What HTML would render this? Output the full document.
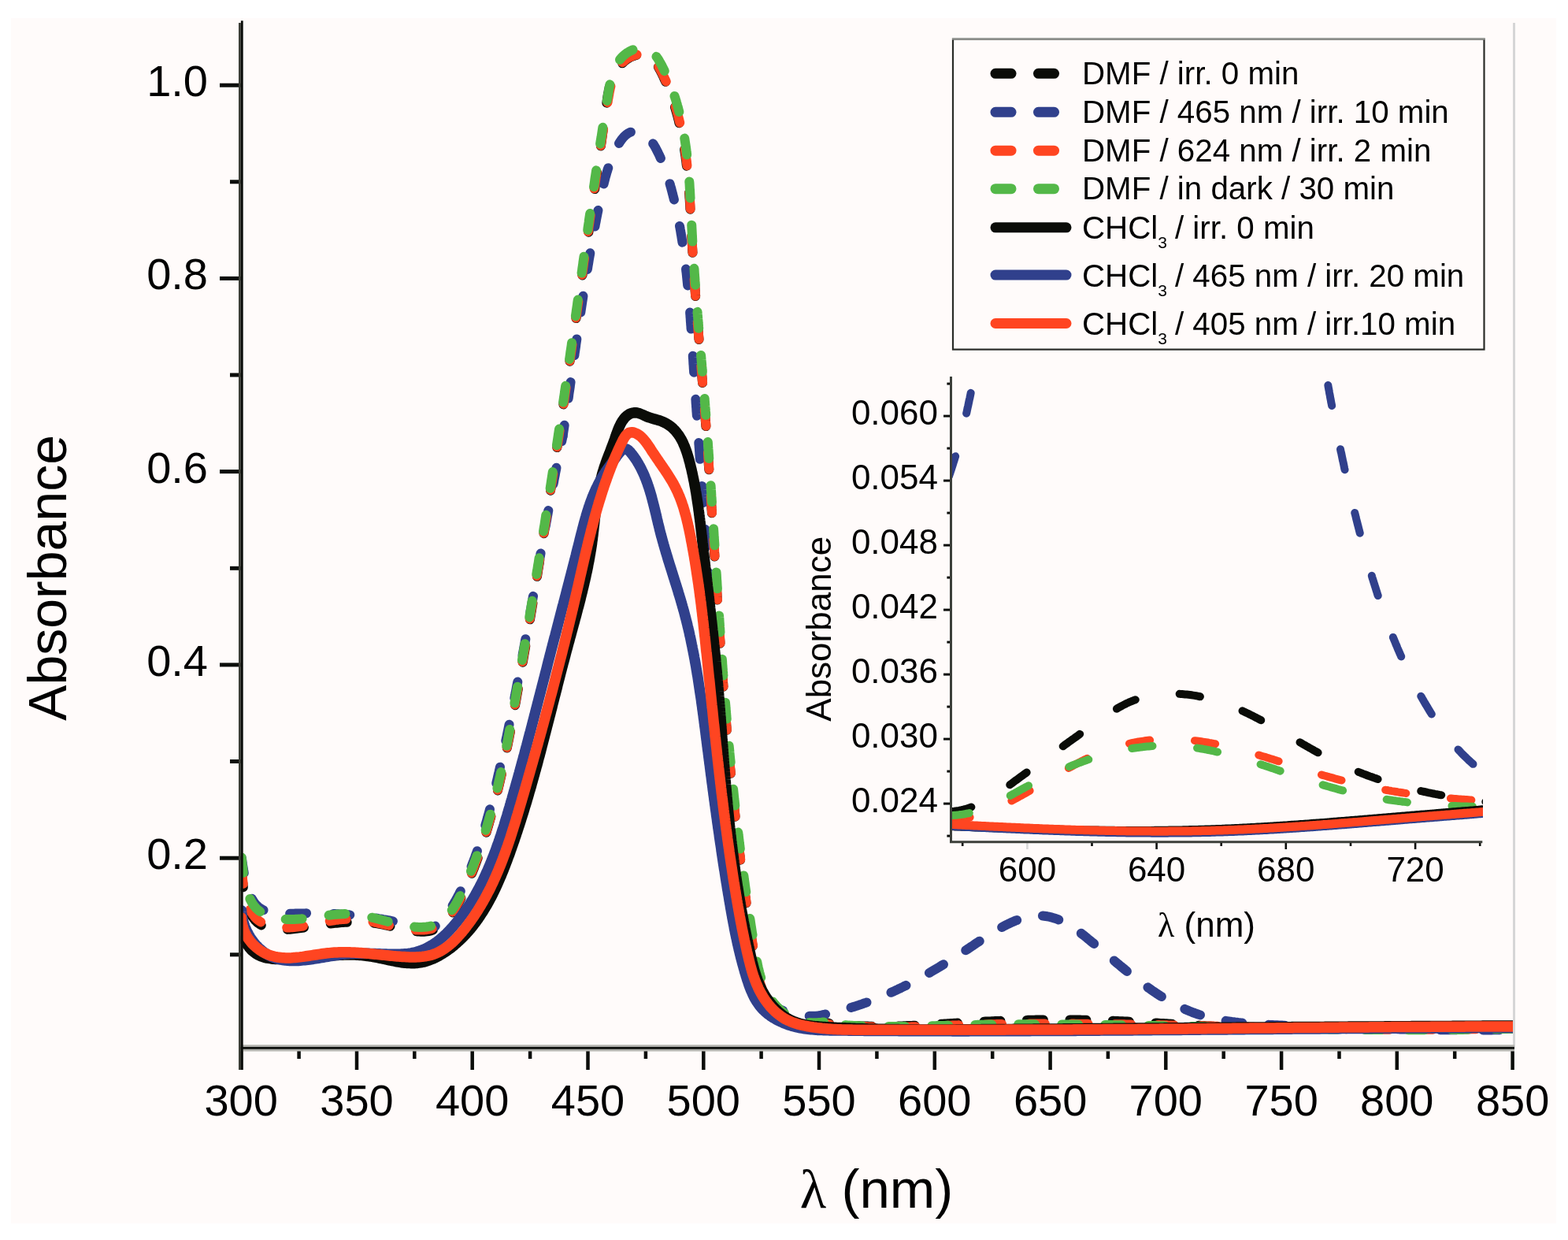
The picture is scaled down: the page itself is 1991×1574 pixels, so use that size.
<!DOCTYPE html>
<html><head><meta charset="utf-8"><title>Absorbance spectra</title>
<style>html,body{margin:0;padding:0;background:#fff;overflow:hidden}svg{display:block}</style>
</head><body>
<svg width="1991" height="1574" viewBox="0 0 1991 1574" font-family="'Liberation Sans', sans-serif" fill="#000">
<rect x="0" y="0" width="1991" height="1574" fill="#ffffff"/>
<rect x="14" y="23" width="1962" height="1530" fill="#fffbfa"/>
<defs><clipPath id="cm"><rect x="303" y="25" width="1619" height="1303"/></clipPath><clipPath id="ci"><rect x="1207" y="478" width="676" height="590"/></clipPath></defs>
<g clip-path="url(#cm)">
<path d="M306.8,1106.8 L307.0,1108.7 L307.1,1110.7 L307.3,1112.7 L307.5,1114.7 L307.7,1116.7 L307.9,1118.7 L308.2,1120.7 L308.4,1122.7 L308.7,1124.7 L308.9,1126.6 L309.2,1128.6 L309.6,1130.6 L309.9,1132.6 L310.3,1134.5 L310.7,1136.5 L311.1,1138.4 L311.5,1140.4 L312.0,1142.3 L312.5,1144.3 L313.0,1146.2 L313.6,1148.1 L314.2,1150.0 L314.9,1151.9 L315.6,1153.8 L316.3,1155.6 L317.1,1157.5 L318.0,1159.3 L318.9,1161.0 L319.9,1162.8 L321.0,1164.4 L322.2,1166.1 L323.4,1167.6 L324.8,1169.1 L326.2,1170.5 L327.8,1171.8 L329.4,1172.9 L331.1,1174.0 L332.8,1175.0 L334.6,1175.9 L336.4,1176.7 L338.3,1177.4 L340.2,1178.0 L342.2,1178.5 L344.1,1178.9 L346.1,1179.2 L348.1,1179.5 L350.0,1179.8 L352.0,1179.9 L354.0,1180.0 L356.0,1180.1 L358.0,1180.1 L360.0,1180.1 L362.0,1180.0 L364.0,1180.0 L366.0,1179.8 L368.0,1179.7 L370.0,1179.5 L372.0,1179.3 L374.0,1179.1 L376.0,1178.9 L378.0,1178.6 L379.9,1178.4 L381.9,1178.1 L383.9,1177.8 L385.9,1177.5 L387.9,1177.2 L389.8,1176.9 L391.8,1176.6 L393.8,1176.3 L395.8,1176.0 L397.8,1175.7 L399.7,1175.4 L401.7,1175.1 L403.7,1174.8 L405.7,1174.5 L407.6,1174.3 L409.6,1174.0 L411.6,1173.7 L413.6,1173.4 L415.6,1173.1 L417.6,1172.9 L419.5,1172.6 L421.5,1172.4 L423.5,1172.1 L425.5,1171.9 L427.5,1171.7 L429.5,1171.5 L431.5,1171.3 L433.5,1171.1 L435.4,1171.0 L437.4,1170.8 L439.4,1170.7 L441.4,1170.6 L443.4,1170.5 L445.4,1170.4 L447.4,1170.3 L449.4,1170.3 L451.4,1170.3 L453.4,1170.3 L455.4,1170.3 L457.4,1170.3 L459.4,1170.4 L461.4,1170.5 L463.4,1170.6 L465.4,1170.8 L467.4,1170.9 L469.4,1171.1 L471.4,1171.3 L473.4,1171.5 L475.4,1171.8 L477.3,1172.1 L479.3,1172.4 L481.3,1172.7 L483.3,1173.1 L485.2,1173.5 L487.2,1173.9 L489.1,1174.3 L491.1,1174.7 L493.0,1175.2 L495.0,1175.6 L496.9,1176.1 L498.9,1176.5 L500.8,1177.0 L502.8,1177.5 L504.7,1177.9 L506.7,1178.4 L508.6,1178.8 L510.6,1179.3 L512.5,1179.7 L514.5,1180.1 L516.4,1180.5 L518.4,1180.9 L520.4,1181.2 L522.3,1181.6 L524.3,1181.9 L526.3,1182.1 L528.3,1182.3 L530.3,1182.5 L532.3,1182.6 L534.3,1182.7 L536.3,1182.7 L538.3,1182.7 L540.3,1182.5 L542.3,1182.3 L544.2,1182.0 L546.2,1181.6 L548.1,1181.1 L550.0,1180.5 L551.9,1179.8 L553.7,1179.0 L555.5,1178.1 L557.2,1177.1 L558.9,1176.0 L560.5,1174.8 L562.1,1173.5 L563.6,1172.2 L565.0,1170.8 L566.4,1169.4 L567.8,1167.9 L569.1,1166.4 L570.4,1164.9 L571.6,1163.3 L572.8,1161.7 L574.0,1160.1 L575.1,1158.4 L576.2,1156.8 L577.3,1155.1 L578.3,1153.4 L579.3,1151.6 L580.3,1149.9 L581.3,1148.1 L582.2,1146.4 L583.1,1144.6 L584.1,1142.8 L585.0,1141.0 L585.8,1139.3 L586.7,1137.5 L587.6,1135.6 L588.4,1133.8 L589.2,1132.0 L590.1,1130.2 L590.9,1128.4 L591.7,1126.5 L592.5,1124.7 L593.3,1122.9 L594.1,1121.0 L594.9,1119.2 L595.6,1117.4 L596.4,1115.5 L597.2,1113.7 L597.9,1111.8 L598.7,1110.0 L599.4,1108.1 L600.2,1106.2 L600.9,1104.4 L601.7,1102.5 L602.4,1100.7 L603.1,1098.8 L603.8,1096.9 L604.5,1095.1 L605.2,1093.2 L605.9,1091.3 L606.6,1089.4 L607.3,1087.5 L607.9,1085.7 L608.6,1083.8 L609.3,1081.9 L609.9,1080.0 L610.6,1078.1 L611.2,1076.2 L611.8,1074.3 L612.5,1072.4 L613.1,1070.5 L613.7,1068.6 L614.3,1066.7 L615.0,1064.8 L615.6,1062.9 L616.2,1061.0 L616.8,1059.1 L617.4,1057.2 L617.9,1055.3 L618.5,1053.3 L619.1,1051.4 L619.7,1049.5 L620.2,1047.6 L620.8,1045.7 L621.3,1043.8 L621.9,1041.8 L622.4,1039.9 L623.0,1038.0 L623.5,1036.1 L624.1,1034.1 L624.6,1032.2 L625.1,1030.3 L625.6,1028.3 L626.2,1026.4 L626.7,1024.5 L627.2,1022.5 L627.7,1020.6 L628.2,1018.7 L628.7,1016.7 L629.2,1014.8 L629.7,1012.9 L630.2,1010.9 L630.6,1009.0 L631.1,1007.0 L631.6,1005.1 L632.1,1003.1 L632.5,1001.2 L633.0,999.3 L633.5,997.3 L633.9,995.4 L634.4,993.4 L634.8,991.5 L635.3,989.5 L635.7,987.6 L636.1,985.6 L636.6,983.7 L637.0,981.7 L637.5,979.8 L637.9,977.8 L638.3,975.9 L638.7,973.9 L639.2,971.9 L639.6,970.0 L640.0,968.0 L640.4,966.1 L640.8,964.1 L641.2,962.2 L641.6,960.2 L642.0,958.3 L642.5,956.3 L642.9,954.3 L643.2,952.4 L643.6,950.4 L644.0,948.5 L644.4,946.5 L644.8,944.5 L645.2,942.6 L645.6,940.6 L646.0,938.6 L646.4,936.7 L646.7,934.7 L647.1,932.8 L647.5,930.8 L647.9,928.8 L648.3,926.9 L648.6,924.9 L649.0,922.9 L649.4,921.0 L649.7,919.0 L650.1,917.0 L650.5,915.1 L650.8,913.1 L651.2,911.1 L651.6,909.2 L651.9,907.2 L652.3,905.2 L652.6,903.3 L653.0,901.3 L653.4,899.3 L653.7,897.4 L654.1,895.4 L654.4,893.4 L654.8,891.5 L655.1,889.5 L655.5,887.5 L655.8,885.5 L656.2,883.6 L656.5,881.6 L656.9,879.6 L657.2,877.7 L657.6,875.7 L658.0,873.7 L658.3,871.8 L658.6,869.8 L659.0,867.8 L659.3,865.9 L659.7,863.9 L660.0,861.9 L660.4,859.9 L660.7,858.0 L661.1,856.0 L661.4,854.0 L661.8,852.1 L662.1,850.1 L662.5,848.1 L662.8,846.2 L663.1,844.2 L663.5,842.2 L663.8,840.2 L664.2,838.3 L664.5,836.3 L664.8,834.3 L665.2,832.4 L665.5,830.4 L665.9,828.4 L666.2,826.5 L666.5,824.5 L666.9,822.5 L667.2,820.5 L667.6,818.6 L667.9,816.6 L668.2,814.6 L668.6,812.7 L668.9,810.7 L669.2,808.7 L669.6,806.7 L669.9,804.8 L670.2,802.8 L670.6,800.8 L670.9,798.8 L671.2,796.9 L671.6,794.9 L671.9,792.9 L672.2,791.0 L672.6,789.0 L672.9,787.0 L673.2,785.0 L673.5,783.1 L673.9,781.1 L674.2,779.1 L674.5,777.1 L674.9,775.2 L675.2,773.2 L675.5,771.2 L675.8,769.3 L676.2,767.3 L676.5,765.3 L676.8,763.3 L677.1,761.4 L677.5,759.4 L677.8,757.4 L678.1,755.4 L678.4,753.5 L678.7,751.5 L679.1,749.5 L679.4,747.5 L679.7,745.6 L680.0,743.6 L680.4,741.6 L680.7,739.6 L681.0,737.7 L681.3,735.7 L681.6,733.7 L682.0,731.8 L682.3,729.8 L682.6,727.8 L682.9,725.8 L683.2,723.9 L683.5,721.9 L683.9,719.9 L684.2,717.9 L684.5,716.0 L684.8,714.0 L685.1,712.0 L685.4,710.0 L685.8,708.1 L686.1,706.1 L686.4,704.1 L686.7,702.1 L687.0,700.2 L687.3,698.2 L687.6,696.2 L687.9,694.2 L688.3,692.3 L688.6,690.3 L688.9,688.3 L689.2,686.3 L689.5,684.3 L689.8,682.4 L690.1,680.4 L690.4,678.4 L690.7,676.4 L691.1,674.5 L691.4,672.5 L691.7,670.5 L692.0,668.5 L692.3,666.6 L692.6,664.6 L692.9,662.6 L693.2,660.6 L693.5,658.7 L693.8,656.7 L694.1,654.7 L694.4,652.7 L694.7,650.8 L695.0,648.8 L695.4,646.8 L695.7,644.8 L696.0,642.8 L696.3,640.9 L696.6,638.9 L696.9,636.9 L697.2,634.9 L697.5,633.0 L697.8,631.0 L698.1,629.0 L698.4,627.0 L698.7,625.1 L699.0,623.1 L699.3,621.1 L699.6,619.1 L699.9,617.1 L700.2,615.2 L700.5,613.2 L700.8,611.2 L701.1,609.2 L701.4,607.3 L701.7,605.3 L702.0,603.3 L702.3,601.3 L702.6,599.4 L702.9,597.4 L703.2,595.4 L703.5,593.4 L703.8,591.4 L704.1,589.5 L704.4,587.5 L704.7,585.5 L705.0,583.5 L705.3,581.6 L705.6,579.6 L705.9,577.6 L706.2,575.6 L706.5,573.6 L706.8,571.7 L707.1,569.7 L707.4,567.7 L707.7,565.7 L708.0,563.8 L708.3,561.8 L708.6,559.8 L708.9,557.8 L709.1,555.8 L709.4,553.9 L709.7,551.9 L710.0,549.9 L710.3,547.9 L710.6,546.0 L710.9,544.0 L711.2,542.0 L711.5,540.0 L711.8,538.0 L712.1,536.1 L712.4,534.1 L712.7,532.1 L713.0,530.1 L713.3,528.1 L713.6,526.2 L713.9,524.2 L714.1,522.2 L714.4,520.2 L714.7,518.3 L715.0,516.3 L715.3,514.3 L715.6,512.3 L715.9,510.3 L716.2,508.4 L716.5,506.4 L716.8,504.4 L717.1,502.4 L717.4,500.4 L717.7,498.5 L717.9,496.5 L718.2,494.5 L718.5,492.5 L718.8,490.6 L719.1,488.6 L719.4,486.6 L719.7,484.6 L720.0,482.6 L720.3,480.7 L720.6,478.7 L720.9,476.7 L721.1,474.7 L721.4,472.7 L721.7,470.8 L722.0,468.8 L722.3,466.8 L722.6,464.8 L722.9,462.9 L723.2,460.9 L723.5,458.9 L723.8,456.9 L724.0,454.9 L724.3,453.0 L724.6,451.0 L724.9,449.0 L725.2,447.0 L725.5,445.0 L725.8,443.1 L726.1,441.1 L726.4,439.1 L726.7,437.1 L726.9,435.1 L727.2,433.2 L727.5,431.2 L727.8,429.2 L728.1,427.2 L728.4,425.3 L728.7,423.3 L729.0,421.3 L729.3,419.3 L729.5,417.3 L729.8,415.4 L730.1,413.4 L730.4,411.4 L730.7,409.4 L731.0,407.4 L731.3,405.5 L731.6,403.5 L731.9,401.5 L732.1,399.5 L732.4,397.5 L732.7,395.6 L733.0,393.6 L733.3,391.6 L733.6,389.6 L733.9,387.7 L734.2,385.7 L734.5,383.7 L734.7,381.7 L735.0,379.7 L735.3,377.8 L735.6,375.8 L735.9,373.8 L736.2,371.8 L736.5,369.8 L736.8,367.9 L737.1,365.9 L737.4,363.9 L737.6,361.9 L737.9,359.9 L738.2,358.0 L738.5,356.0 L738.8,354.0 L739.1,352.0 L739.4,350.1 L739.7,348.1 L739.9,346.1 L740.2,344.1 L740.5,342.1 L740.8,340.2 L741.1,338.2 L741.4,336.2 L741.7,334.2 L742.0,332.2 L742.3,330.3 L742.5,328.3 L742.8,326.3 L743.1,324.3 L743.4,322.3 L743.7,320.4 L744.0,318.4 L744.3,316.4 L744.6,314.4 L744.8,312.4 L745.1,310.5 L745.4,308.5 L745.7,306.5 L746.0,304.5 L746.3,302.5 L746.6,300.6 L746.8,298.6 L747.1,296.6 L747.4,294.6 L747.7,292.7 L748.0,290.7 L748.3,288.7 L748.6,286.7 L748.8,284.7 L749.1,282.8 L749.4,280.8 L749.7,278.8 L750.0,276.8 L750.3,274.8 L750.6,272.9 L750.8,270.9 L751.1,268.9 L751.4,266.9 L751.7,264.9 L752.0,263.0 L752.3,261.0 L752.5,259.0 L752.8,257.0 L753.1,255.0 L753.4,253.1 L753.7,251.1 L754.0,249.1 L754.2,247.1 L754.5,245.1 L754.8,243.2 L755.1,241.2 L755.4,239.2 L755.6,237.2 L755.9,235.2 L756.2,233.3 L756.5,231.3 L756.8,229.3 L757.0,227.3 L757.3,225.3 L757.6,223.4 L757.9,221.4 L758.2,219.4 L758.4,217.4 L758.7,215.4 L759.0,213.5 L759.3,211.5 L759.6,209.5 L759.8,207.5 L760.1,205.5 L760.4,203.5 L760.7,201.6 L760.9,199.6 L761.2,197.6 L761.5,195.6 L761.8,193.6 L762.0,191.7 L762.3,189.7 L762.6,187.7 L762.9,185.7 L763.1,183.7 L763.4,181.8 L763.7,179.8 L764.0,177.8 L764.2,175.8 L764.5,173.8 L764.8,171.9 L765.0,169.9 L765.3,167.9 L765.6,165.9 L765.9,163.9 L766.1,161.9 L766.4,160.0 L766.7,158.0 L766.9,156.0 L767.2,154.0 L767.5,152.0 L767.7,150.1 L768.0,148.1 L768.3,146.1 L768.5,144.1 L768.8,142.1 L769.1,140.1 L769.3,138.2 L769.6,136.2 L769.9,134.2 L770.1,132.2 L770.4,130.2 L770.7,128.2 L770.9,126.3 L771.2,124.3 L771.5,122.3 L771.8,120.3 L772.2,118.4 L772.6,116.4 L772.9,114.4 L773.4,112.5 L773.8,110.5 L774.4,108.6 L774.9,106.7 L775.5,104.8 L776.2,102.9 L776.9,101.0 L777.6,99.2 L778.4,97.3 L779.3,95.5 L780.2,93.8 L781.2,92.0 L782.2,90.3 L783.3,88.6 L784.5,87.0 L785.7,85.4 L786.9,83.8 L788.3,82.3 L789.6,80.9 L791.1,79.5 L792.5,78.1 L794.1,76.8 L795.7,75.6 L797.3,74.5 L799.0,73.5 L800.8,72.5 L802.6,71.7 L804.5,71.0 L806.4,70.3 L808.3,69.8 L810.3,69.5 L812.3,69.3 L814.3,69.2 L816.2,69.3 L818.2,69.7 L820.1,70.2 L822.0,71.0 L823.8,71.9 L825.4,73.0 L827.0,74.2 L828.5,75.5 L829.9,77.0 L831.2,78.5 L832.5,80.0 L833.6,81.7 L834.8,83.3 L835.8,85.0 L836.8,86.7 L837.8,88.5 L838.8,90.2 L839.7,92.0 L840.6,93.8 L841.4,95.6 L842.3,97.4 L843.1,99.2 L843.9,101.1 L844.8,102.9 L845.6,104.7 L846.3,106.6 L847.1,108.4 L847.9,110.3 L848.6,112.1 L849.4,114.0 L850.1,115.8 L850.8,117.7 L851.5,119.6 L852.2,121.5 L852.8,123.4 L853.5,125.2 L854.1,127.1 L854.8,129.0 L855.4,130.9 L856.0,132.8 L856.6,134.7 L857.2,136.7 L857.8,138.6 L858.3,140.5 L858.9,142.4 L859.4,144.3 L860.0,146.3 L860.5,148.2 L861.0,150.1 L861.5,152.1 L862.0,154.0 L862.4,156.0 L862.9,157.9 L863.4,159.8 L863.8,161.8 L864.2,163.7 L864.7,165.7 L865.1,167.7 L865.5,169.6 L865.9,171.6 L866.3,173.5 L866.6,175.5 L867.0,177.5 L867.4,179.4 L867.7,181.4 L868.0,183.4 L868.4,185.4 L868.7,187.3 L869.0,189.3 L869.3,191.3 L869.6,193.3 L869.9,195.2 L870.2,197.2 L870.5,199.2 L870.7,201.2 L871.0,203.2 L871.3,205.1 L871.5,207.1 L871.7,209.1 L872.0,211.1 L872.2,213.1 L872.4,215.1 L872.6,217.1 L872.9,219.0 L873.1,221.0 L873.3,223.0 L873.4,225.0 L873.6,227.0 L873.8,229.0 L874.0,231.0 L874.2,233.0 L874.3,235.0 L874.5,237.0 L874.7,239.0 L874.8,241.0 L875.0,243.0 L875.1,244.9 L875.3,246.9 L875.4,248.9 L875.5,250.9 L875.7,252.9 L875.8,254.9 L875.9,256.9 L876.1,258.9 L876.2,260.9 L876.3,262.9 L876.4,264.9 L876.5,266.9 L876.7,268.9 L876.8,270.9 L876.9,272.9 L877.0,274.9 L877.1,276.9 L877.2,278.9 L877.3,280.9 L877.4,282.9 L877.5,284.9 L877.6,286.9 L877.7,288.9 L877.8,290.9 L877.9,292.9 L878.0,294.9 L878.1,296.9 L878.2,298.9 L878.4,300.9 L878.5,302.9 L878.6,304.8 L878.7,306.8 L878.8,308.8 L878.9,310.8 L879.0,312.8 L879.1,314.8 L879.2,316.8 L879.3,318.8 L879.5,320.8 L879.6,322.8 L879.7,324.8 L879.8,326.8 L879.9,328.8 L880.1,330.8 L880.2,332.8 L880.3,334.8 L880.5,336.8 L880.6,338.8 L880.7,340.8 L880.8,342.8 L881.0,344.8 L881.1,346.8 L881.2,348.8 L881.4,350.8 L881.5,352.8 L881.7,354.8 L881.8,356.7 L881.9,358.7 L882.1,360.7 L882.2,362.7 L882.4,364.7 L882.5,366.7 L882.6,368.7 L882.8,370.7 L882.9,372.7 L883.1,374.7 L883.2,376.7 L883.4,378.7 L883.5,380.7 L883.7,382.7 L883.8,384.7 L884.0,386.7 L884.1,388.7 L884.3,390.7 L884.4,392.7 L884.6,394.6 L884.7,396.6 L884.9,398.6 L885.1,400.6 L885.2,402.6 L885.4,404.6 L885.5,406.6 L885.7,408.6 L885.9,410.6 L886.0,412.6 L886.2,414.6 L886.3,416.6 L886.5,418.6 L886.7,420.6 L886.8,422.6 L887.0,424.5 L887.1,426.5 L887.3,428.5 L887.5,430.5 L887.6,432.5 L887.8,434.5 L888.0,436.5 L888.1,438.5 L888.3,440.5 L888.4,442.5 L888.6,444.5 L888.8,446.5 L888.9,448.5 L889.1,450.5 L889.3,452.5 L889.4,454.4 L889.6,456.4 L889.8,458.4 L889.9,460.4 L890.1,462.4 L890.3,464.4 L890.4,466.4 L890.6,468.4 L890.7,470.4 L890.9,472.4 L891.1,474.4 L891.2,476.4 L891.4,478.4 L891.6,480.4 L891.7,482.4 L891.9,484.3 L892.1,486.3 L892.2,488.3 L892.4,490.3 L892.5,492.3 L892.7,494.3 L892.9,496.3 L893.0,498.3 L893.2,500.3 L893.3,502.3 L893.5,504.3 L893.7,506.3 L893.8,508.3 L894.0,510.3 L894.1,512.3 L894.3,514.3 L894.5,516.2 L894.6,518.2 L894.8,520.2 L894.9,522.2 L895.1,524.2 L895.2,526.2 L895.4,528.2 L895.5,530.2 L895.7,532.2 L895.8,534.2 L896.0,536.2 L896.1,538.2 L896.3,540.2 L896.4,542.2 L896.6,544.2 L896.7,546.2 L896.9,548.2 L897.0,550.1 L897.2,552.1 L897.3,554.1 L897.5,556.1 L897.6,558.1 L897.7,560.1 L897.9,562.1 L898.0,564.1 L898.2,566.1 L898.3,568.1 L898.5,570.1 L898.6,572.1 L898.7,574.1 L898.9,576.1 L899.0,578.1 L899.2,580.1 L899.3,582.1 L899.4,584.1 L899.6,586.1 L899.7,588.1 L899.8,590.0 L900.0,592.0 L900.1,594.0 L900.3,596.0 L900.4,598.0 L900.5,600.0 L900.7,602.0 L900.8,604.0 L900.9,606.0 L901.1,608.0 L901.2,610.0 L901.3,612.0 L901.5,614.0 L901.6,616.0 L901.7,618.0 L901.9,620.0 L902.0,622.0 L902.1,624.0 L902.2,626.0 L902.4,628.0 L902.5,630.0 L902.6,632.0 L902.8,634.0 L902.9,635.9 L903.0,637.9 L903.2,639.9 L903.3,641.9 L903.4,643.9 L903.5,645.9 L903.7,647.9 L903.8,649.9 L903.9,651.9 L904.0,653.9 L904.2,655.9 L904.3,657.9 L904.4,659.9 L904.6,661.9 L904.7,663.9 L904.8,665.9 L904.9,667.9 L905.1,669.9 L905.2,671.9 L905.3,673.9 L905.4,675.9 L905.6,677.9 L905.7,679.9 L905.8,681.9 L905.9,683.9 L906.1,685.8 L906.2,687.8 L906.3,689.8 L906.4,691.8 L906.6,693.8 L906.7,695.8 L906.8,697.8 L906.9,699.8 L907.1,701.8 L907.2,703.8 L907.3,705.8 L907.4,707.8 L907.6,709.8 L907.7,711.8 L907.8,713.8 L907.9,715.8 L908.1,717.8 L908.2,719.8 L908.3,721.8 L908.4,723.8 L908.6,725.8 L908.7,727.8 L908.8,729.8 L908.9,731.8 L909.1,733.8 L909.2,735.7 L909.3,737.7 L909.4,739.7 L909.6,741.7 L909.7,743.7 L909.8,745.7 L909.9,747.7 L910.1,749.7 L910.2,751.7 L910.3,753.7 L910.5,755.7 L910.6,757.7 L910.7,759.7 L910.8,761.7 L911.0,763.7 L911.1,765.7 L911.2,767.7 L911.4,769.7 L911.5,771.7 L911.6,773.7 L911.7,775.7 L911.9,777.7 L912.0,779.7 L912.1,781.7 L912.3,783.7 L912.4,785.6 L912.5,787.6 L912.7,789.6 L912.8,791.6 L912.9,793.6 L913.0,795.6 L913.2,797.6 L913.3,799.6 L913.4,801.6 L913.6,803.6 L913.7,805.6 L913.8,807.6 L914.0,809.6 L914.1,811.6 L914.3,813.6 L914.4,815.6 L914.5,817.6 L914.7,819.6 L914.8,821.6 L914.9,823.6 L915.1,825.6 L915.2,827.6 L915.3,829.5 L915.5,831.5 L915.6,833.5 L915.8,835.5 L915.9,837.5 L916.0,839.5 L916.2,841.5 L916.3,843.5 L916.5,845.5 L916.6,847.5 L916.8,849.5 L916.9,851.5 L917.0,853.5 L917.2,855.5 L917.3,857.5 L917.5,859.5 L917.6,861.5 L917.8,863.5 L917.9,865.5 L918.1,867.4 L918.2,869.4 L918.4,871.4 L918.5,873.4 L918.7,875.4 L918.8,877.4 L919.0,879.4 L919.1,881.4 L919.3,883.4 L919.4,885.4 L919.6,887.4 L919.7,889.4 L919.9,891.4 L920.1,893.4 L920.2,895.4 L920.4,897.4 L920.5,899.4 L920.7,901.3 L920.8,903.3 L921.0,905.3 L921.2,907.3 L921.3,909.3 L921.5,911.3 L921.7,913.3 L921.8,915.3 L922.0,917.3 L922.1,919.3 L922.3,921.3 L922.5,923.3 L922.6,925.3 L922.8,927.3 L923.0,929.3 L923.2,931.2 L923.3,933.2 L923.5,935.2 L923.7,937.2 L923.8,939.2 L924.0,941.2 L924.2,943.2 L924.4,945.2 L924.5,947.2 L924.7,949.2 L924.9,951.2 L925.1,953.2 L925.3,955.2 L925.4,957.1 L925.6,959.1 L925.8,961.1 L926.0,963.1 L926.2,965.1 L926.4,967.1 L926.6,969.1 L926.7,971.1 L926.9,973.1 L927.1,975.1 L927.3,977.1 L927.5,979.0 L927.7,981.0 L927.9,983.0 L928.1,985.0 L928.3,987.0 L928.5,989.0 L928.7,991.0 L928.9,993.0 L929.1,995.0 L929.3,997.0 L929.5,999.0 L929.7,1000.9 L929.9,1002.9 L930.1,1004.9 L930.3,1006.9 L930.5,1008.9 L930.7,1010.9 L930.9,1012.9 L931.1,1014.9 L931.3,1016.9 L931.5,1018.8 L931.8,1020.8 L932.0,1022.8 L932.2,1024.8 L932.4,1026.8 L932.6,1028.8 L932.8,1030.8 L933.1,1032.8 L933.3,1034.7 L933.5,1036.7 L933.7,1038.7 L934.0,1040.7 L934.2,1042.7 L934.4,1044.7 L934.6,1046.7 L934.9,1048.7 L935.1,1050.6 L935.3,1052.6 L935.6,1054.6 L935.8,1056.6 L936.0,1058.6 L936.3,1060.6 L936.5,1062.6 L936.7,1064.5 L937.0,1066.5 L937.2,1068.5 L937.5,1070.5 L937.7,1072.5 L937.9,1074.5 L938.2,1076.5 L938.4,1078.4 L938.7,1080.4 L938.9,1082.4 L939.2,1084.4 L939.4,1086.4 L939.7,1088.4 L939.9,1090.4 L940.2,1092.3 L940.4,1094.3 L940.7,1096.3 L941.0,1098.3 L941.2,1100.3 L941.5,1102.3 L941.7,1104.2 L942.0,1106.2 L942.3,1108.2 L942.5,1110.2 L942.8,1112.2 L943.0,1114.1 L943.3,1116.1 L943.6,1118.1 L943.8,1120.1 L944.1,1122.1 L944.4,1124.1 L944.7,1126.0 L944.9,1128.0 L945.2,1130.0 L945.5,1132.0 L945.8,1134.0 L946.0,1135.9 L946.3,1137.9 L946.6,1139.9 L946.9,1141.9 L947.2,1143.9 L947.4,1145.8 L947.7,1147.8 L948.0,1149.8 L948.3,1151.8 L948.6,1153.8 L948.9,1155.7 L949.1,1157.7 L949.4,1159.7 L949.7,1161.7 L950.0,1163.7 L950.3,1165.6 L950.6,1167.6 L950.9,1169.6 L951.2,1171.6 L951.5,1173.6 L951.8,1175.5 L952.1,1177.5 L952.4,1179.5 L952.7,1181.5 L953.0,1183.4 L953.3,1185.4 L953.6,1187.4 L953.9,1189.4 L954.2,1191.3 L954.5,1193.3 L954.8,1195.3 L955.1,1197.3 L955.4,1199.2 L955.8,1201.2 L956.1,1203.2 L956.4,1205.2 L956.7,1207.2 L957.0,1209.1 L957.3,1211.1 L957.6,1213.1 L958.0,1215.1 L958.3,1217.0 L958.6,1219.0 L958.9,1221.0 L959.2,1222.9 L959.6,1224.9 L959.9,1226.9 L960.3,1228.9 L960.6,1230.8 L961.0,1232.8 L961.4,1234.8 L961.8,1236.7 L962.2,1238.7 L962.6,1240.6 L963.1,1242.6 L963.6,1244.5 L964.1,1246.4 L964.6,1248.4 L965.2,1250.3 L965.7,1252.2 L966.4,1254.1 L967.0,1256.0 L967.7,1257.9 L968.4,1259.7 L969.2,1261.6 L970.0,1263.4 L970.8,1265.3 L971.7,1267.1 L972.6,1268.8 L973.5,1270.6 L974.5,1272.3 L975.6,1274.0 L976.6,1275.7 L977.7,1277.4 L978.9,1279.0 L980.1,1280.6 L981.3,1282.2 L982.6,1283.7 L983.9,1285.2 L985.3,1286.7 L986.7,1288.2 L988.1,1289.5 L989.6,1290.9 L991.1,1292.2 L992.6,1293.5 L994.2,1294.7 L995.8,1295.9 L997.5,1297.0 L999.2,1298.0 L1000.9,1299.0 L1002.7,1300.0 L1004.5,1300.8 L1006.4,1301.6 L1008.2,1302.3 L1010.1,1302.9 L1012.1,1303.4 L1014.0,1303.9 L1016.0,1304.2 L1018.0,1304.5 L1020.0,1304.6 L1022.0,1304.7 L1024.0,1304.6 L1026.0,1304.5 L1027.9,1304.2 L1029.9,1303.8 L1031.9,1303.4 L1033.8,1302.8 L1035.7,1302.2 L1037.5,1301.5 L1039.4,1300.7 L1041.2,1299.8 L1042.9,1298.8 L1044.6,1297.8 L1046.2,1296.8" fill="none" stroke="#0a0c08" stroke-width="12" stroke-linecap="round" stroke-linejoin="round" stroke-dasharray="21.0 34.25" stroke-dashoffset="1.5"/>
<path d="M1045.9,1297.8 L1047.9,1298.1 L1049.8,1298.4 L1051.8,1298.7 L1053.8,1299.0 L1055.8,1299.2 L1057.8,1299.5 L1059.7,1299.7 L1061.7,1299.9 L1063.7,1300.2 L1065.7,1300.4 L1067.7,1300.6 L1069.7,1300.8 L1071.7,1300.9 L1073.7,1301.1 L1075.7,1301.3 L1077.7,1301.4 L1079.7,1301.6 L1081.7,1301.7 L1083.6,1301.8 L1085.6,1302.0 L1087.6,1302.1 L1089.6,1302.2 L1091.6,1302.3 L1093.6,1302.4 L1095.6,1302.4 L1097.6,1302.5 L1099.6,1302.6 L1101.6,1302.6 L1103.6,1302.7 L1105.6,1302.7 L1107.6,1302.8 L1109.6,1302.8 L1111.6,1302.8 L1113.6,1302.8 L1115.6,1302.9 L1117.6,1302.9 L1119.6,1302.9 L1121.6,1302.9 L1123.6,1302.8 L1125.6,1302.8 L1127.6,1302.8 L1129.6,1302.8 L1131.6,1302.7 L1133.6,1302.7 L1135.6,1302.7 L1137.6,1302.6 L1139.6,1302.6 L1141.6,1302.5 L1143.6,1302.4 L1145.6,1302.4 L1147.6,1302.3 L1149.6,1302.2 L1151.6,1302.1 L1153.6,1302.1 L1155.6,1302.0 L1157.6,1301.9 L1159.6,1301.8 L1161.6,1301.7 L1163.6,1301.6 L1165.6,1301.5 L1167.6,1301.4 L1169.6,1301.3 L1171.6,1301.2 L1173.6,1301.1 L1175.6,1301.0 L1177.6,1300.9 L1179.6,1300.7 L1181.6,1300.6 L1183.6,1300.5 L1185.6,1300.4 L1187.6,1300.3 L1189.6,1300.2 L1191.6,1300.0 L1193.6,1299.9 L1195.6,1299.8 L1197.6,1299.7 L1199.5,1299.5 L1201.5,1299.4 L1203.5,1299.3 L1205.5,1299.2 L1207.5,1299.0 L1209.5,1298.9 L1211.5,1298.8 L1213.5,1298.7 L1215.5,1298.6 L1217.5,1298.4 L1219.5,1298.3 L1221.5,1298.2 L1223.5,1298.1 L1225.5,1298.0 L1227.5,1297.9 L1229.5,1297.7 L1231.5,1297.6 L1233.5,1297.5 L1235.5,1297.4 L1237.5,1297.3 L1239.5,1297.2 L1241.5,1297.1 L1243.5,1297.0 L1245.5,1296.9 L1247.5,1296.8 L1249.5,1296.7 L1251.5,1296.6 L1253.5,1296.5 L1255.5,1296.4 L1257.5,1296.4 L1259.5,1296.3 L1261.5,1296.2 L1263.5,1296.1 L1265.5,1296.0 L1267.4,1295.9 L1269.4,1295.9 L1271.4,1295.8 L1273.4,1295.7 L1275.4,1295.6 L1277.4,1295.6 L1279.4,1295.5 L1281.4,1295.4 L1283.4,1295.4 L1285.4,1295.3 L1287.4,1295.3 L1289.4,1295.2 L1291.4,1295.1 L1293.4,1295.1 L1295.4,1295.0 L1297.4,1295.0 L1299.4,1294.9 L1301.4,1294.9 L1303.4,1294.9 L1305.4,1294.8 L1307.4,1294.8 L1309.4,1294.7 L1311.4,1294.7 L1313.4,1294.7 L1315.4,1294.6 L1317.4,1294.6 L1319.4,1294.6 L1321.4,1294.5 L1323.4,1294.5 L1325.4,1294.5 L1327.4,1294.5 L1329.4,1294.5 L1331.4,1294.5 L1333.4,1294.4 L1335.4,1294.4 L1337.4,1294.4 L1339.4,1294.4 L1341.4,1294.4 L1343.4,1294.4 L1345.4,1294.4 L1347.4,1294.4 L1349.4,1294.4 L1351.4,1294.4 L1353.4,1294.4 L1355.4,1294.5 L1357.4,1294.5 L1359.4,1294.5 L1361.4,1294.5 L1363.4,1294.5 L1365.4,1294.5 L1367.4,1294.6 L1369.4,1294.6 L1371.4,1294.6 L1373.4,1294.7 L1375.4,1294.7 L1377.4,1294.7 L1379.4,1294.8 L1381.4,1294.8 L1383.4,1294.9 L1385.4,1294.9 L1387.4,1295.0 L1389.4,1295.0 L1391.4,1295.1 L1393.4,1295.1 L1395.4,1295.2 L1397.4,1295.2 L1399.4,1295.3 L1401.4,1295.4 L1403.4,1295.4 L1405.4,1295.5 L1407.4,1295.6 L1409.4,1295.7 L1411.4,1295.7 L1413.4,1295.8 L1415.4,1295.9 L1417.4,1296.0 L1419.4,1296.1 L1421.4,1296.2 L1423.4,1296.2 L1425.4,1296.3 L1427.4,1296.4 L1429.4,1296.5 L1431.4,1296.6 L1433.4,1296.7 L1435.4,1296.8 L1437.4,1296.9 L1439.4,1297.0 L1441.4,1297.1 L1443.4,1297.2 L1445.4,1297.3 L1447.4,1297.4 L1449.4,1297.5 L1451.4,1297.6 L1453.4,1297.7 L1455.4,1297.8 L1457.4,1298.0 L1459.4,1298.1 L1461.4,1298.2 L1463.3,1298.3 L1465.3,1298.4 L1467.3,1298.5 L1469.3,1298.6 L1471.3,1298.7 L1473.3,1298.9 L1475.3,1299.0 L1477.3,1299.1 L1479.3,1299.2 L1481.3,1299.3 L1483.3,1299.4 L1485.3,1299.6 L1487.3,1299.7 L1489.3,1299.8 L1491.3,1299.9 L1493.3,1300.0 L1495.3,1300.2 L1497.3,1300.3 L1499.3,1300.4 L1501.3,1300.5 L1503.3,1300.6 L1505.3,1300.7 L1507.3,1300.9 L1509.3,1301.0 L1511.3,1301.1 L1513.3,1301.2 L1515.3,1301.3 L1517.3,1301.5 L1519.3,1301.6 L1521.2,1301.7 L1523.2,1301.8 L1525.2,1301.9 L1527.2,1302.0 L1529.2,1302.1 L1531.2,1302.3 L1533.2,1302.4 L1535.2,1302.5 L1537.2,1302.6 L1539.2,1302.7 L1541.2,1302.8 L1543.2,1302.9 L1545.2,1303.0 L1547.2,1303.1 L1549.2,1303.2 L1551.2,1303.3 L1553.2,1303.4 L1555.2,1303.5 L1557.2,1303.6 L1559.2,1303.7 L1561.2,1303.8 L1563.2,1303.9 L1565.2,1304.0 L1567.2,1304.1 L1569.2,1304.2 L1571.2,1304.3 L1573.2,1304.4 L1575.2,1304.4 L1577.2,1304.5 L1579.2,1304.6 L1581.2,1304.7 L1583.2,1304.8 L1585.2,1304.8 L1587.2,1304.9 L1589.2,1305.0 L1591.2,1305.0 L1593.2,1305.1 L1595.2,1305.2 L1597.2,1305.2 L1599.2,1305.3 L1601.2,1305.4 L1603.2,1305.4 L1605.2,1305.5 L1607.2,1305.5 L1609.2,1305.6 L1611.2,1305.6 L1613.2,1305.7 L1615.2,1305.7 L1617.2,1305.7 L1619.2,1305.8 L1621.2,1305.8 L1623.2,1305.8 L1625.2,1305.9 L1627.2,1305.9 L1629.2,1305.9 L1631.2,1306.0 L1633.2,1306.0 L1635.2,1306.0 L1637.2,1306.0 L1639.2,1306.0 L1641.2,1306.1 L1643.2,1306.1 L1645.2,1306.1 L1647.2,1306.1 L1649.2,1306.1 L1651.2,1306.1 L1653.2,1306.1 L1655.2,1306.1 L1657.2,1306.1 L1659.2,1306.1 L1661.2,1306.1 L1663.2,1306.1 L1665.2,1306.1 L1667.2,1306.1 L1669.2,1306.1 L1671.2,1306.1 L1673.2,1306.1 L1675.2,1306.1 L1677.2,1306.1 L1679.2,1306.1 L1681.2,1306.1 L1683.2,1306.1 L1685.2,1306.1 L1687.2,1306.1 L1689.2,1306.0 L1691.2,1306.0 L1693.2,1306.0 L1695.2,1306.0 L1697.2,1306.0 L1699.2,1306.0 L1701.2,1305.9 L1703.2,1305.9 L1705.2,1305.9 L1707.2,1305.9 L1709.2,1305.8 L1711.2,1305.8 L1713.2,1305.8 L1715.2,1305.8 L1717.2,1305.7 L1719.2,1305.7 L1721.2,1305.7 L1723.2,1305.7 L1725.2,1305.6 L1727.2,1305.6 L1729.2,1305.6 L1731.2,1305.6 L1733.2,1305.5 L1735.2,1305.5 L1737.2,1305.5 L1739.2,1305.4 L1741.2,1305.4 L1743.1,1305.4 L1745.1,1305.3 L1747.1,1305.3 L1749.1,1305.3 L1751.1,1305.2 L1753.1,1305.2 L1755.1,1305.2 L1757.1,1305.2 L1759.1,1305.1 L1761.1,1305.1 L1763.1,1305.1 L1765.1,1305.0 L1767.1,1305.0 L1769.1,1305.0 L1771.1,1304.9 L1773.1,1304.9 L1775.1,1304.9 L1777.1,1304.8 L1779.1,1304.8 L1781.1,1304.8 L1783.1,1304.8 L1785.1,1304.7 L1787.1,1304.7 L1789.1,1304.7 L1791.1,1304.7 L1793.1,1304.6 L1795.1,1304.6 L1797.1,1304.6 L1799.1,1304.6 L1801.1,1304.5 L1803.1,1304.5 L1805.1,1304.5 L1807.1,1304.5 L1809.1,1304.4 L1811.1,1304.4 L1813.1,1304.4 L1815.1,1304.4 L1817.1,1304.4 L1819.1,1304.4 L1821.1,1304.3 L1823.1,1304.3 L1825.1,1304.3 L1827.1,1304.3 L1829.1,1304.3 L1831.1,1304.3 L1833.1,1304.3 L1835.1,1304.3 L1837.1,1304.3 L1839.1,1304.2 L1841.1,1304.2 L1843.1,1304.2 L1845.1,1304.2 L1847.1,1304.2 L1849.1,1304.2 L1851.1,1304.2 L1853.1,1304.2 L1855.1,1304.3 L1857.1,1304.3 L1859.1,1304.3 L1861.1,1304.3 L1863.1,1304.3 L1865.1,1304.3 L1867.1,1304.3 L1869.1,1304.3 L1871.1,1304.4 L1873.1,1304.4 L1875.1,1304.4 L1877.1,1304.4 L1879.1,1304.4 L1881.1,1304.5 L1883.1,1304.5 L1885.1,1304.5 L1887.1,1304.6 L1889.1,1304.6 L1891.1,1304.6 L1893.1,1304.7 L1895.1,1304.7 L1897.1,1304.8 L1899.1,1304.8 L1901.1,1304.9 L1903.1,1304.9 L1905.1,1305.0 L1907.1,1305.0 L1909.1,1305.1 L1911.1,1305.1 L1913.1,1305.2 L1915.1,1305.3 L1917.1,1305.3 L1919.1,1305.4 L1920.6,1305.4" fill="none" stroke="#0a0c08" stroke-width="12" stroke-linecap="round" stroke-linejoin="round" stroke-dasharray="21.0 33.5" stroke-dashoffset="14.0"/>
<path d="M306.8,1088.9 L307.1,1090.9 L307.4,1092.9 L307.6,1094.9 L307.9,1096.9 L308.2,1098.8 L308.5,1100.8 L308.9,1102.8 L309.2,1104.8 L309.5,1106.7 L309.9,1108.7 L310.2,1110.7 L310.6,1112.6 L311.0,1114.6 L311.5,1116.5 L311.9,1118.5 L312.4,1120.4 L312.9,1122.4 L313.4,1124.3 L314.0,1126.2 L314.6,1128.1 L315.2,1130.0 L315.9,1131.9 L316.6,1133.8 L317.4,1135.6 L318.2,1137.4 L319.1,1139.2 L320.0,1141.0 L321.0,1142.7 L322.1,1144.4 L323.2,1146.1 L324.5,1147.6 L325.8,1149.1 L327.3,1150.5 L328.8,1151.8 L330.4,1153.0 L332.1,1154.0 L333.9,1155.0 L335.7,1155.8 L337.5,1156.6 L339.4,1157.2 L341.3,1157.8 L343.3,1158.3 L345.2,1158.7 L347.2,1159.0 L349.2,1159.3 L351.2,1159.5 L353.2,1159.7 L355.2,1159.8 L357.2,1159.9 L359.2,1159.9 L361.2,1159.9 L363.2,1159.9 L365.2,1159.9 L367.2,1159.9 L369.2,1159.8 L371.2,1159.8 L373.2,1159.7 L375.2,1159.6 L377.2,1159.6 L379.2,1159.5 L381.1,1159.5 L383.1,1159.4 L385.1,1159.4 L387.1,1159.4 L389.1,1159.3 L391.1,1159.3 L393.1,1159.3 L395.1,1159.3 L397.1,1159.3 L399.1,1159.3 L401.1,1159.3 L403.1,1159.4 L405.1,1159.4 L407.1,1159.4 L409.1,1159.5 L411.1,1159.5 L413.1,1159.6 L415.1,1159.6 L417.1,1159.7 L419.1,1159.8 L421.1,1159.9 L423.1,1160.0 L425.1,1160.1 L427.1,1160.2 L429.1,1160.3 L431.1,1160.4 L433.1,1160.6 L435.1,1160.7 L437.1,1160.8 L439.1,1161.0 L441.1,1161.2 L443.1,1161.3 L445.1,1161.5 L447.1,1161.7 L449.1,1161.9 L451.1,1162.1 L453.0,1162.3 L455.0,1162.5 L457.0,1162.8 L459.0,1163.0 L461.0,1163.2 L463.0,1163.5 L465.0,1163.7 L466.9,1164.0 L468.9,1164.3 L470.9,1164.6 L472.9,1164.8 L474.9,1165.1 L476.8,1165.4 L478.8,1165.7 L480.8,1166.1 L482.8,1166.4 L484.7,1166.7 L486.7,1167.1 L488.7,1167.4 L490.6,1167.8 L492.6,1168.1 L494.6,1168.5 L496.5,1168.9 L498.5,1169.3 L500.5,1169.7 L502.4,1170.1 L504.4,1170.5 L506.3,1170.9 L508.3,1171.3 L510.2,1171.8 L512.2,1172.2 L514.1,1172.6 L516.1,1173.1 L518.0,1173.6 L520.0,1174.0 L521.9,1174.5 L523.9,1175.0 L525.8,1175.5 L527.7,1175.9 L529.7,1176.4 L531.6,1176.8 L533.6,1177.2 L535.6,1177.5 L537.6,1177.8 L539.6,1178.0 L541.5,1178.1 L543.5,1178.1 L545.5,1177.9 L547.5,1177.6 L549.4,1177.1 L551.3,1176.3 L553.1,1175.4 L554.8,1174.3 L556.3,1173.1 L557.8,1171.8 L559.3,1170.4 L560.6,1168.9 L561.9,1167.4 L563.2,1165.9 L564.5,1164.3 L565.7,1162.7 L566.9,1161.1 L568.1,1159.5 L569.2,1157.9 L570.4,1156.2 L571.5,1154.6 L572.6,1152.9 L573.7,1151.2 L574.7,1149.5 L575.8,1147.8 L576.8,1146.1 L577.8,1144.4 L578.8,1142.6 L579.8,1140.9 L580.7,1139.1 L581.6,1137.4 L582.6,1135.6 L583.5,1133.8 L584.4,1132.0 L585.3,1130.2 L586.1,1128.4 L587.0,1126.6 L587.9,1124.8 L588.7,1123.0 L589.5,1121.2 L590.4,1119.4 L591.2,1117.5 L592.0,1115.7 L592.8,1113.9 L593.6,1112.0 L594.4,1110.2 L595.1,1108.3 L595.9,1106.5 L596.7,1104.7 L597.4,1102.8 L598.2,1100.9 L598.9,1099.1 L599.6,1097.2 L600.3,1095.4 L601.1,1093.5 L601.8,1091.6 L602.5,1089.7 L603.2,1087.9 L603.8,1086.0 L604.5,1084.1 L605.2,1082.2 L605.9,1080.3 L606.5,1078.5 L607.2,1076.6 L607.8,1074.7 L608.5,1072.8 L609.1,1070.9 L609.7,1069.0 L610.3,1067.1 L611.0,1065.2 L611.6,1063.3 L612.2,1061.4 L612.8,1059.5 L613.4,1057.5 L613.9,1055.6 L614.5,1053.7 L615.1,1051.8 L615.7,1049.9 L616.2,1048.0 L616.8,1046.0 L617.3,1044.1 L617.9,1042.2 L618.4,1040.3 L619.0,1038.3 L619.5,1036.4 L620.0,1034.5 L620.6,1032.6 L621.1,1030.6 L621.6,1028.7 L622.1,1026.8 L622.6,1024.8 L623.1,1022.9 L623.6,1021.0 L624.1,1019.0 L624.6,1017.1 L625.1,1015.1 L625.6,1013.2 L626.1,1011.3 L626.6,1009.3 L627.1,1007.4 L627.5,1005.4 L628.0,1003.5 L628.5,1001.6 L628.9,999.6 L629.4,997.7 L629.9,995.7 L630.3,993.8 L630.8,991.8 L631.2,989.9 L631.7,987.9 L632.1,986.0 L632.6,984.0 L633.0,982.1 L633.5,980.1 L633.9,978.2 L634.4,976.2 L634.8,974.3 L635.3,972.3 L635.7,970.4 L636.1,968.4 L636.6,966.5 L637.0,964.5 L637.4,962.6 L637.9,960.6 L638.3,958.7 L638.7,956.7 L639.2,954.8 L639.6,952.8 L640.0,950.9 L640.4,948.9 L640.9,946.9 L641.3,945.0 L641.7,943.0 L642.1,941.1 L642.5,939.1 L642.9,937.2 L643.4,935.2 L643.8,933.3 L644.2,931.3 L644.6,929.3 L645.0,927.4 L645.4,925.4 L645.8,923.5 L646.2,921.5 L646.6,919.5 L647.0,917.6 L647.4,915.6 L647.8,913.7 L648.2,911.7 L648.6,909.7 L649.0,907.8 L649.4,905.8 L649.8,903.9 L650.2,901.9 L650.6,899.9 L651.0,898.0 L651.4,896.0 L651.7,894.1 L652.1,892.1 L652.5,890.1 L652.9,888.2 L653.3,886.2 L653.7,884.2 L654.1,882.3 L654.4,880.3 L654.8,878.4 L655.2,876.4 L655.6,874.4 L655.9,872.5 L656.3,870.5 L656.7,868.5 L657.1,866.6 L657.5,864.6 L657.8,862.6 L658.2,860.7 L658.6,858.7 L658.9,856.7 L659.3,854.8 L659.7,852.8 L660.0,850.8 L660.4,848.9 L660.8,846.9 L661.1,844.9 L661.5,843.0 L661.9,841.0 L662.2,839.0 L662.6,837.1 L663.0,835.1 L663.3,833.1 L663.7,831.2 L664.0,829.2 L664.4,827.2 L664.8,825.3 L665.1,823.3 L665.5,821.3 L665.8,819.4 L666.2,817.4 L666.6,815.4 L666.9,813.5 L667.3,811.5 L667.6,809.5 L668.0,807.6 L668.3,805.6 L668.7,803.6 L669.0,801.7 L669.4,799.7 L669.7,797.7 L670.1,795.8 L670.4,793.8 L670.8,791.8 L671.1,789.8 L671.5,787.9 L671.8,785.9 L672.2,783.9 L672.5,782.0 L672.9,780.0 L673.2,778.0 L673.6,776.1 L673.9,774.1 L674.3,772.1 L674.6,770.2 L675.0,768.2 L675.3,766.2 L675.7,764.2 L676.0,762.3 L676.4,760.3 L676.7,758.3 L677.1,756.4 L677.4,754.4 L677.8,752.4 L678.1,750.5 L678.4,748.5 L678.8,746.5 L679.1,744.5 L679.5,742.6 L679.8,740.6 L680.2,738.6 L680.5,736.7 L680.9,734.7 L681.2,732.7 L681.6,730.8 L681.9,728.8 L682.3,726.8 L682.6,724.8 L682.9,722.9 L683.3,720.9 L683.6,718.9 L684.0,717.0 L684.3,715.0 L684.7,713.0 L685.0,711.1 L685.4,709.1 L685.7,707.1 L686.1,705.2 L686.4,703.2 L686.8,701.2 L687.1,699.2 L687.5,697.3 L687.8,695.3 L688.2,693.3 L688.5,691.4 L688.9,689.4 L689.2,687.4 L689.6,685.5 L689.9,683.5 L690.3,681.5 L690.6,679.6 L691.0,677.6 L691.3,675.6 L691.7,673.6 L692.0,671.7 L692.4,669.7 L692.7,667.7 L693.1,665.8 L693.4,663.8 L693.8,661.8 L694.2,659.9 L694.5,657.9 L694.9,655.9 L695.2,654.0 L695.6,652.0 L695.9,650.0 L696.3,648.1 L696.7,646.1 L697.0,644.1 L697.4,642.2 L697.7,640.2 L698.1,638.2 L698.5,636.3 L698.8,634.3 L699.2,632.3 L699.6,630.4 L699.9,628.4 L700.3,626.4 L700.7,624.5 L701.0,622.5 L701.4,620.5 L701.8,618.6 L702.1,616.6 L702.5,614.6 L702.9,612.7 L703.3,610.7 L703.6,608.7 L704.0,606.8 L704.4,604.8 L704.8,602.8 L705.1,600.9 L705.5,598.9 L705.9,597.0 L706.3,595.0 L706.6,593.0 L707.0,591.1 L707.4,589.1 L707.8,587.1 L708.2,585.2 L708.6,583.2 L709.0,581.2 L709.3,579.3 L709.7,577.3 L710.1,575.4 L710.5,573.4 L710.9,571.4 L711.3,569.5 L711.7,567.5 L712.1,565.6 L712.5,563.6 L712.9,561.6 L713.3,559.7 L713.7,557.7 L714.1,555.8 L714.4,554.3" fill="none" stroke="#30408c" stroke-width="12" stroke-linecap="round" stroke-linejoin="round" stroke-dasharray="21.0 34.25" stroke-dashoffset="1.5"/>
<path d="M714.6,554.1 L714.9,552.2 L715.1,550.2 L715.4,548.2 L715.7,546.2 L716.0,544.3 L716.3,542.3 L716.6,540.3 L716.9,538.3 L717.2,536.3 L717.5,534.4 L717.8,532.4 L718.1,530.4 L718.4,528.4 L718.6,526.4 L718.9,524.5 L719.2,522.5 L719.5,520.5 L719.8,518.5 L720.1,516.5 L720.4,514.6 L720.6,512.6 L720.9,510.6 L721.2,508.6 L721.5,506.6 L721.8,504.7 L722.1,502.7 L722.3,500.7 L722.6,498.7 L722.9,496.7 L723.2,494.8 L723.5,492.8 L723.8,490.8 L724.0,488.8 L724.3,486.8 L724.6,484.9 L724.9,482.9 L725.2,480.9 L725.4,478.9 L725.7,476.9 L726.0,475.0 L726.3,473.0 L726.6,471.0 L726.8,469.0 L727.1,467.0 L727.4,465.1 L727.7,463.1 L728.0,461.1 L728.2,459.1 L728.5,457.1 L728.8,455.2 L729.1,453.2 L729.4,451.2 L729.6,449.2 L729.9,447.2 L730.2,445.3 L730.5,443.3 L730.8,441.3 L731.1,439.3 L731.3,437.3 L731.6,435.4 L731.9,433.4 L732.2,431.4 L732.5,429.4 L732.8,427.4 L733.0,425.5 L733.3,423.5 L733.6,421.5 L733.9,419.5 L734.2,417.5 L734.5,415.6 L734.8,413.6 L735.1,411.6 L735.4,409.6 L735.6,407.7 L735.9,405.7 L736.2,403.7 L736.5,401.7 L736.8,399.7 L737.1,397.8 L737.4,395.8 L737.7,393.8 L738.0,391.8 L738.3,389.8 L738.6,387.9 L738.9,385.9 L739.2,383.9 L739.5,381.9 L739.8,380.0 L740.1,378.0 L740.4,376.0 L740.7,374.0 L741.0,372.1 L741.3,370.1 L741.6,368.1 L741.9,366.1 L742.2,364.2 L742.6,362.2 L742.9,360.2 L743.2,358.2 L743.5,356.2 L743.8,354.3 L744.1,352.3 L744.5,350.3 L744.8,348.4 L745.1,346.4 L745.4,344.4 L745.7,342.4 L746.1,340.5 L746.4,338.5 L746.7,336.5 L747.1,334.5 L747.4,332.6 L747.7,330.6 L748.0,328.6 L748.4,326.6 L748.7,324.7 L749.1,322.7 L749.4,320.7 L749.7,318.8 L750.1,316.8 L750.4,314.8 L750.8,312.9 L751.1,310.9 L751.5,308.9 L751.8,306.9 L752.2,305.0 L752.5,303.0 L752.9,301.0 L753.3,299.1 L753.6,297.1 L754.0,295.1 L754.3,293.2 L754.7,291.2 L755.1,289.2 L755.5,287.3 L755.8,285.3 L756.2,283.3 L756.6,281.4 L757.0,279.4 L757.3,277.5 L757.7,275.5 L758.1,273.5 L758.5,271.6 L758.9,269.6 L759.3,267.6 L759.7,265.7 L760.1,263.7 L760.5,261.8 L760.9,259.8 L761.3,257.8 L761.7,255.9 L762.1,253.9 L762.5,252.0 L762.9,250.0 L763.3,248.1 L763.7,246.1 L764.2,244.2 L764.6,242.2 L765.0,240.2 L765.5,238.3 L765.9,236.3 L766.4,234.4 L766.8,232.5 L767.3,230.5 L767.8,228.6 L768.3,226.6 L768.8,224.7 L769.4,222.8 L769.9,220.9 L770.5,218.9 L771.1,217.0 L771.6,215.1 L772.3,213.2 L772.9,211.3 L773.5,209.4 L774.2,207.5 L774.9,205.7 L775.6,203.8 L776.3,201.9 L777.1,200.1 L777.9,198.2 L778.6,196.4 L779.4,194.6 L780.3,192.7 L781.1,190.9 L782.0,189.1 L782.9,187.4 L783.9,185.6 L784.9,183.8 L785.9,182.1 L787.0,180.4 L788.1,178.8 L789.3,177.2 L790.5,175.6 L791.8,174.1 L793.2,172.7 L794.7,171.3 L796.3,170.1 L797.9,169.0 L799.7,168.1 L801.6,167.4 L803.6,167.0 L805.5,166.8 L807.5,166.9 L809.5,167.2 L811.5,167.7 L813.3,168.4 L815.2,169.2 L816.9,170.1 L818.6,171.2 L820.2,172.4 L821.8,173.7 L823.2,175.0 L824.6,176.5 L825.9,178.0 L827.2,179.5 L828.4,181.1 L829.5,182.8 L830.6,184.5 L831.6,186.2 L832.6,188.0 L833.5,189.7 L834.4,191.5 L835.3,193.3 L836.2,195.1 L837.1,196.9 L837.9,198.7 L838.7,200.5 L839.6,202.3 L840.3,204.2 L841.1,206.0 L841.9,207.9 L842.6,209.7 L843.3,211.6 L844.0,213.5 L844.7,215.3 L845.4,217.2 L846.1,219.1 L846.7,221.0 L847.4,222.9 L848.0,224.8 L848.6,226.7 L849.2,228.6 L849.8,230.5 L850.3,232.4 L850.9,234.4 L851.4,236.3 L852.0,238.2 L852.5,240.1 L853.0,242.1 L853.5,244.0 L854.0,245.9 L854.5,247.9 L855.0,249.8 L855.5,251.8 L856.0,253.7 L856.4,255.7 L856.9,257.6 L857.3,259.5 L857.8,261.5 L858.2,263.4 L858.7,265.4 L859.1,267.4 L859.5,269.3 L859.9,271.3 L860.3,273.2 L860.7,275.2 L861.1,277.1 L861.5,279.1 L861.9,281.1 L862.3,283.0 L862.6,285.0 L863.0,287.0 L863.4,288.9 L863.7,290.9 L864.1,292.9 L864.4,294.8 L864.7,296.8 L865.1,298.8 L865.4,300.8 L865.7,302.7 L866.0,304.7 L866.3,306.7 L866.6,308.7 L866.9,310.6 L867.2,312.6 L867.5,314.6 L867.8,316.6 L868.1,318.6 L868.4,320.5 L868.6,322.5 L868.9,324.5 L869.2,326.5 L869.4,328.5 L869.7,330.5 L869.9,332.4 L870.2,334.4 L870.4,336.4 L870.6,338.4 L870.9,340.4 L871.1,342.4 L871.3,344.4 L871.6,346.3 L871.8,348.3 L872.0,350.3 L872.2,352.3 L872.4,354.3 L872.6,356.3 L872.8,358.3 L873.0,360.3 L873.2,362.3 L873.4,364.3 L873.6,366.2 L873.8,368.2 L873.9,370.2 L874.1,372.2 L874.3,374.2 L874.5,376.2 L874.6,378.2 L874.8,380.2 L875.0,382.2 L875.1,384.2 L875.3,386.2 L875.5,388.2 L875.6,390.2 L875.8,392.1 L875.9,394.1 L876.1,396.1 L876.2,398.1 L876.4,400.1 L876.5,402.1 L876.7,404.1 L876.8,406.1 L876.9,408.1 L877.1,410.1 L877.2,412.1 L877.4,414.1 L877.5,416.1 L877.6,418.1 L877.8,420.1 L877.9,422.1 L878.0,424.1 L878.2,426.1 L878.3,428.1 L878.4,430.1 L878.6,432.1 L878.7,434.0 L878.8,436.0 L878.9,438.0 L879.1,440.0 L879.2,442.0 L879.3,444.0 L879.4,446.0 L879.6,448.0 L879.7,450.0 L879.8,452.0 L879.9,454.0 L880.1,456.0 L880.2,458.0 L880.3,460.0 L880.4,462.0 L880.6,464.0 L880.7,466.0 L880.8,468.0 L881.0,470.0 L881.1,472.0 L881.2,474.0 L881.3,476.0 L881.5,478.0 L881.6,480.0 L881.7,481.9 L881.9,483.9 L882.0,485.9 L882.1,487.9 L882.3,489.9 L882.4,491.9 L882.5,493.9 L882.7,495.9 L882.8,497.9 L882.9,499.9 L883.1,501.9 L883.2,503.9 L883.3,505.9 L883.5,507.9 L883.6,509.9 L883.7,511.9 L883.9,513.9 L884.0,515.9 L884.2,517.9 L884.3,519.9 L884.4,521.9 L884.6,523.9 L884.7,525.8 L884.9,527.8 L885.0,529.8 L885.1,531.8 L885.3,533.8 L885.4,535.8 L885.6,537.8 L885.7,539.8 L885.8,541.8 L886.0,543.8 L886.1,545.8 L886.3,547.8 L886.4,549.8 L886.6,551.8 L886.7,553.8 L886.8,555.8 L887.0,557.8 L887.1,559.8 L887.3,561.8 L887.4,563.8 L887.6,565.7 L887.7,567.7 L887.9,569.7 L888.0,571.7 L888.2,573.7 L888.3,575.7 L888.4,577.7 L888.6,579.7 L888.7,581.7 L888.9,583.7 L889.0,585.7 L889.2,587.7 L889.3,589.7 L889.5,591.7 L889.6,593.7 L889.8,595.7 L889.9,597.7 L890.1,599.7 L890.2,601.6 L890.4,603.6 L890.5,605.6 L890.7,607.6 L890.8,609.6 L891.0,611.6 L891.1,613.6 L891.3,615.6 L891.4,617.6 L891.6,619.6 L891.7,621.6 L891.9,623.6 L892.1,625.6 L892.2,627.6 L892.4,629.6 L892.5,631.6 L892.7,633.6 L892.8,635.5 L893.0,637.5 L893.1,639.5 L893.3,641.5 L893.4,643.5 L893.6,645.5 L893.7,647.5 L893.9,649.5 L894.1,651.5 L894.2,653.5 L894.4,655.5 L894.5,657.5 L894.7,659.5 L894.8,661.5 L895.0,663.5 L895.1,665.5 L895.3,667.5 L895.5,669.4 L895.6,671.4 L895.8,673.4 L895.9,675.4 L896.1,677.4 L896.2,679.4 L896.4,681.4 L896.6,683.4 L896.7,685.4 L896.9,687.4 L897.0,689.4 L897.2,691.4 L897.3,693.4 L897.5,695.4 L897.7,697.4 L897.8,699.4 L898.0,701.3 L898.1,703.3 L898.3,705.3 L898.4,707.3 L898.6,709.3 L898.8,711.3 L898.9,713.3 L899.1,715.3 L899.2,717.3 L899.4,719.3 L899.5,721.3 L899.7,723.3 L899.9,725.3 L900.0,727.3 L900.2,729.3 L900.3,731.3 L900.5,733.2 L900.7,735.2 L900.8,737.2 L901.0,739.2 L901.1,741.2 L901.3,743.2 L901.4,745.2 L901.6,747.2 L901.8,749.2 L901.9,751.2 L902.1,753.2 L902.2,755.2 L902.4,757.2 L902.6,759.2 L902.7,761.2 L902.9,763.2 L903.0,765.1 L903.2,767.1 L903.3,769.1 L903.5,771.1 L903.7,773.1 L903.8,775.1 L904.0,777.1 L904.1,779.1 L904.3,781.1 L904.5,783.1 L904.6,785.1 L904.8,787.1 L904.9,789.1 L905.1,791.1 L905.2,793.1 L905.4,795.1 L905.6,797.0 L905.7,799.0 L905.9,801.0 L906.0,803.0 L906.2,805.0 L906.3,807.0 L906.5,809.0 L906.7,811.0 L906.8,813.0 L907.0,815.0 L907.1,817.0 L907.3,819.0 L907.4,821.0 L907.6,823.0 L907.8,825.0 L907.9,827.0 L908.1,828.9 L908.2,830.9 L908.4,832.9 L908.5,834.9 L908.7,836.9 L908.8,838.9 L909.0,840.9 L909.2,842.9 L909.3,844.9 L909.5,846.9 L909.6,848.9 L909.8,850.9 L909.9,852.9 L910.1,854.9 L910.2,856.9 L910.4,858.9 L910.5,860.9 L910.7,862.8 L910.8,864.8 L911.0,866.8 L911.2,868.8 L911.3,870.8 L911.5,872.8 L911.6,874.8 L911.8,876.8 L911.9,878.8 L912.1,880.8 L912.2,882.8 L912.4,884.8 L912.5,886.8 L912.7,888.8 L912.8,890.8 L913.0,892.8 L913.1,894.8 L913.3,896.7 L913.4,898.7 L913.6,900.7 L913.7,902.7 L913.9,904.7 L914.0,906.7 L914.2,908.7 L914.3,910.7 L914.5,912.7 L914.6,914.7 L914.8,916.7 L914.9,918.7 L915.0,920.7 L915.2,922.7 L915.3,924.7 L915.5,926.7 L915.6,928.7 L915.8,930.7 L915.9,932.7 L916.1,934.6 L916.2,936.6 L916.4,938.6 L916.5,940.6 L916.6,942.6 L916.8,944.6 L916.9,946.6 L917.1,948.6 L917.2,950.6 L917.4,952.6 L917.5,954.6 L917.6,956.6 L917.8,958.6 L917.9,960.6 L918.1,962.6 L918.2,964.6 L918.3,966.6 L918.5,968.6 L918.6,970.6 L918.8,972.6 L918.9,974.5 L919.1,976.5 L919.2,978.5 L919.3,980.5 L919.5,982.5 L919.6,984.5 L919.8,986.5 L919.9,988.5 L920.1,990.5 L920.2,992.5 L920.4,994.5 L920.5,996.5 L920.7,998.5 L920.8,1000.5 L921.0,1002.5 L921.1,1004.5 L921.3,1006.5 L921.4,1008.5 L921.6,1010.4 L921.8,1012.4 L921.9,1014.4 L922.1,1016.4 L922.2,1018.4 L922.4,1020.4 L922.6,1022.4 L922.7,1024.4 L922.9,1026.4 L923.1,1028.4 L923.3,1030.4 L923.4,1032.4 L923.6,1034.4 L923.8,1036.4 L924.0,1038.3 L924.1,1040.3 L924.3,1042.3 L924.5,1044.3 L924.7,1046.3 L924.9,1048.3 L925.1,1050.3 L925.3,1052.3 L925.5,1054.3 L925.7,1056.3 L925.9,1058.3 L926.1,1060.2 L926.3,1062.2 L926.5,1064.2 L926.7,1066.2 L926.9,1068.2 L927.2,1070.2 L927.4,1072.2 L927.6,1074.2 L927.8,1076.1 L928.1,1078.1 L928.3,1080.1 L928.5,1082.1 L928.8,1084.1 L929.0,1086.1 L929.2,1088.1 L929.5,1090.0 L929.7,1092.0 L930.0,1094.0 L930.3,1096.0 L930.5,1098.0 L930.8,1100.0 L931.1,1101.9 L931.3,1103.9 L931.6,1105.9 L931.9,1107.9 L932.2,1109.9 L932.5,1111.8 L932.8,1113.8 L933.0,1115.8 L933.3,1117.8 L933.7,1119.8 L934.0,1121.7 L934.3,1123.7 L934.6,1125.7 L934.9,1127.7 L935.2,1129.6 L935.6,1131.6 L935.9,1133.6 L936.2,1135.5 L936.6,1137.5 L936.9,1139.5 L937.3,1141.5 L937.6,1143.4 L938.0,1145.4 L938.4,1147.4 L938.7,1149.3 L939.1,1151.3 L939.5,1153.3 L939.9,1155.2 L940.3,1157.2 L940.7,1159.1 L941.1,1161.1 L941.5,1163.1 L941.9,1165.0 L942.3,1167.0 L942.7,1168.9 L943.1,1170.9 L943.6,1172.8 L944.0,1174.8 L944.4,1176.7 L944.9,1178.7 L945.4,1180.6 L945.8,1182.6 L946.3,1184.5 L946.7,1186.5 L947.2,1188.4 L947.7,1190.3 L948.2,1192.3 L948.7,1194.2 L949.2,1196.2 L949.7,1198.1 L950.2,1200.0 L950.7,1202.0 L951.3,1203.9 L951.8,1205.8 L952.3,1207.7 L952.9,1209.7 L953.4,1211.6 L954.0,1213.5 L954.5,1215.4 L955.1,1217.3 L955.7,1219.3 L956.3,1221.2 L956.9,1223.1 L957.4,1225.0 L958.0,1226.9 L958.7,1228.8 L959.3,1230.7 L959.9,1232.6 L960.5,1234.5 L961.2,1236.4 L961.8,1238.3 L962.4,1240.2 L963.1,1242.1 L963.8,1244.0 L964.5,1245.8 L965.2,1247.7 L965.9,1249.6 L966.6,1251.4 L967.4,1253.3 L968.2,1255.1 L969.1,1256.9 L970.0,1258.7 L970.9,1260.5 L971.8,1262.2 L972.9,1264.0 L973.9,1265.6 L975.1,1267.3 L976.3,1268.9 L977.5,1270.5 L978.8,1272.0 L980.2,1273.4 L981.6,1274.8 L983.1,1276.2 L984.6,1277.4 L986.3,1278.6 L987.9,1279.8 L989.6,1280.8 L991.4,1281.8 L993.2,1282.6 L995.0,1283.4 L996.9,1284.2 L998.7,1284.9 L1000.6,1285.5 L1002.6,1286.0 L1004.5,1286.6 L1006.4,1287.0 L1008.4,1287.5 L1010.3,1287.8 L1012.3,1288.2 L1014.3,1288.5 L1016.3,1288.8 L1018.3,1289.0 L1020.2,1289.2 L1022.2,1289.4 L1024.2,1289.6 L1026.2,1289.7 L1028.2,1289.8 L1030.2,1289.8 L1032.2,1289.8 L1034.2,1289.8 L1036.2,1289.7 L1037.0,1289.7" fill="none" stroke="#30408c" stroke-width="12" stroke-linecap="round" stroke-linejoin="round" stroke-dasharray="21.0 34.25" stroke-dashoffset="6.5"/>
<path d="M1036.4,1290.0 L1038.4,1289.6 L1040.3,1289.2 L1042.3,1288.8 L1044.2,1288.4 L1046.2,1288.0 L1048.1,1287.5 L1050.1,1287.1 L1052.0,1286.7 L1054.0,1286.2 L1055.9,1285.7 L1057.9,1285.3 L1059.8,1284.8 L1061.8,1284.3 L1063.7,1283.8 L1065.6,1283.3 L1067.6,1282.8 L1069.5,1282.3 L1071.4,1281.7 L1073.3,1281.2 L1075.3,1280.6 L1077.2,1280.1 L1079.1,1279.5 L1081.0,1278.9 L1082.9,1278.3 L1084.8,1277.7 L1086.7,1277.1 L1088.6,1276.5 L1090.5,1275.9 L1092.4,1275.2 L1094.3,1274.6 L1096.2,1273.9 L1098.1,1273.2 L1100.0,1272.6 L1101.9,1271.9 L1103.7,1271.2 L1105.6,1270.5 L1107.5,1269.8 L1109.4,1269.1 L1111.2,1268.4 L1113.1,1267.6 L1114.9,1266.9 L1116.8,1266.1 L1118.6,1265.4 L1120.5,1264.6 L1122.3,1263.8 L1124.2,1263.0 L1126.0,1262.3 L1127.8,1261.5 L1129.7,1260.6 L1131.5,1259.8 L1133.3,1259.0 L1135.1,1258.2 L1137.0,1257.3 L1138.8,1256.5 L1140.6,1255.6 L1142.4,1254.8 L1144.2,1253.9 L1146.0,1253.0 L1147.8,1252.1 L1149.6,1251.3 L1151.4,1250.4 L1153.1,1249.5 L1154.9,1248.5 L1156.7,1247.6 L1158.5,1246.7 L1160.2,1245.8 L1162.0,1244.8 L1163.8,1243.9 L1165.5,1243.0 L1167.3,1242.0 L1169.1,1241.0 L1170.8,1240.1 L1172.6,1239.1 L1174.3,1238.1 L1176.0,1237.2 L1177.8,1236.2 L1179.5,1235.2 L1181.3,1234.2 L1183.0,1233.2 L1184.7,1232.2 L1186.4,1231.2 L1188.2,1230.1 L1189.9,1229.1 L1191.6,1228.1 L1193.3,1227.1 L1195.0,1226.0 L1196.7,1225.0 L1198.4,1223.9 L1200.1,1222.9 L1201.8,1221.8 L1203.5,1220.8 L1205.2,1219.7 L1206.9,1218.7 L1208.6,1217.6 L1210.3,1216.5 L1212.0,1215.5 L1213.7,1214.4 L1215.4,1213.3 L1217.1,1212.2 L1218.7,1211.1 L1220.4,1210.1 L1222.1,1209.0 L1223.8,1207.9 L1225.4,1206.8 L1227.1,1205.7 L1228.8,1204.6 L1230.5,1203.5 L1232.1,1202.4 L1233.8,1201.3 L1235.5,1200.2 L1237.1,1199.0 L1238.8,1197.9 L1240.4,1196.8 L1242.1,1195.7 L1243.8,1194.6 L1245.4,1193.5 L1247.1,1192.4 L1248.8,1191.3 L1250.4,1190.2 L1252.1,1189.1 L1253.8,1188.0 L1255.5,1187.0 L1257.2,1185.9 L1258.9,1184.8 L1260.6,1183.8 L1262.3,1182.7 L1264.0,1181.7 L1265.7,1180.7 L1267.4,1179.7 L1269.2,1178.7 L1270.9,1177.7 L1272.7,1176.7 L1274.4,1175.8 L1276.2,1174.8 L1278.0,1173.9 L1279.8,1173.0 L1281.6,1172.2 L1283.4,1171.3 L1285.2,1170.5 L1287.0,1169.7 L1288.9,1168.9 L1290.8,1168.2 L1292.6,1167.5 L1294.5,1166.8 L1296.4,1166.2 L1298.3,1165.6 L1300.2,1165.1 L1302.2,1164.6 L1304.1,1164.1 L1306.1,1163.7 L1308.0,1163.3 L1310.0,1163.0 L1312.0,1162.8 L1314.0,1162.6 L1316.0,1162.4 L1318.0,1162.4 L1320.0,1162.3 L1322.0,1162.4 L1324.0,1162.5 L1326.0,1162.7 L1328.0,1163.0 L1329.9,1163.3 L1331.9,1163.7 L1333.8,1164.1 L1335.8,1164.6 L1337.7,1165.2 L1339.6,1165.8 L1341.5,1166.4 L1343.4,1167.1 L1345.2,1167.9 L1347.1,1168.6 L1348.9,1169.5 L1350.7,1170.4 L1352.5,1171.3 L1354.2,1172.2 L1356.0,1173.2 L1357.7,1174.2 L1359.4,1175.2 L1361.1,1176.3 L1362.8,1177.4 L1364.4,1178.6 L1366.0,1179.7 L1367.7,1180.9 L1369.3,1182.1 L1370.9,1183.3 L1372.5,1184.5 L1374.0,1185.7 L1375.6,1186.9 L1377.2,1188.2 L1378.7,1189.4 L1380.3,1190.7 L1381.8,1192.0 L1383.4,1193.2 L1384.9,1194.5 L1386.5,1195.8 L1388.0,1197.0 L1389.6,1198.3 L1391.1,1199.6 L1392.7,1200.9 L1394.2,1202.1 L1395.7,1203.4 L1397.3,1204.7 L1398.8,1206.0 L1400.3,1207.3 L1401.8,1208.6 L1403.4,1209.9 L1404.9,1211.2 L1406.4,1212.5 L1408.0,1213.7 L1409.5,1215.0 L1411.0,1216.3 L1412.5,1217.6 L1414.1,1218.9 L1415.6,1220.2 L1417.1,1221.5 L1418.7,1222.8 L1420.2,1224.0 L1421.7,1225.3 L1423.3,1226.6 L1424.8,1227.9 L1426.4,1229.1 L1427.9,1230.4 L1429.4,1231.7 L1431.0,1233.0 L1432.5,1234.2 L1434.1,1235.5 L1435.7,1236.7 L1437.2,1238.0 L1438.8,1239.2 L1440.4,1240.5 L1441.9,1241.7 L1443.5,1242.9 L1445.1,1244.1 L1446.7,1245.4 L1448.3,1246.6 L1449.9,1247.8 L1451.5,1249.0 L1453.1,1250.2 L1454.7,1251.3 L1456.3,1252.5 L1457.9,1253.7 L1459.6,1254.8 L1461.2,1256.0 L1462.8,1257.1 L1464.5,1258.3 L1466.2,1259.4 L1467.8,1260.5 L1469.5,1261.6 L1471.2,1262.7 L1472.8,1263.8 L1474.5,1264.8 L1476.2,1265.9 L1477.9,1266.9 L1479.6,1268.0 L1481.4,1269.0 L1483.1,1270.0 L1484.8,1271.0 L1486.6,1272.0 L1488.3,1273.0 L1490.1,1273.9 L1491.8,1274.8 L1493.6,1275.8 L1495.4,1276.7 L1497.2,1277.6 L1499.0,1278.4 L1500.8,1279.3 L1502.6,1280.1 L1504.4,1280.9 L1506.3,1281.7 L1508.1,1282.5 L1510.0,1283.3 L1511.8,1284.0 L1513.7,1284.8 L1515.6,1285.5 L1517.4,1286.2 L1519.3,1286.8 L1521.2,1287.5 L1523.1,1288.1 L1525.0,1288.7 L1526.9,1289.3 L1528.9,1289.8 L1530.8,1290.4 L1532.7,1290.9 L1534.6,1291.4 L1536.6,1291.9 L1538.5,1292.3 L1540.5,1292.8 L1542.4,1293.2 L1544.4,1293.6 L1546.4,1294.0 L1548.3,1294.4 L1550.3,1294.8 L1552.2,1295.1 L1554.2,1295.5 L1556.2,1295.8 L1558.2,1296.1 L1560.1,1296.4 L1562.1,1296.7 L1564.1,1297.0 L1566.1,1297.2 L1568.1,1297.5 L1570.1,1297.7 L1572.0,1298.0 L1574.0,1298.2 L1576.0,1298.4 L1578.0,1298.6 L1580.0,1298.8 L1582.0,1299.0 L1584.0,1299.1 L1586.0,1299.3 L1588.0,1299.5 L1590.0,1299.6 L1592.0,1299.7 L1594.0,1299.9 L1596.0,1300.0 L1598.0,1300.1 L1599.9,1300.3 L1601.9,1300.4 L1603.9,1300.5 L1605.9,1300.6 L1607.9,1300.7 L1609.9,1300.8 L1611.9,1300.9 L1613.9,1301.0 L1615.9,1301.1 L1617.9,1301.2 L1619.9,1301.2 L1621.9,1301.3 L1623.9,1301.4 L1625.9,1301.5 L1627.9,1301.6 L1629.9,1301.7 L1631.9,1301.7 L1633.9,1301.8 L1635.9,1301.9 L1637.9,1302.0 L1639.9,1302.0 L1641.9,1302.1 L1643.9,1302.2 L1645.9,1302.3 L1647.9,1302.4 L1649.9,1302.4 L1651.9,1302.5 L1653.9,1302.6 L1655.9,1302.7 L1657.9,1302.7 L1659.9,1302.8 L1661.9,1302.9 L1663.9,1303.0 L1665.9,1303.0 L1667.9,1303.1 L1669.9,1303.2 L1671.9,1303.3 L1673.9,1303.3 L1675.9,1303.4 L1677.9,1303.5 L1679.9,1303.6 L1681.9,1303.6 L1683.9,1303.7 L1685.9,1303.8 L1687.9,1303.8 L1689.9,1303.9 L1691.9,1304.0 L1693.9,1304.0 L1695.9,1304.1 L1697.9,1304.2 L1699.9,1304.2 L1701.9,1304.3 L1703.9,1304.4 L1705.9,1304.4 L1707.9,1304.5 L1709.9,1304.6 L1711.9,1304.6 L1713.9,1304.7 L1715.9,1304.8 L1717.9,1304.8 L1719.9,1304.9 L1721.9,1304.9 L1723.9,1305.0 L1725.9,1305.1 L1727.9,1305.1 L1729.9,1305.2 L1731.9,1305.2 L1733.9,1305.3 L1735.9,1305.4 L1737.9,1305.4 L1739.8,1305.5 L1741.8,1305.5 L1743.8,1305.6 L1745.8,1305.6 L1747.8,1305.7 L1749.8,1305.7 L1751.8,1305.8 L1753.8,1305.8 L1755.8,1305.9 L1757.8,1305.9 L1759.8,1306.0 L1761.8,1306.0 L1763.8,1306.1 L1765.8,1306.1 L1767.8,1306.2 L1769.8,1306.2 L1771.8,1306.3 L1773.8,1306.3 L1775.8,1306.3 L1777.8,1306.4 L1779.8,1306.4 L1781.8,1306.5 L1783.8,1306.5 L1785.8,1306.5 L1787.8,1306.6 L1789.8,1306.6 L1791.8,1306.7 L1793.8,1306.7 L1795.8,1306.7 L1797.8,1306.8 L1799.8,1306.8 L1801.8,1306.8 L1803.8,1306.9 L1805.8,1306.9 L1807.8,1306.9 L1809.8,1306.9 L1811.8,1307.0 L1813.8,1307.0 L1815.8,1307.0 L1817.8,1307.0 L1819.8,1307.1 L1821.8,1307.1 L1823.8,1307.1 L1825.8,1307.1 L1827.8,1307.2 L1829.8,1307.2 L1831.8,1307.2 L1833.8,1307.2 L1835.8,1307.2 L1837.8,1307.3 L1839.8,1307.3 L1841.8,1307.3 L1843.8,1307.3 L1845.8,1307.3 L1847.8,1307.3 L1849.8,1307.3 L1851.8,1307.3 L1853.8,1307.4 L1855.8,1307.4 L1857.8,1307.4 L1859.8,1307.4 L1861.8,1307.4 L1863.8,1307.4 L1865.8,1307.4 L1867.8,1307.4 L1869.8,1307.4 L1871.8,1307.4 L1873.8,1307.4 L1875.8,1307.4 L1877.8,1307.4 L1879.8,1307.4 L1881.8,1307.4 L1883.8,1307.4 L1885.8,1307.4 L1887.8,1307.4 L1889.8,1307.4 L1891.8,1307.4 L1893.8,1307.4 L1895.8,1307.3 L1897.8,1307.3 L1899.8,1307.3 L1901.8,1307.3 L1903.8,1307.3 L1905.8,1307.3 L1907.8,1307.3 L1909.8,1307.2 L1911.8,1307.2 L1913.8,1307.2 L1915.8,1307.2 L1917.8,1307.2 L1919.8,1307.2 L1920.7,1307.1" fill="none" stroke="#30408c" stroke-width="12" stroke-linecap="round" stroke-linejoin="round" stroke-dasharray="21.0 33.5" stroke-dashoffset="9.0"/>
<path d="M306.8,1102.5 L307.0,1104.5 L307.1,1106.5 L307.3,1108.5 L307.5,1110.5 L307.7,1112.5 L307.9,1114.5 L308.1,1116.5 L308.3,1118.4 L308.6,1120.4 L308.9,1122.4 L309.1,1124.4 L309.4,1126.4 L309.8,1128.3 L310.1,1130.3 L310.5,1132.3 L310.9,1134.2 L311.3,1136.2 L311.8,1138.1 L312.3,1140.1 L312.8,1142.0 L313.4,1143.9 L314.0,1145.8 L314.6,1147.7 L315.3,1149.6 L316.1,1151.4 L316.9,1153.3 L317.7,1155.1 L318.6,1156.9 L319.6,1158.6 L320.7,1160.3 L321.9,1161.9 L323.1,1163.5 L324.4,1165.0 L325.8,1166.4 L327.3,1167.7 L328.9,1168.9 L330.6,1170.1 L332.3,1171.1 L334.0,1172.1 L335.8,1173.0 L337.7,1173.7 L339.5,1174.4 L341.4,1175.0 L343.4,1175.6 L345.3,1176.0 L347.3,1176.4 L349.3,1176.7 L351.2,1177.0 L353.2,1177.2 L355.2,1177.4 L357.2,1177.5 L359.2,1177.6 L361.2,1177.6 L363.2,1177.6 L365.2,1177.5 L367.2,1177.4 L369.2,1177.3 L371.2,1177.2 L373.2,1177.0 L375.2,1176.8 L377.2,1176.6 L379.2,1176.3 L381.1,1176.0 L383.1,1175.8 L385.1,1175.5 L387.1,1175.1 L389.0,1174.8 L391.0,1174.5 L393.0,1174.1 L394.9,1173.7 L396.9,1173.4 L398.9,1173.0 L400.8,1172.6 L402.8,1172.2 L404.8,1171.8 L406.7,1171.4 L408.7,1171.0 L410.6,1170.6 L412.6,1170.3 L414.6,1169.9 L416.5,1169.5 L418.5,1169.2 L420.5,1168.8 L422.4,1168.5 L424.4,1168.2 L426.4,1167.9 L428.4,1167.7 L430.4,1167.4 L432.4,1167.2 L434.4,1167.0 L436.4,1166.9 L438.3,1166.8 L440.3,1166.7 L442.3,1166.6 L444.3,1166.6 L446.3,1166.7 L448.3,1166.7 L450.3,1166.8 L452.3,1167.0 L454.3,1167.2 L456.3,1167.4 L458.3,1167.6 L460.3,1167.9 L462.3,1168.2 L464.2,1168.5 L466.2,1168.8 L468.2,1169.2 L470.1,1169.6 L472.1,1169.9 L474.1,1170.3 L476.0,1170.8 L478.0,1171.2 L479.9,1171.6 L481.9,1172.1 L483.8,1172.5 L485.8,1172.9 L487.7,1173.4 L489.7,1173.8 L491.6,1174.3 L493.6,1174.7 L495.5,1175.2 L497.5,1175.6 L499.4,1176.0 L501.4,1176.5 L503.3,1176.9 L505.3,1177.3 L507.3,1177.7 L509.2,1178.0 L511.2,1178.4 L513.2,1178.7 L515.1,1179.0 L517.1,1179.3 L519.1,1179.6 L521.1,1179.9 L523.1,1180.1 L525.1,1180.3 L527.1,1180.4 L529.1,1180.5 L531.1,1180.6 L533.1,1180.6 L535.1,1180.6 L537.1,1180.5 L539.1,1180.4 L541.0,1180.2 L543.0,1179.9 L545.0,1179.6 L546.9,1179.2 L548.9,1178.6 L550.8,1178.0 L552.6,1177.3 L554.5,1176.5 L556.2,1175.5 L558.0,1174.5 L559.6,1173.4 L561.3,1172.3 L562.8,1171.0 L564.3,1169.7 L565.8,1168.3 L567.2,1166.9 L568.6,1165.5 L569.9,1164.0 L571.1,1162.4 L572.4,1160.8 L573.6,1159.2 L574.7,1157.6 L575.8,1155.9 L576.9,1154.2 L578.0,1152.5 L579.0,1150.8 L580.0,1149.1 L580.9,1147.3 L581.9,1145.6 L582.8,1143.8 L583.7,1142.0 L584.6,1140.2 L585.5,1138.4 L586.4,1136.6 L587.2,1134.8 L588.0,1133.0 L588.9,1131.2 L589.7,1129.3 L590.5,1127.5 L591.3,1125.7 L592.1,1123.9 L592.9,1122.0 L593.7,1120.2 L594.4,1118.3 L595.2,1116.5 L596.0,1114.6 L596.8,1112.8 L597.5,1111.0 L598.3,1109.1 L599.0,1107.2 L599.8,1105.4 L600.5,1103.5 L601.3,1101.7 L602.0,1099.8 L602.7,1097.9 L603.4,1096.1 L604.1,1094.2 L604.8,1092.3 L605.5,1090.5 L606.2,1088.6 L606.9,1086.7 L607.6,1084.8 L608.3,1083.0 L609.0,1081.1 L609.6,1079.2 L610.3,1077.3 L610.9,1075.4 L611.6,1073.5 L612.2,1071.6 L612.9,1069.7 L613.5,1067.8 L614.1,1065.9 L614.8,1064.0 L615.4,1062.1 L616.0,1060.2 L616.6,1058.3 L617.2,1056.4 L617.8,1054.5 L618.4,1052.6 L619.0,1050.7 L619.5,1048.8 L620.1,1046.8 L620.7,1044.9 L621.2,1043.0 L621.8,1041.1 L622.4,1039.2 L622.9,1037.2 L623.4,1035.3 L624.0,1033.4 L624.5,1031.5 L625.1,1029.5 L625.6,1027.6 L626.1,1025.7 L626.6,1023.7 L627.1,1021.8 L627.6,1019.9 L628.1,1017.9 L628.6,1016.0 L629.1,1014.1 L629.6,1012.1 L630.1,1010.2 L630.6,1008.2 L631.1,1006.3 L631.6,1004.4 L632.0,1002.4 L632.5,1000.5 L633.0,998.5 L633.4,996.6 L633.9,994.6 L634.3,992.7 L634.8,990.7 L635.2,988.8 L635.7,986.8 L636.1,984.9 L636.6,982.9 L637.0,981.0 L637.4,979.0 L637.8,977.1 L638.3,975.1 L638.7,973.2 L639.1,971.2 L639.5,969.3 L639.9,967.3 L640.4,965.3 L640.8,963.4 L641.2,961.4 L641.6,959.5 L642.0,957.5 L642.4,955.6 L642.8,953.6 L643.2,951.6 L643.6,949.7 L643.9,947.7 L644.3,945.7 L644.7,943.8 L645.1,941.8 L645.5,939.9 L645.9,937.9 L646.2,935.9 L646.6,934.0 L647.0,932.0 L647.4,930.0 L647.7,928.1 L648.1,926.1 L648.5,924.1 L648.8,922.2 L649.2,920.2 L649.6,918.2 L649.9,916.3 L650.3,914.3 L650.6,912.3 L651.0,910.4 L651.4,908.4 L651.7,906.4 L652.1,904.5 L652.4,902.5 L652.8,900.5 L653.1,898.6 L653.5,896.6 L653.8,894.6 L654.2,892.7 L654.5,890.7 L654.9,888.7 L655.2,886.7 L655.6,884.8 L655.9,882.8 L656.3,880.8 L656.6,878.9 L657.0,876.9 L657.3,874.9 L657.7,873.0 L658.0,871.0 L658.4,869.0 L658.7,867.0 L659.1,865.1 L659.4,863.1 L659.7,861.1 L660.1,859.2 L660.4,857.2 L660.8,855.2 L661.1,853.3 L661.5,851.3 L661.8,849.3 L662.1,847.3 L662.5,845.4 L662.8,843.4 L663.2,841.4 L663.5,839.5 L663.9,837.5 L664.2,835.5 L664.5,833.6 L664.9,831.6 L665.2,829.6 L665.6,827.6 L665.9,825.7 L666.2,823.7 L666.6,821.7 L666.9,819.8 L667.2,817.8 L667.6,815.8 L667.9,813.8 L668.2,811.9 L668.6,809.9 L668.9,807.9 L669.3,806.0 L669.6,804.0 L669.9,802.0 L670.3,800.0 L670.6,798.1 L670.9,796.1 L671.3,794.1 L671.6,792.1 L671.9,790.2 L672.3,788.2 L672.6,786.2 L672.9,784.3 L673.2,782.3 L673.6,780.3 L673.9,778.3 L674.2,776.4 L674.6,774.4 L674.9,772.4 L675.2,770.5 L675.6,768.5 L675.9,766.5 L676.2,764.5 L676.5,762.6 L676.9,760.6 L677.2,758.6 L677.5,756.6 L677.8,754.7 L678.2,752.7 L678.5,750.7 L678.8,748.7 L679.2,746.8 L679.5,744.8 L679.8,742.8 L680.1,740.9 L680.4,738.9 L680.8,736.9 L681.1,734.9 L681.4,733.0 L681.7,731.0 L682.1,729.0 L682.4,727.0 L682.7,725.1 L683.0,723.1 L683.4,721.1 L683.7,719.1 L684.0,717.2 L684.3,715.2 L684.6,713.2 L685.0,711.2 L685.3,709.3 L685.6,707.3 L685.9,705.3 L686.2,703.3 L686.5,701.4 L686.9,699.4 L687.2,697.4 L687.5,695.4 L687.8,693.5 L688.1,691.5 L688.4,689.5 L688.8,687.6 L689.1,685.6 L689.4,683.6 L689.7,681.6 L690.0,679.7 L690.3,677.7 L690.7,675.7 L691.0,673.7 L691.3,671.7 L691.6,669.8 L691.9,667.8 L692.2,665.8 L692.5,663.8 L692.8,661.9 L693.2,659.9 L693.5,657.9 L693.8,655.9 L694.1,654.0 L694.4,652.0 L694.7,650.0 L695.0,648.0 L695.3,646.1 L695.6,644.1 L696.0,642.1 L696.3,640.1 L696.6,638.2 L696.9,636.2 L697.2,634.2 L697.5,632.2 L697.8,630.3 L698.1,628.3 L698.4,626.3 L698.7,624.3 L699.0,622.4 L699.3,620.4 L699.6,618.4 L699.9,616.4 L700.3,614.4 L700.6,612.5 L700.9,610.5 L701.2,608.5 L701.5,606.5 L701.8,604.6 L702.1,602.6 L702.4,600.6 L702.7,598.6 L703.0,596.7 L703.3,594.7 L703.6,592.7 L703.9,590.7 L704.2,588.7 L704.5,586.8 L704.8,584.8 L705.1,582.8 L705.4,580.8 L705.7,578.9 L706.0,576.9 L706.3,574.9 L706.6,572.9 L706.9,571.0 L707.2,569.0 L707.5,567.0 L707.8,565.0 L708.1,563.0 L708.4,561.1 L708.7,559.1 L709.0,557.1 L709.3,555.1 L709.6,553.2 L709.9,551.2 L710.2,549.2 L710.5,547.2 L710.8,545.2 L711.1,543.3 L711.4,541.3 L711.7,539.3 L712.0,537.3 L712.3,535.4 L712.5,533.4 L712.8,531.4 L713.1,529.4 L713.4,527.4 L713.7,525.5 L714.0,523.5 L714.3,521.5 L714.6,519.5 L714.9,517.5 L715.2,515.6 L715.5,513.6 L715.8,511.6 L716.1,509.6 L716.4,507.7 L716.7,505.7 L716.9,503.7 L717.2,501.7 L717.5,499.7 L717.8,497.8 L718.1,495.8 L718.4,493.8 L718.7,491.8 L719.0,489.8 L719.3,487.9 L719.6,485.9 L719.8,483.9 L720.1,481.9 L720.4,480.0 L720.7,478.0 L721.0,476.0 L721.3,474.0 L721.6,472.0 L721.9,470.1 L722.1,468.1 L722.4,466.1 L722.7,464.1 L723.0,462.1 L723.3,460.2 L723.6,458.2 L723.9,456.2 L724.1,454.2 L724.4,452.2 L724.7,450.3 L725.0,448.3 L725.3,446.3 L725.6,444.3 L725.9,442.3 L726.1,440.4 L726.4,438.4 L726.7,436.4 L727.0,434.4 L727.3,432.4 L727.6,430.5 L727.8,428.5 L728.1,426.5 L728.4,424.5 L728.7,422.5 L729.0,420.6 L729.2,418.6 L729.5,416.6 L729.8,414.6 L730.1,412.6 L730.4,410.7 L730.7,408.7 L730.9,406.7 L731.2,404.7 L731.5,402.7 L731.8,400.8 L732.1,398.8 L732.3,396.8 L732.6,394.8 L732.9,392.8 L733.2,390.9 L733.4,388.9 L733.7,386.9 L734.0,384.9 L734.3,382.9 L734.6,381.0 L734.8,379.0 L735.1,377.0 L735.4,375.0 L735.7,373.0 L735.9,371.1 L736.2,369.1 L736.5,367.1 L736.8,365.1 L737.1,363.1 L737.3,361.1 L737.6,359.2 L737.9,357.2 L738.2,355.2 L738.4,353.2 L738.7,351.2 L739.0,349.3 L739.3,347.3 L739.5,345.3 L739.8,343.3 L740.1,341.3 L740.4,339.4 L740.7,337.4 L740.9,335.4 L741.2,333.4 L741.5,331.4 L741.8,329.5 L742.0,327.5 L742.3,325.5 L742.6,323.5 L742.9,321.5 L743.2,319.6 L743.4,317.6 L743.7,315.6 L744.0,313.6 L744.3,311.6 L744.5,309.7 L744.8,307.7 L745.1,305.7 L745.4,303.7 L745.7,301.7 L745.9,299.8 L746.2,297.8 L746.5,295.8 L746.8,293.8 L747.1,291.8 L747.3,289.8 L747.6,287.9 L747.9,285.9 L748.2,283.9 L748.5,281.9 L748.7,279.9 L749.0,278.0 L749.3,276.0 L749.6,274.0 L749.9,272.0 L750.2,270.0 L750.4,268.1 L750.7,266.1 L751.0,264.1 L751.3,262.1 L751.6,260.2 L751.9,258.2 L752.2,256.2 L752.4,254.2 L752.7,252.2 L753.0,250.3 L753.3,248.3 L753.6,246.3 L753.9,244.3 L754.2,242.3 L754.5,240.4 L754.7,238.4 L755.0,236.4 L755.3,234.4 L755.6,232.4 L755.9,230.5 L756.2,228.5 L756.5,226.5 L756.8,224.5 L757.1,222.6 L757.4,220.6 L757.7,218.6 L758.0,216.6 L758.3,214.6 L758.6,212.7 L758.9,210.7 L759.2,208.7 L759.5,206.7 L759.8,204.7 L760.0,202.8 L760.3,200.8 L760.6,198.8 L761.0,196.8 L761.3,194.9 L761.6,192.9 L761.9,190.9 L762.2,188.9 L762.5,187.0 L762.8,185.0 L763.1,183.0 L763.4,181.0 L763.7,179.0 L764.0,177.1 L764.3,175.1 L764.6,173.1 L764.9,171.1 L765.2,169.2 L765.5,167.2 L765.9,165.2 L766.2,163.2 L766.5,161.3 L766.8,159.3 L767.1,157.3 L767.4,155.3 L767.7,153.4 L768.1,151.4 L768.4,149.4 L768.7,147.4 L769.0,145.5 L769.3,143.5 L769.6,141.5 L770.0,139.5 L770.3,137.6 L770.6,135.6 L770.9,133.6 L771.3,131.6 L771.6,129.7 L771.9,127.7 L772.2,125.7 L772.6,123.8 L772.9,121.8 L773.3,119.8 L773.6,117.9 L774.0,115.9 L774.4,113.9 L774.8,112.0 L775.3,110.0 L775.7,108.1 L776.2,106.1 L776.8,104.2 L777.3,102.3 L777.9,100.4 L778.6,98.5 L779.3,96.6 L780.0,94.8 L780.9,92.9 L781.7,91.1 L782.7,89.4 L783.7,87.6 L784.7,86.0 L785.9,84.3 L787.1,82.7 L788.4,81.2 L789.8,79.8 L791.2,78.4 L792.7,77.1 L794.3,75.9 L796.0,74.7 L797.7,73.7 L799.4,72.7 L801.2,71.9 L803.1,71.1 L805.0,70.4 L806.9,69.8 L808.8,69.3 L810.8,69.0 L812.8,68.8 L814.8,68.7 L816.8,68.9 L818.7,69.3 L820.7,69.8 L822.5,70.6 L824.3,71.5 L825.9,72.6 L827.5,73.9 L829.0,75.2 L830.4,76.7 L831.7,78.2 L832.9,79.7 L834.1,81.4 L835.2,83.0 L836.3,84.7 L837.3,86.4 L838.3,88.2 L839.2,89.9 L840.2,91.7 L841.1,93.5 L842.0,95.3 L842.8,97.1 L843.7,98.9 L844.5,100.7 L845.3,102.5 L846.2,104.3 L847.0,106.2 L847.7,108.0 L848.5,109.9 L849.3,111.7 L850.0,113.6 L850.8,115.4 L851.5,117.3 L852.2,119.2 L852.9,121.0 L853.6,122.9 L854.2,124.8 L854.9,126.7 L855.5,128.6 L856.1,130.5 L856.8,132.4 L857.4,134.3 L857.9,136.2 L858.5,138.1 L859.1,140.1 L859.6,142.0 L860.2,143.9 L860.7,145.8 L861.2,147.8 L861.7,149.7 L862.2,151.6 L862.7,153.6 L863.2,155.5 L863.6,157.5 L864.1,159.4 L864.5,161.4 L865.0,163.3 L865.4,165.3 L865.8,167.2 L866.2,169.2 L866.6,171.2 L867.0,173.1 L867.3,175.1 L867.7,177.0 L868.0,179.0 L868.4,181.0 L868.7,183.0 L869.0,184.9 L869.3,186.9 L869.7,188.9 L869.9,190.9 L870.2,192.8 L870.5,194.8 L870.8,196.8 L871.1,198.8 L871.3,200.8 L871.6,202.8 L871.8,204.7 L872.0,206.7 L872.3,208.7 L872.5,210.7 L872.7,212.7 L872.9,214.7 L873.1,216.7 L873.3,218.7 L873.5,220.6 L873.7,222.6 L873.9,224.6 L874.1,226.6 L874.2,228.6 L874.4,230.6 L874.6,232.6 L874.7,234.6 L874.9,236.6 L875.0,238.6 L875.2,240.6 L875.3,242.6 L875.4,244.6 L875.6,246.6 L875.7,248.6 L875.8,250.6 L876.0,252.6 L876.1,254.5 L876.2,256.5 L876.3,258.5 L876.4,260.5 L876.5,262.5 L876.6,264.5 L876.8,266.5 L876.9,268.5 L877.0,270.5 L877.1,272.5 L877.2,274.5 L877.3,276.5 L877.4,278.5 L877.5,280.5 L877.6,282.5 L877.6,284.5 L877.7,286.5 L877.8,288.5 L877.9,290.5 L878.0,292.5 L878.1,294.5 L878.2,296.5 L878.3,298.5 L878.4,300.5 L878.5,302.5 L878.6,304.5 L878.7,306.5 L878.8,308.5 L878.9,310.5 L879.0,312.5 L879.1,314.5 L879.3,316.5 L879.4,318.5 L879.5,320.5 L879.6,322.5 L879.7,324.5 L879.8,326.5 L880.0,328.4 L880.1,330.4 L880.2,332.4 L880.3,334.4 L880.4,336.4 L880.6,338.4 L880.7,340.4 L880.8,342.4 L881.0,344.4 L881.1,346.4 L881.2,348.4 L881.4,350.4 L881.5,352.4 L881.6,354.4 L881.8,356.4 L881.9,358.4 L882.0,360.4 L882.2,362.4 L882.3,364.4 L882.5,366.4 L882.6,368.4 L882.8,370.4 L882.9,372.3 L883.0,374.3 L883.2,376.3 L883.3,378.3 L883.5,380.3 L883.6,382.3 L883.8,384.3 L883.9,386.3 L884.1,388.3 L884.2,390.3 L884.4,392.3 L884.6,394.3 L884.7,396.3 L884.9,398.3 L885.0,400.3 L885.2,402.3 L885.3,404.3 L885.5,406.2 L885.7,408.2 L885.8,410.2 L886.0,412.2 L886.1,414.2 L886.3,416.2 L886.5,418.2 L886.6,420.2 L886.8,422.2 L887.0,424.2 L887.1,426.2 L887.3,428.2 L887.5,430.2 L887.6,432.2 L887.8,434.2 L887.9,436.1 L888.1,438.1 L888.3,440.1 L888.4,442.1 L888.6,444.1 L888.8,446.1 L888.9,448.1 L889.1,450.1 L889.3,452.1 L889.4,454.1 L889.6,456.1 L889.8,458.1 L889.9,460.1 L890.1,462.1 L890.3,464.1 L890.5,466.0 L890.6,468.0 L890.8,470.0 L891.0,472.0 L891.1,474.0 L891.3,476.0 L891.5,478.0 L891.6,480.0 L891.8,482.0 L892.0,484.0 L892.1,486.0 L892.3,488.0 L892.4,490.0 L892.6,492.0 L892.8,493.9 L892.9,495.9 L893.1,497.9 L893.3,499.9 L893.4,501.9 L893.6,503.9 L893.8,505.9 L893.9,507.9 L894.1,509.9 L894.2,511.9 L894.4,513.9 L894.6,515.9 L894.7,517.9 L894.9,519.9 L895.0,521.9 L895.2,523.9 L895.3,525.8 L895.5,527.8 L895.6,529.8 L895.8,531.8 L895.9,533.8 L896.1,535.8 L896.3,537.8 L896.4,539.8 L896.6,541.8 L896.7,543.8 L896.9,545.8 L897.0,547.8 L897.1,549.8 L897.3,551.8 L897.4,553.8 L897.6,555.8 L897.7,557.8 L897.9,559.7 L898.0,561.7 L898.2,563.7 L898.3,565.7 L898.5,567.7 L898.6,569.7 L898.7,571.7 L898.9,573.7 L899.0,575.7 L899.2,577.7 L899.3,579.7 L899.4,581.7 L899.6,583.7 L899.7,585.7 L899.9,587.7 L900.0,589.7 L900.1,591.7 L900.3,593.7 L900.4,595.7 L900.5,597.7 L900.7,599.7 L900.8,601.6 L900.9,603.6 L901.1,605.6 L901.2,607.6 L901.4,609.6 L901.5,611.6 L901.6,613.6 L901.8,615.6 L901.9,617.6 L902.0,619.6 L902.1,621.6 L902.3,623.6 L902.4,625.6 L902.5,627.6 L902.7,629.6 L902.8,631.6 L902.9,633.6 L903.1,635.6 L903.2,637.6 L903.3,639.6 L903.4,641.6 L903.6,643.6 L903.7,645.6 L903.8,647.5 L904.0,649.5 L904.1,651.5 L904.2,653.5 L904.3,655.5 L904.5,657.5 L904.6,659.5 L904.7,661.5 L904.9,663.5 L905.0,665.5 L905.1,667.5 L905.2,669.5 L905.4,671.5 L905.5,673.5 L905.6,675.5 L905.7,677.5 L905.9,679.5 L906.0,681.5 L906.1,683.5 L906.2,685.5 L906.4,687.5 L906.5,689.5 L906.6,691.5 L906.7,693.5 L906.9,695.5 L907.0,697.4 L907.1,699.4 L907.2,701.4 L907.4,703.4 L907.5,705.4 L907.6,707.4 L907.7,709.4 L907.9,711.4 L908.0,713.4 L908.1,715.4 L908.2,717.4 L908.4,719.4 L908.5,721.4 L908.6,723.4 L908.7,725.4 L908.9,727.4 L909.0,729.4 L909.1,731.4 L909.2,733.4 L909.4,735.4 L909.5,737.4 L909.6,739.4 L909.7,741.4 L909.9,743.4 L910.0,745.4 L910.1,747.3 L910.2,749.3 L910.4,751.3 L910.5,753.3 L910.6,755.3 L910.7,757.3 L910.9,759.3 L911.0,761.3 L911.1,763.3 L911.3,765.3 L911.4,767.3 L911.5,769.3 L911.6,771.3 L911.8,773.3 L911.9,775.3 L912.0,777.3 L912.2,779.3 L912.3,781.3 L912.4,783.3 L912.5,785.3 L912.7,787.3 L912.8,789.3 L912.9,791.3 L913.1,793.3 L913.2,795.2 L913.3,797.2 L913.5,799.2 L913.6,801.2 L913.7,803.2 L913.9,805.2 L914.0,807.2 L914.1,809.2 L914.3,811.2 L914.4,813.2 L914.5,815.2 L914.7,817.2 L914.8,819.2 L914.9,821.2 L915.1,823.2 L915.2,825.2 L915.4,827.2 L915.5,829.2 L915.6,831.2 L915.8,833.2 L915.9,835.2 L916.0,837.2 L916.2,839.1 L916.3,841.1 L916.5,843.1 L916.6,845.1 L916.8,847.1 L916.9,849.1 L917.0,851.1 L917.2,853.1 L917.3,855.1 L917.5,857.1 L917.6,859.1 L917.8,861.1 L917.9,863.1 L918.1,865.1 L918.2,867.1 L918.4,869.1 L918.5,871.1 L918.6,873.1 L918.8,875.1 L918.9,877.0 L919.1,879.0 L919.3,881.0 L919.4,883.0 L919.6,885.0 L919.7,887.0 L919.9,889.0 L920.0,891.0 L920.2,893.0 L920.3,895.0 L920.5,897.0 L920.6,899.0 L920.8,901.0 L921.0,903.0 L921.1,905.0 L921.3,907.0 L921.4,909.0 L921.6,910.9 L921.8,912.9 L921.9,914.9 L922.1,916.9 L922.3,918.9 L922.4,920.9 L922.6,922.9 L922.8,924.9 L922.9,926.9 L923.1,928.9 L923.3,930.9 L923.4,932.9 L923.6,934.9 L923.8,936.9 L924.0,938.8 L924.1,940.8 L924.3,942.8 L924.5,944.8 L924.7,946.8 L924.8,948.8 L925.0,950.8 L925.2,952.8 L925.4,954.8 L925.6,956.8 L925.7,958.8 L925.9,960.8 L926.1,962.7 L926.3,964.7 L926.5,966.7 L926.7,968.7 L926.8,970.7 L927.0,972.7 L927.2,974.7 L927.4,976.7 L927.6,978.7 L927.8,980.7 L928.0,982.7 L928.2,984.7 L928.4,986.6 L928.6,988.6 L928.8,990.6 L929.0,992.6 L929.2,994.6 L929.4,996.6 L929.6,998.6 L929.8,1000.6 L930.0,1002.6 L930.2,1004.6 L930.4,1006.5 L930.6,1008.5 L930.8,1010.5 L931.0,1012.5 L931.2,1014.5 L931.4,1016.5 L931.6,1018.5 L931.9,1020.5 L932.1,1022.5 L932.3,1024.4 L932.5,1026.4 L932.7,1028.4 L932.9,1030.4 L933.2,1032.4 L933.4,1034.4 L933.6,1036.4 L933.8,1038.4 L934.1,1040.3 L934.3,1042.3 L934.5,1044.3 L934.7,1046.3 L935.0,1048.3 L935.2,1050.3 L935.4,1052.3 L935.7,1054.2 L935.9,1056.2 L936.1,1058.2 L936.4,1060.2 L936.6,1062.2 L936.8,1064.2 L937.1,1066.2 L937.3,1068.1 L937.6,1070.1 L937.8,1072.1 L938.1,1074.1 L938.3,1076.1 L938.6,1078.1 L938.8,1080.1 L939.0,1082.0 L939.3,1084.0 L939.5,1086.0 L939.8,1088.0 L940.1,1090.0 L940.3,1092.0 L940.6,1093.9 L940.8,1095.9 L941.1,1097.9 L941.3,1099.9 L941.6,1101.9 L941.9,1103.9 L942.1,1105.8 L942.4,1107.8 L942.7,1109.8 L942.9,1111.8 L943.2,1113.8 L943.5,1115.8 L943.7,1117.7 L944.0,1119.7 L944.3,1121.7 L944.5,1123.7 L944.8,1125.7 L945.1,1127.6 L945.4,1129.6 L945.6,1131.6 L945.9,1133.6 L946.2,1135.6 L946.5,1137.5 L946.8,1139.5 L947.1,1141.5 L947.3,1143.5 L947.6,1145.5 L947.9,1147.4 L948.2,1149.4 L948.5,1151.4 L948.8,1153.4 L949.1,1155.4 L949.4,1157.3 L949.7,1159.3 L950.0,1161.3 L950.2,1163.3 L950.5,1165.2 L950.8,1167.2 L951.1,1169.2 L951.4,1171.2 L951.7,1173.2 L952.1,1175.1 L952.4,1177.1 L952.7,1179.1 L953.0,1181.1 L953.3,1183.0 L953.6,1185.0 L953.9,1187.0 L954.2,1189.0 L954.5,1190.9 L954.8,1192.9 L955.1,1194.9 L955.5,1196.9 L955.8,1198.8 L956.1,1200.8 L956.4,1202.8 L956.7,1204.8 L957.0,1206.7 L957.4,1208.7 L957.7,1210.7 L958.0,1212.7 L958.3,1214.6 L958.7,1216.6 L959.0,1218.6 L959.3,1220.6 L959.7,1222.5 L960.0,1224.5 L960.4,1226.5 L960.7,1228.4 L961.1,1230.4 L961.5,1232.4 L961.9,1234.3 L962.3,1236.3 L962.7,1238.2 L963.2,1240.2 L963.7,1242.1 L964.2,1244.1 L964.7,1246.0 L965.2,1247.9 L965.8,1249.8 L966.4,1251.7 L967.1,1253.6 L967.7,1255.5 L968.4,1257.4 L969.2,1259.2 L969.9,1261.1 L970.7,1262.9 L971.6,1264.7 L972.5,1266.5 L973.4,1268.3 L974.4,1270.1 L975.4,1271.8 L976.4,1273.5 L977.5,1275.2 L978.6,1276.8 L979.8,1278.4 L981.0,1280.0 L982.2,1281.6 L983.5,1283.1 L984.9,1284.6 L986.3,1286.1 L987.7,1287.5 L989.1,1288.8 L990.6,1290.2 L992.2,1291.4 L993.8,1292.6 L995.4,1293.8 L997.1,1294.9 L998.8,1296.0 L1000.5,1296.9 L1002.3,1297.8 L1004.1,1298.7 L1006.0,1299.4 L1007.9,1300.1 L1009.8,1300.7 L1011.7,1301.2 L1013.6,1301.6 L1015.6,1302.0 L1017.6,1302.3 L1019.6,1302.5 L1021.6,1302.6 L1023.6,1302.7 L1025.6,1302.7 L1027.6,1302.6 L1029.6,1302.4 L1031.5,1302.1 L1033.5,1301.8 L1035.5,1301.4 L1037.4,1301.0 L1039.4,1300.5 L1041.3,1299.9 L1043.2,1299.2 L1045.0,1298.5 L1046.1,1298.0" fill="none" stroke="#ff4521" stroke-width="12" stroke-linecap="round" stroke-linejoin="round" stroke-dasharray="21.0 34.25" stroke-dashoffset="1.5"/>
<path d="M1045.9,1299.3 L1047.8,1299.5 L1049.8,1299.7 L1051.8,1300.0 L1053.8,1300.2 L1055.8,1300.4 L1057.8,1300.6 L1059.8,1300.8 L1061.8,1301.0 L1063.8,1301.2 L1065.7,1301.4 L1067.7,1301.5 L1069.7,1301.7 L1071.7,1301.9 L1073.7,1302.0 L1075.7,1302.1 L1077.7,1302.3 L1079.7,1302.4 L1081.7,1302.5 L1083.7,1302.6 L1085.7,1302.7 L1087.7,1302.8 L1089.7,1302.9 L1091.7,1303.0 L1093.7,1303.1 L1095.7,1303.2 L1097.7,1303.3 L1099.7,1303.3 L1101.7,1303.4 L1103.7,1303.4 L1105.7,1303.5 L1107.7,1303.5 L1109.7,1303.6 L1111.7,1303.6 L1113.7,1303.6 L1115.7,1303.7 L1117.7,1303.7 L1119.7,1303.7 L1121.7,1303.7 L1123.7,1303.7 L1125.7,1303.7 L1127.7,1303.7 L1129.7,1303.7 L1131.7,1303.7 L1133.7,1303.7 L1135.7,1303.7 L1137.7,1303.7 L1139.7,1303.6 L1141.7,1303.6 L1143.7,1303.6 L1145.7,1303.6 L1147.7,1303.5 L1149.7,1303.5 L1151.7,1303.4 L1153.7,1303.4 L1155.7,1303.4 L1157.7,1303.3 L1159.7,1303.3 L1161.7,1303.2 L1163.7,1303.2 L1165.7,1303.1 L1167.7,1303.0 L1169.7,1303.0 L1171.7,1302.9 L1173.7,1302.9 L1175.7,1302.8 L1177.7,1302.7 L1179.7,1302.7 L1181.7,1302.6 L1183.7,1302.5 L1185.7,1302.5 L1187.7,1302.4 L1189.7,1302.3 L1191.7,1302.3 L1193.7,1302.2 L1195.7,1302.1 L1197.7,1302.0 L1199.7,1302.0 L1201.7,1301.9 L1203.7,1301.8 L1205.7,1301.8 L1207.7,1301.7 L1209.7,1301.6 L1211.7,1301.5 L1213.7,1301.5 L1215.6,1301.4 L1217.6,1301.3 L1219.6,1301.3 L1221.6,1301.2 L1223.6,1301.2 L1225.6,1301.1 L1227.6,1301.0 L1229.6,1301.0 L1231.6,1300.9 L1233.6,1300.9 L1235.6,1300.8 L1237.6,1300.8 L1239.6,1300.7 L1241.6,1300.7 L1243.6,1300.6 L1245.6,1300.6 L1247.6,1300.5 L1249.6,1300.5 L1251.6,1300.4 L1253.6,1300.4 L1255.6,1300.3 L1257.6,1300.3 L1259.6,1300.3 L1261.6,1300.2 L1263.6,1300.2 L1265.6,1300.1 L1267.6,1300.1 L1269.6,1300.1 L1271.6,1300.0 L1273.6,1300.0 L1275.6,1300.0 L1277.6,1300.0 L1279.6,1299.9 L1281.6,1299.9 L1283.6,1299.9 L1285.6,1299.8 L1287.6,1299.8 L1289.6,1299.8 L1291.6,1299.8 L1293.6,1299.8 L1295.6,1299.7 L1297.6,1299.7 L1299.6,1299.7 L1301.6,1299.7 L1303.6,1299.7 L1305.6,1299.7 L1307.6,1299.6 L1309.6,1299.6 L1311.6,1299.6 L1313.6,1299.6 L1315.6,1299.6 L1317.6,1299.6 L1319.6,1299.6 L1321.6,1299.6 L1323.6,1299.6 L1325.6,1299.6 L1327.6,1299.6 L1329.6,1299.6 L1331.6,1299.6 L1333.6,1299.6 L1335.6,1299.6 L1337.6,1299.6 L1339.6,1299.6 L1341.6,1299.6 L1343.6,1299.6 L1345.6,1299.6 L1347.6,1299.6 L1349.6,1299.6 L1351.6,1299.6 L1353.6,1299.6 L1355.6,1299.6 L1357.6,1299.6 L1359.6,1299.6 L1361.6,1299.6 L1363.6,1299.6 L1365.6,1299.7 L1367.6,1299.7 L1369.6,1299.7 L1371.6,1299.7 L1373.6,1299.7 L1375.6,1299.7 L1377.6,1299.7 L1379.6,1299.8 L1381.6,1299.8 L1383.6,1299.8 L1385.6,1299.8 L1387.6,1299.8 L1389.6,1299.9 L1391.6,1299.9 L1393.6,1299.9 L1395.6,1299.9 L1397.6,1299.9 L1399.6,1300.0 L1401.6,1300.0 L1403.6,1300.0 L1405.6,1300.0 L1407.6,1300.1 L1409.6,1300.1 L1411.6,1300.1 L1413.6,1300.1 L1415.6,1300.2 L1417.6,1300.2 L1419.6,1300.2 L1421.6,1300.2 L1423.6,1300.3 L1425.6,1300.3 L1427.6,1300.3 L1429.6,1300.4 L1431.6,1300.4 L1433.6,1300.4 L1435.6,1300.5 L1437.6,1300.5 L1439.6,1300.5 L1441.6,1300.6 L1443.6,1300.6 L1445.6,1300.6 L1447.6,1300.7 L1449.6,1300.7 L1451.6,1300.7 L1453.6,1300.8 L1455.6,1300.8 L1457.6,1300.8 L1459.6,1300.9 L1461.6,1300.9 L1463.6,1301.0 L1465.6,1301.0 L1467.6,1301.0 L1469.6,1301.1 L1471.6,1301.1 L1473.6,1301.2 L1475.6,1301.2 L1477.6,1301.2 L1479.6,1301.3 L1481.6,1301.3 L1483.6,1301.4 L1485.6,1301.4 L1487.6,1301.4 L1489.6,1301.5 L1491.6,1301.5 L1493.6,1301.6 L1495.6,1301.6 L1497.6,1301.7 L1499.6,1301.7 L1501.6,1301.7 L1503.6,1301.8 L1505.6,1301.8 L1507.6,1301.9 L1509.6,1301.9 L1511.6,1302.0 L1513.6,1302.0 L1515.6,1302.1 L1517.6,1302.1 L1519.6,1302.1 L1521.6,1302.2 L1523.6,1302.2 L1525.6,1302.3 L1527.6,1302.3 L1529.6,1302.4 L1531.6,1302.4 L1533.6,1302.5 L1535.6,1302.5 L1537.6,1302.6 L1539.6,1302.6 L1541.6,1302.7 L1543.6,1302.7 L1545.6,1302.7 L1547.6,1302.8 L1549.6,1302.8 L1551.6,1302.9 L1553.6,1302.9 L1555.6,1303.0 L1557.6,1303.0 L1559.6,1303.1 L1561.6,1303.1 L1563.6,1303.2 L1565.6,1303.2 L1567.6,1303.3 L1569.6,1303.3 L1571.6,1303.4 L1573.6,1303.4 L1575.6,1303.5 L1577.6,1303.5 L1579.6,1303.5 L1581.6,1303.6 L1583.6,1303.6 L1585.6,1303.7 L1587.6,1303.7 L1589.6,1303.8 L1591.6,1303.8 L1593.6,1303.9 L1595.6,1303.9 L1597.6,1304.0 L1599.6,1304.0 L1601.6,1304.1 L1603.6,1304.1 L1605.6,1304.2 L1607.6,1304.2 L1609.6,1304.2 L1611.6,1304.3 L1613.6,1304.3 L1615.6,1304.4 L1617.6,1304.4 L1619.6,1304.5 L1621.6,1304.5 L1623.6,1304.6 L1625.6,1304.6 L1627.6,1304.6 L1629.6,1304.7 L1631.6,1304.7 L1633.6,1304.8 L1635.6,1304.8 L1637.6,1304.9 L1639.6,1304.9 L1641.6,1304.9 L1643.6,1305.0 L1645.6,1305.0 L1647.6,1305.1 L1649.6,1305.1 L1651.6,1305.2 L1653.6,1305.2 L1655.6,1305.2 L1657.6,1305.3 L1659.6,1305.3 L1661.6,1305.4 L1663.6,1305.4 L1665.6,1305.4 L1667.6,1305.5 L1669.6,1305.5 L1671.6,1305.5 L1673.6,1305.6 L1675.6,1305.6 L1677.6,1305.7 L1679.6,1305.7 L1681.6,1305.7 L1683.6,1305.8 L1685.6,1305.8 L1687.6,1305.8 L1689.6,1305.9 L1691.6,1305.9 L1693.6,1305.9 L1695.6,1306.0 L1697.6,1306.0 L1699.6,1306.0 L1701.6,1306.1 L1703.6,1306.1 L1705.6,1306.1 L1707.6,1306.1 L1709.6,1306.2 L1711.6,1306.2 L1713.6,1306.2 L1715.6,1306.3 L1717.6,1306.3 L1719.6,1306.3 L1721.6,1306.3 L1723.6,1306.4 L1725.6,1306.4 L1727.6,1306.4 L1729.6,1306.4 L1731.6,1306.5 L1733.6,1306.5 L1735.6,1306.5 L1737.6,1306.5 L1739.6,1306.6 L1741.6,1306.6 L1743.6,1306.6 L1745.6,1306.6 L1747.6,1306.6 L1749.6,1306.6 L1751.6,1306.7 L1753.6,1306.7 L1755.6,1306.7 L1757.6,1306.7 L1759.6,1306.7 L1761.6,1306.7 L1763.6,1306.8 L1765.6,1306.8 L1767.6,1306.8 L1769.6,1306.8 L1771.6,1306.8 L1773.6,1306.8 L1775.6,1306.8 L1777.6,1306.8 L1779.6,1306.8 L1781.6,1306.8 L1783.6,1306.8 L1785.6,1306.9 L1787.6,1306.9 L1789.6,1306.9 L1791.6,1306.9 L1793.6,1306.9 L1795.6,1306.9 L1797.6,1306.9 L1799.6,1306.9 L1801.6,1306.9 L1803.6,1306.9 L1805.6,1306.9 L1807.6,1306.9 L1809.6,1306.9 L1811.6,1306.8 L1813.6,1306.8 L1815.6,1306.8 L1817.6,1306.8 L1819.6,1306.8 L1821.6,1306.8 L1823.6,1306.8 L1825.6,1306.8 L1827.6,1306.8 L1829.6,1306.8 L1831.6,1306.7 L1833.6,1306.7 L1835.6,1306.7 L1837.6,1306.7 L1839.6,1306.7 L1841.6,1306.7 L1843.6,1306.6 L1845.6,1306.6 L1847.6,1306.6 L1849.6,1306.6 L1851.6,1306.5 L1853.6,1306.5 L1855.6,1306.5 L1857.6,1306.5 L1859.6,1306.4 L1861.6,1306.4 L1863.6,1306.4 L1865.6,1306.4 L1867.6,1306.3 L1869.6,1306.3 L1871.6,1306.3 L1873.6,1306.2 L1875.6,1306.2 L1877.6,1306.1 L1879.6,1306.1 L1881.6,1306.1 L1883.6,1306.0 L1885.6,1306.0 L1887.6,1305.9 L1889.6,1305.9 L1891.6,1305.9 L1893.6,1305.8 L1895.6,1305.8 L1897.6,1305.7 L1899.6,1305.7 L1901.6,1305.6 L1903.5,1305.6 L1905.5,1305.5 L1907.5,1305.5 L1909.5,1305.4 L1911.5,1305.3 L1913.5,1305.3 L1915.5,1305.2 L1917.5,1305.2 L1919.5,1305.1 L1920.6,1305.1" fill="none" stroke="#ff4521" stroke-width="12" stroke-linecap="round" stroke-linejoin="round" stroke-dasharray="21.0 33.75" stroke-dashoffset="13.5"/>
<path d="M306.7,1088.5 L306.9,1090.5 L307.1,1092.5 L307.3,1094.5 L307.5,1096.5 L307.7,1098.5 L307.9,1100.5 L308.2,1102.5 L308.4,1104.4 L308.7,1106.4 L308.9,1108.4 L309.2,1110.4 L309.5,1112.4 L309.8,1114.3 L310.2,1116.3 L310.5,1118.3 L310.9,1120.2 L311.3,1122.2 L311.8,1124.1 L312.3,1126.1 L312.8,1128.0 L313.3,1129.9 L313.9,1131.9 L314.5,1133.8 L315.2,1135.6 L315.9,1137.5 L316.7,1139.4 L317.5,1141.2 L318.4,1143.0 L319.3,1144.7 L320.4,1146.5 L321.5,1148.1 L322.6,1149.7 L323.9,1151.3 L325.2,1152.8 L326.7,1154.2 L328.2,1155.5 L329.7,1156.7 L331.4,1157.9 L333.0,1159.0 L334.8,1160.0 L336.6,1160.9 L338.4,1161.7 L340.2,1162.5 L342.1,1163.2 L344.0,1163.8 L345.9,1164.3 L347.9,1164.8 L349.8,1165.3 L351.8,1165.6 L353.8,1165.9 L355.7,1166.2 L357.7,1166.4 L359.7,1166.6 L361.7,1166.8 L363.7,1166.9 L365.7,1166.9 L367.7,1167.0 L369.7,1167.0 L371.7,1166.9 L373.7,1166.9 L375.7,1166.8 L377.7,1166.7 L379.7,1166.6 L381.7,1166.4 L383.7,1166.3 L385.7,1166.1 L387.7,1165.9 L389.7,1165.6 L391.6,1165.4 L393.6,1165.2 L395.6,1164.9 L397.6,1164.6 L399.6,1164.3 L401.6,1164.1 L403.5,1163.8 L405.5,1163.5 L407.5,1163.2 L409.5,1162.9 L411.4,1162.6 L413.4,1162.3 L415.4,1162.1 L417.4,1161.8 L419.4,1161.5 L421.4,1161.3 L423.3,1161.1 L425.3,1160.9 L427.3,1160.7 L429.3,1160.5 L431.3,1160.4 L433.3,1160.3 L435.3,1160.2 L437.3,1160.1 L439.3,1160.1 L441.3,1160.1 L443.3,1160.2 L445.3,1160.2 L447.3,1160.4 L449.3,1160.5 L451.3,1160.7 L453.3,1161.0 L455.3,1161.2 L457.2,1161.5 L459.2,1161.9 L461.2,1162.2 L463.1,1162.6 L465.1,1163.0 L467.1,1163.4 L469.0,1163.8 L471.0,1164.3 L472.9,1164.8 L474.8,1165.2 L476.8,1165.7 L478.7,1166.2 L480.7,1166.7 L482.6,1167.2 L484.5,1167.7 L486.5,1168.2 L488.4,1168.8 L490.3,1169.3 L492.3,1169.8 L494.2,1170.3 L496.1,1170.8 L498.1,1171.3 L500.0,1171.8 L502.0,1172.2 L503.9,1172.7 L505.8,1173.1 L507.8,1173.6 L509.8,1174.0 L511.7,1174.4 L513.7,1174.8 L515.6,1175.1 L517.6,1175.5 L519.6,1175.8 L521.6,1176.0 L523.6,1176.3 L525.6,1176.5 L527.5,1176.7 L529.5,1176.8 L531.5,1176.9 L533.5,1176.9 L535.5,1176.9 L537.5,1176.8 L539.5,1176.7 L541.5,1176.5 L543.5,1176.2 L545.5,1175.9 L547.4,1175.4 L549.3,1174.9 L551.2,1174.2 L553.1,1173.5 L554.9,1172.6 L556.7,1171.7 L558.4,1170.7 L560.0,1169.5 L561.6,1168.3 L563.2,1167.1 L564.7,1165.8 L566.1,1164.4 L567.5,1162.9 L568.9,1161.5 L570.2,1159.9 L571.4,1158.4 L572.6,1156.8 L573.8,1155.2 L574.9,1153.5 L576.0,1151.9 L577.1,1150.2 L578.2,1148.5 L579.2,1146.7 L580.2,1145.0 L581.1,1143.2 L582.1,1141.5 L583.0,1139.7 L583.9,1137.9 L584.8,1136.1 L585.6,1134.3 L586.5,1132.5 L587.3,1130.7 L588.1,1128.9 L589.0,1127.0 L589.8,1125.2 L590.6,1123.4 L591.4,1121.5 L592.2,1119.7 L592.9,1117.9 L593.7,1116.0 L594.5,1114.2 L595.3,1112.3 L596.1,1110.5 L596.8,1108.6 L597.6,1106.8 L598.3,1104.9 L599.1,1103.1 L599.8,1101.2 L600.6,1099.4 L601.3,1097.5 L602.0,1095.6 L602.7,1093.8 L603.5,1091.9 L604.2,1090.0 L604.9,1088.2 L605.6,1086.3 L606.3,1084.4 L606.9,1082.5 L607.6,1080.7 L608.3,1078.8 L609.0,1076.9 L609.6,1075.0 L610.3,1073.1 L611.0,1071.2 L611.6,1069.3 L612.2,1067.5 L612.9,1065.6 L613.5,1063.7 L614.1,1061.8 L614.8,1059.9 L615.4,1058.0 L616.0,1056.0 L616.6,1054.1 L617.2,1052.2 L617.8,1050.3 L618.4,1048.4 L618.9,1046.5 L619.5,1044.6 L620.1,1042.7 L620.7,1040.7 L621.2,1038.8 L621.8,1036.9 L622.3,1035.0 L622.9,1033.1 L623.4,1031.1 L624.0,1029.2 L624.5,1027.3 L625.0,1025.4 L625.6,1023.4 L626.1,1021.5 L626.6,1019.6 L627.1,1017.6 L627.6,1015.7 L628.1,1013.8 L628.6,1011.8 L629.1,1009.9 L629.6,1007.9 L630.1,1006.0 L630.6,1004.1 L631.0,1002.1 L631.5,1000.2 L632.0,998.2 L632.5,996.3 L632.9,994.3 L633.4,992.4 L633.8,990.5 L634.3,988.5 L634.7,986.6 L635.2,984.6 L635.6,982.7 L636.1,980.7 L636.5,978.8 L636.9,976.8 L637.4,974.8 L637.8,972.9 L638.2,970.9 L638.7,969.0 L639.1,967.0 L639.5,965.1 L639.9,963.1 L640.3,961.2 L640.7,959.2 L641.1,957.2 L641.5,955.3 L641.9,953.3 L642.3,951.4 L642.7,949.4 L643.1,947.4 L643.5,945.5 L643.9,943.5 L644.3,941.6 L644.7,939.6 L645.1,937.6 L645.4,935.7 L645.8,933.7 L646.2,931.7 L646.6,929.8 L646.9,927.8 L647.3,925.8 L647.7,923.9 L648.0,921.9 L648.4,919.9 L648.8,918.0 L649.1,916.0 L649.5,914.0 L649.9,912.1 L650.2,910.1 L650.6,908.1 L650.9,906.2 L651.3,904.2 L651.7,902.2 L652.0,900.3 L652.4,898.3 L652.7,896.3 L653.1,894.4 L653.4,892.4 L653.8,890.4 L654.1,888.5 L654.5,886.5 L654.8,884.5 L655.2,882.6 L655.5,880.6 L655.9,878.6 L656.2,876.6 L656.6,874.7 L656.9,872.7 L657.3,870.7 L657.6,868.8 L658.0,866.8 L658.3,864.8 L658.7,862.9 L659.0,860.9 L659.3,858.9 L659.7,856.9 L660.0,855.0 L660.4,853.0 L660.7,851.0 L661.1,849.1 L661.4,847.1 L661.7,845.1 L662.1,843.2 L662.4,841.2 L662.8,839.2 L663.1,837.2 L663.4,835.3 L663.8,833.3 L664.1,831.3 L664.5,829.4 L664.8,827.4 L665.1,825.4 L665.5,823.4 L665.8,821.5 L666.2,819.5 L666.5,817.5 L666.8,815.6 L667.2,813.6 L667.5,811.6 L667.8,809.6 L668.2,807.7 L668.5,805.7 L668.8,803.7 L669.2,801.8 L669.5,799.8 L669.8,797.8 L670.2,795.8 L670.5,793.9 L670.8,791.9 L671.2,789.9 L671.5,788.0 L671.8,786.0 L672.2,784.0 L672.5,782.0 L672.8,780.1 L673.2,778.1 L673.5,776.1 L673.8,774.1 L674.2,772.2 L674.5,770.2 L674.8,768.2 L675.1,766.3 L675.5,764.3 L675.8,762.3 L676.1,760.3 L676.5,758.4 L676.8,756.4 L677.1,754.4 L677.4,752.4 L677.8,750.5 L678.1,748.5 L678.4,746.5 L678.7,744.6 L679.1,742.6 L679.4,740.6 L679.7,738.6 L680.0,736.7 L680.4,734.7 L680.7,732.7 L681.0,730.7 L681.3,728.8 L681.6,726.8 L682.0,724.8 L682.3,722.8 L682.6,720.9 L682.9,718.9 L683.2,716.9 L683.6,714.9 L683.9,713.0 L684.2,711.0 L684.5,709.0 L684.8,707.0 L685.2,705.1 L685.5,703.1 L685.8,701.1 L686.1,699.1 L686.4,697.2 L686.8,695.2 L687.1,693.2 L687.4,691.2 L687.7,689.3 L688.0,687.3 L688.3,685.3 L688.6,683.4 L689.0,681.4 L689.3,679.4 L689.6,677.4 L689.9,675.4 L690.2,673.5 L690.5,671.5 L690.8,669.5 L691.2,667.5 L691.5,665.6 L691.8,663.6 L692.1,661.6 L692.4,659.6 L692.7,657.7 L693.0,655.7 L693.3,653.7 L693.7,651.7 L694.0,649.8 L694.3,647.8 L694.6,645.8 L694.9,643.8 L695.2,641.9 L695.5,639.9 L695.8,637.9 L696.1,635.9 L696.4,634.0 L696.7,632.0 L697.0,630.0 L697.4,628.0 L697.7,626.1 L698.0,624.1 L698.3,622.1 L698.6,620.1 L698.9,618.1 L699.2,616.2 L699.5,614.2 L699.8,612.2 L700.1,610.2 L700.4,608.3 L700.7,606.3 L701.0,604.3 L701.3,602.3 L701.6,600.4 L701.9,598.4 L702.2,596.4 L702.5,594.4 L702.8,592.5 L703.1,590.5 L703.4,588.5 L703.7,586.5 L704.0,584.5 L704.3,582.6 L704.6,580.6 L704.9,578.6 L705.2,576.6 L705.5,574.7 L705.8,572.7 L706.1,570.7 L706.4,568.7 L706.7,566.7 L707.0,564.8 L707.3,562.8 L707.6,560.8 L707.9,558.8 L708.2,556.9 L708.5,554.9 L708.8,552.9 L709.1,550.9 L709.4,548.9 L709.7,547.0 L710.0,545.0 L710.3,543.0 L710.6,541.0 L710.9,539.1 L711.2,537.1 L711.5,535.1 L711.8,533.1 L712.1,531.1 L712.4,529.2 L712.7,527.2 L713.0,525.2 L713.3,523.2 L713.6,521.3 L713.8,519.3 L714.1,517.3 L714.4,515.3 L714.7,513.3 L715.0,511.4 L715.3,509.4 L715.6,507.4 L715.9,505.4 L716.2,503.4 L716.5,501.5 L716.8,499.5 L717.1,497.5 L717.3,495.5 L717.6,493.6 L717.9,491.6 L718.2,489.6 L718.5,487.6 L718.8,485.6 L719.1,483.7 L719.4,481.7 L719.7,479.7 L719.9,477.7 L720.2,475.7 L720.5,473.8 L720.8,471.8 L721.1,469.8 L721.4,467.8 L721.7,465.8 L722.0,463.9 L722.2,461.9 L722.5,459.9 L722.8,457.9 L723.1,455.9 L723.4,454.0 L723.7,452.0 L724.0,450.0 L724.2,448.0 L724.5,446.0 L724.8,444.1 L725.1,442.1 L725.4,440.1 L725.7,438.1 L725.9,436.2 L726.2,434.2 L726.5,432.2 L726.8,430.2 L727.1,428.2 L727.4,426.3 L727.6,424.3 L727.9,422.3 L728.2,420.3 L728.5,418.3 L728.8,416.4 L729.0,414.4 L729.3,412.4 L729.6,410.4 L729.9,408.4 L730.2,406.4 L730.4,404.5 L730.7,402.5 L731.0,400.5 L731.3,398.5 L731.6,396.5 L731.8,394.6 L732.1,392.6 L732.4,390.6 L732.7,388.6 L733.0,386.6 L733.2,384.7 L733.5,382.7 L733.8,380.7 L734.1,378.7 L734.4,376.7 L734.6,374.8 L734.9,372.8 L735.2,370.8 L735.5,368.8 L735.7,366.8 L736.0,364.9 L736.3,362.9 L736.6,360.9 L736.8,358.9 L737.1,356.9 L737.4,355.0 L737.7,353.0 L738.0,351.0 L738.2,349.0 L738.5,347.0 L738.8,345.1 L739.1,343.1 L739.3,341.1 L739.6,339.1 L739.9,337.1 L740.2,335.1 L740.4,333.2 L740.7,331.2 L741.0,329.2 L741.3,327.2 L741.5,325.2 L741.8,323.3 L742.1,321.3 L742.4,319.3 L742.7,317.3 L742.9,315.3 L743.2,313.4 L743.5,311.4 L743.8,309.4 L744.0,307.4 L744.3,305.4 L744.6,303.5 L744.9,301.5 L745.2,299.5 L745.4,297.5 L745.7,295.5 L746.0,293.6 L746.3,291.6 L746.5,289.6 L746.8,287.6 L747.1,285.6 L747.4,283.7 L747.7,281.7 L747.9,279.7 L748.2,277.7 L748.5,275.7 L748.8,273.7 L749.1,271.8 L749.4,269.8 L749.6,267.8 L749.9,265.8 L750.2,263.8 L750.5,261.9 L750.8,259.9 L751.1,257.9 L751.3,255.9 L751.6,254.0 L751.9,252.0 L752.2,250.0 L752.5,248.0 L752.8,246.0 L753.0,244.1 L753.3,242.1 L753.6,240.1 L753.9,238.1 L754.2,236.1 L754.5,234.2 L754.8,232.2 L755.1,230.2 L755.3,228.2 L755.6,226.2 L755.9,224.3 L756.2,222.3 L756.5,220.3 L756.8,218.3 L757.1,216.3 L757.4,214.4 L757.7,212.4 L758.0,210.4 L758.3,208.4 L758.6,206.5 L758.9,204.5 L759.2,202.5 L759.5,200.5 L759.7,198.5 L760.0,196.6 L760.3,194.6 L760.6,192.6 L760.9,190.6 L761.2,188.7 L761.5,186.7 L761.8,184.7 L762.1,182.7 L762.4,180.7 L762.7,178.8 L763.0,176.8 L763.4,174.8 L763.7,172.8 L764.0,170.9 L764.3,168.9 L764.6,166.9 L764.9,164.9 L765.2,163.0 L765.5,161.0 L765.8,159.0 L766.1,157.0 L766.4,155.1 L766.7,153.1 L767.0,151.1 L767.4,149.1 L767.7,147.2 L768.0,145.2 L768.3,143.2 L768.6,141.2 L768.9,139.3 L769.2,137.3 L769.6,135.3 L769.9,133.3 L770.2,131.4 L770.5,129.4 L770.8,127.4 L771.2,125.4 L771.5,123.5 L771.8,121.5 L772.1,119.5 L772.5,117.5 L772.8,115.6 L773.1,113.6 L773.5,111.6 L773.9,109.7 L774.3,107.7 L774.7,105.7 L775.1,103.8 L775.6,101.8 L776.0,99.9 L776.6,98.0 L777.1,96.0 L777.7,94.1 L778.3,92.2 L779.0,90.4 L779.7,88.5 L780.5,86.7 L781.4,84.8 L782.3,83.1 L783.2,81.3 L784.3,79.6 L785.4,77.9 L786.6,76.3 L787.8,74.8 L789.1,73.2 L790.5,71.8 L792.0,70.4 L793.5,69.2 L795.1,67.9 L796.7,66.8 L798.4,65.8 L800.2,64.8 L802.0,63.9 L803.8,63.1 L805.7,62.4 L807.6,61.8 L809.5,61.3 L811.5,61.0 L813.5,60.7 L815.5,60.7 L817.5,60.9 L819.5,61.3 L821.4,61.8 L823.2,62.6 L824.9,63.6 L826.6,64.8 L828.1,66.0 L829.6,67.4 L831.0,68.8 L832.3,70.4 L833.5,71.9 L834.7,73.6 L835.8,75.2 L836.8,76.9 L837.8,78.7 L838.8,80.4 L839.8,82.2 L840.7,83.9 L841.6,85.7 L842.5,87.5 L843.4,89.3 L844.2,91.1 L845.1,92.9 L845.9,94.7 L846.7,96.6 L847.5,98.4 L848.3,100.2 L849.1,102.1 L849.9,103.9 L850.6,105.8 L851.4,107.6 L852.1,109.5 L852.8,111.4 L853.5,113.2 L854.2,115.1 L854.8,117.0 L855.5,118.9 L856.1,120.8 L856.8,122.7 L857.4,124.6 L858.0,126.5 L858.6,128.4 L859.1,130.3 L859.7,132.2 L860.2,134.2 L860.8,136.1 L861.3,138.0 L861.8,140.0 L862.3,141.9 L862.8,143.8 L863.3,145.8 L863.8,147.7 L864.2,149.7 L864.7,151.6 L865.1,153.6 L865.5,155.5 L865.9,157.5 L866.3,159.4 L866.7,161.4 L867.1,163.4 L867.5,165.3 L867.8,167.3 L868.2,169.3 L868.5,171.2 L868.9,173.2 L869.2,175.2 L869.5,177.2 L869.8,179.1 L870.1,181.1 L870.4,183.1 L870.7,185.1 L871.0,187.1 L871.2,189.0 L871.5,191.0 L871.7,193.0 L872.0,195.0 L872.2,197.0 L872.4,199.0 L872.7,200.9 L872.9,202.9 L873.1,204.9 L873.3,206.9 L873.5,208.9 L873.7,210.9 L873.9,212.9 L874.0,214.9 L874.2,216.9 L874.4,218.9 L874.6,220.9 L874.7,222.8 L874.9,224.8 L875.0,226.8 L875.2,228.8 L875.3,230.8 L875.5,232.8 L875.6,234.8 L875.7,236.8 L875.8,238.8 L876.0,240.8 L876.1,242.8 L876.2,244.8 L876.3,246.8 L876.4,248.8 L876.5,250.8 L876.7,252.8 L876.8,254.8 L876.9,256.8 L877.0,258.8 L877.1,260.8 L877.2,262.8 L877.3,264.8 L877.4,266.8 L877.5,268.8 L877.6,270.8 L877.6,272.8 L877.7,274.8 L877.8,276.8 L877.9,278.8 L878.0,280.8 L878.1,282.8 L878.2,284.7 L878.3,286.7 L878.4,288.7 L878.5,290.7 L878.6,292.7 L878.7,294.7 L878.8,296.7 L878.9,298.7 L879.0,300.7 L879.1,302.7 L879.2,304.7 L879.3,306.7 L879.4,308.7 L879.6,310.7 L879.7,312.7 L879.8,314.7 L879.9,316.7 L880.0,318.7 L880.1,320.7 L880.3,322.7 L880.4,324.7 L880.5,326.7 L880.6,328.7 L880.8,330.7 L880.9,332.7 L881.0,334.7 L881.2,336.7 L881.3,338.7 L881.4,340.7 L881.6,342.7 L881.7,344.6 L881.8,346.6 L882.0,348.6 L882.1,350.6 L882.3,352.6 L882.4,354.6 L882.5,356.6 L882.7,358.6 L882.8,360.6 L883.0,362.6 L883.1,364.6 L883.3,366.6 L883.4,368.6 L883.6,370.6 L883.7,372.6 L883.9,374.6 L884.0,376.6 L884.2,378.6 L884.3,380.5 L884.5,382.5 L884.6,384.5 L884.8,386.5 L884.9,388.5 L885.1,390.5 L885.3,392.5 L885.4,394.5 L885.6,396.5 L885.7,398.5 L885.9,400.5 L886.1,402.5 L886.2,404.5 L886.4,406.5 L886.6,408.5 L886.7,410.5 L886.9,412.4 L887.0,414.4 L887.2,416.4 L887.4,418.4 L887.5,420.4 L887.7,422.4 L887.9,424.4 L888.0,426.4 L888.2,428.4 L888.4,430.4 L888.5,432.4 L888.7,434.4 L888.9,436.4 L889.0,438.4 L889.2,440.4 L889.4,442.3 L889.5,444.3 L889.7,446.3 L889.9,448.3 L890.0,450.3 L890.2,452.3 L890.4,454.3 L890.5,456.3 L890.7,458.3 L890.9,460.3 L891.1,462.3 L891.2,464.3 L891.4,466.3 L891.6,468.3 L891.7,470.2 L891.9,472.2 L892.1,474.2 L892.2,476.2 L892.4,478.2 L892.6,480.2 L892.7,482.2 L892.9,484.2 L893.0,486.2 L893.2,488.2 L893.4,490.2 L893.5,492.2 L893.7,494.2 L893.9,496.2 L894.0,498.2 L894.2,500.1 L894.3,502.1 L894.5,504.1 L894.7,506.1 L894.8,508.1 L895.0,510.1 L895.1,512.1 L895.3,514.1 L895.4,516.1 L895.6,518.1 L895.8,520.1 L895.9,522.1 L896.1,524.1 L896.2,526.1 L896.4,528.1 L896.5,530.1 L896.7,532.0 L896.8,534.0 L897.0,536.0 L897.1,538.0 L897.3,540.0 L897.4,542.0 L897.6,544.0 L897.7,546.0 L897.9,548.0 L898.0,550.0 L898.1,552.0 L898.3,554.0 L898.4,556.0 L898.6,558.0 L898.7,560.0 L898.9,562.0 L899.0,564.0 L899.1,566.0 L899.3,568.0 L899.4,569.9 L899.6,571.9 L899.7,573.9 L899.8,575.9 L900.0,577.9 L900.1,579.9 L900.3,581.9 L900.4,583.9 L900.5,585.9 L900.7,587.9 L900.8,589.9 L900.9,591.9 L901.1,593.9 L901.2,595.9 L901.3,597.9 L901.5,599.9 L901.6,601.9 L901.7,603.9 L901.9,605.9 L902.0,607.9 L902.1,609.9 L902.3,611.9 L902.4,613.8 L902.5,615.8 L902.7,617.8 L902.8,619.8 L902.9,621.8 L903.1,623.8 L903.2,625.8 L903.3,627.8 L903.4,629.8 L903.6,631.8 L903.7,633.8 L903.8,635.8 L904.0,637.8 L904.1,639.8 L904.2,641.8 L904.3,643.8 L904.5,645.8 L904.6,647.8 L904.7,649.8 L904.9,651.8 L905.0,653.8 L905.1,655.8 L905.2,657.8 L905.4,659.8 L905.5,661.7 L905.6,663.7 L905.7,665.7 L905.9,667.7 L906.0,669.7 L906.1,671.7 L906.2,673.7 L906.4,675.7 L906.5,677.7 L906.6,679.7 L906.7,681.7 L906.9,683.7 L907.0,685.7 L907.1,687.7 L907.3,689.7 L907.4,691.7 L907.5,693.7 L907.6,695.7 L907.8,697.7 L907.9,699.7 L908.0,701.7 L908.1,703.7 L908.3,705.7 L908.4,707.7 L908.5,709.7 L908.6,711.6 L908.8,713.6 L908.9,715.6 L909.0,717.6 L909.1,719.6 L909.3,721.6 L909.4,723.6 L909.5,725.6 L909.6,727.6 L909.8,729.6 L909.9,731.6 L910.0,733.6 L910.1,735.6 L910.3,737.6 L910.4,739.6 L910.5,741.6 L910.6,743.6 L910.8,745.6 L910.9,747.6 L911.0,749.6 L911.2,751.6 L911.3,753.6 L911.4,755.6 L911.5,757.6 L911.7,759.6 L911.8,761.5 L911.9,763.5 L912.1,765.5 L912.2,767.5 L912.3,769.5 L912.4,771.5 L912.6,773.5 L912.7,775.5 L912.8,777.5 L913.0,779.5 L913.1,781.5 L913.2,783.5 L913.4,785.5 L913.5,787.5 L913.6,789.5 L913.8,791.5 L913.9,793.5 L914.0,795.5 L914.2,797.5 L914.3,799.5 L914.4,801.5 L914.6,803.5 L914.7,805.5 L914.8,807.4 L915.0,809.4 L915.1,811.4 L915.2,813.4 L915.4,815.4 L915.5,817.4 L915.7,819.4 L915.8,821.4 L915.9,823.4 L916.1,825.4 L916.2,827.4 L916.4,829.4 L916.5,831.4 L916.6,833.4 L916.8,835.4 L916.9,837.4 L917.1,839.4 L917.2,841.4 L917.3,843.4 L917.5,845.4 L917.6,847.3 L917.8,849.3 L917.9,851.3 L918.1,853.3 L918.2,855.3 L918.4,857.3 L918.5,859.3 L918.7,861.3 L918.8,863.3 L919.0,865.3 L919.1,867.3 L919.3,869.3 L919.4,871.3 L919.6,873.3 L919.7,875.3 L919.9,877.3 L920.0,879.3 L920.2,881.3 L920.3,883.2 L920.5,885.2 L920.7,887.2 L920.8,889.2 L921.0,891.2 L921.1,893.2 L921.3,895.2 L921.5,897.2 L921.6,899.2 L921.8,901.2 L921.9,903.2 L922.1,905.2 L922.3,907.2 L922.4,909.2 L922.6,911.2 L922.8,913.1 L922.9,915.1 L923.1,917.1 L923.3,919.1 L923.4,921.1 L923.6,923.1 L923.8,925.1 L924.0,927.1 L924.1,929.1 L924.3,931.1 L924.5,933.1 L924.6,935.1 L924.8,937.1 L925.0,939.1 L925.2,941.0 L925.4,943.0 L925.5,945.0 L925.7,947.0 L925.9,949.0 L926.1,951.0 L926.3,953.0 L926.4,955.0 L926.6,957.0 L926.8,959.0 L927.0,961.0 L927.2,963.0 L927.4,964.9 L927.6,966.9 L927.8,968.9 L928.0,970.9 L928.2,972.9 L928.3,974.9 L928.5,976.9 L928.7,978.9 L928.9,980.9 L929.1,982.9 L929.3,984.8 L929.5,986.8 L929.7,988.8 L929.9,990.8 L930.1,992.8 L930.3,994.8 L930.5,996.8 L930.8,998.8 L931.0,1000.8 L931.2,1002.8 L931.4,1004.7 L931.6,1006.7 L931.8,1008.7 L932.0,1010.7 L932.2,1012.7 L932.4,1014.7 L932.7,1016.7 L932.9,1018.7 L933.1,1020.7 L933.3,1022.6 L933.5,1024.6 L933.8,1026.6 L934.0,1028.6 L934.2,1030.6 L934.4,1032.6 L934.7,1034.6 L934.9,1036.5 L935.1,1038.5 L935.3,1040.5 L935.6,1042.5 L935.8,1044.5 L936.0,1046.5 L936.3,1048.5 L936.5,1050.5 L936.8,1052.4 L937.0,1054.4 L937.2,1056.4 L937.5,1058.4 L937.7,1060.4 L938.0,1062.4 L938.2,1064.4 L938.4,1066.3 L938.7,1068.3 L938.9,1070.3 L939.2,1072.3 L939.4,1074.3 L939.7,1076.3 L939.9,1078.2 L940.2,1080.2 L940.4,1082.2 L940.7,1084.2 L941.0,1086.2 L941.2,1088.2 L941.5,1090.1 L941.7,1092.1 L942.0,1094.1 L942.3,1096.1 L942.5,1098.1 L942.8,1100.1 L943.0,1102.0 L943.3,1104.0 L943.6,1106.0 L943.9,1108.0 L944.1,1110.0 L944.4,1112.0 L944.7,1113.9 L944.9,1115.9 L945.2,1117.9 L945.5,1119.9 L945.8,1121.9 L946.0,1123.8 L946.3,1125.8 L946.6,1127.8 L946.9,1129.8 L947.2,1131.8 L947.5,1133.7 L947.7,1135.7 L948.0,1137.7 L948.3,1139.7 L948.6,1141.7 L948.9,1143.6 L949.2,1145.6 L949.5,1147.6 L949.8,1149.6 L950.1,1151.5 L950.4,1153.5 L950.7,1155.5 L951.0,1157.5 L951.3,1159.5 L951.6,1161.4 L951.9,1163.4 L952.2,1165.4 L952.5,1167.4 L952.8,1169.3 L953.1,1171.3 L953.4,1173.3 L953.7,1175.3 L954.0,1177.2 L954.3,1179.2 L954.6,1181.2 L954.9,1183.2 L955.2,1185.1 L955.6,1187.1 L955.9,1189.1 L956.2,1191.1 L956.5,1193.0 L956.8,1195.0 L957.2,1197.0 L957.5,1199.0 L957.8,1200.9 L958.1,1202.9 L958.4,1204.9 L958.8,1206.9 L959.1,1208.8 L959.4,1210.8 L959.8,1212.8 L960.1,1214.8 L960.5,1216.7 L960.8,1218.7 L961.2,1220.7 L961.6,1222.6 L962.0,1224.6 L962.4,1226.5 L962.8,1228.5 L963.3,1230.4 L963.8,1232.4 L964.2,1234.3 L964.8,1236.2 L965.3,1238.2 L965.9,1240.1 L966.5,1242.0 L967.1,1243.9 L967.7,1245.8 L968.4,1247.7 L969.1,1249.5 L969.9,1251.4 L970.6,1253.2 L971.5,1255.1 L972.3,1256.9 L973.2,1258.7 L974.2,1260.4 L975.1,1262.2 L976.1,1263.9 L977.2,1265.6 L978.3,1267.3 L979.4,1268.9 L980.6,1270.6 L981.8,1272.2 L983.0,1273.7 L984.3,1275.3 L985.6,1276.8 L987.0,1278.2 L988.4,1279.7 L989.8,1281.0 L991.3,1282.4 L992.8,1283.7 L994.4,1285.0 L995.9,1286.2 L997.6,1287.3 L999.2,1288.4 L1000.9,1289.5 L1002.7,1290.5 L1004.4,1291.4 L1006.2,1292.3 L1008.1,1293.1 L1009.9,1293.9 L1011.8,1294.6 L1013.7,1295.2 L1015.6,1295.8 L1017.5,1296.3 L1019.5,1296.7 L1021.5,1297.1 L1023.4,1297.4 L1025.4,1297.7 L1027.4,1297.9 L1029.4,1298.1 L1031.4,1298.2 L1033.4,1298.3 L1035.4,1298.3 L1037.4,1298.2 L1039.4,1298.1 L1041.4,1298.0 L1043.4,1297.8 L1045.4,1297.5 L1046.0,1297.4" fill="none" stroke="#53b848" stroke-width="12" stroke-linecap="round" stroke-linejoin="round" stroke-dasharray="21.0 34.25" stroke-dashoffset="1.5"/>
<path d="M1045.9,1298.8 L1047.8,1299.0 L1049.8,1299.3 L1051.8,1299.5 L1053.8,1299.7 L1055.8,1299.9 L1057.8,1300.0 L1059.8,1300.2 L1061.8,1300.4 L1063.8,1300.6 L1065.8,1300.7 L1067.8,1300.9 L1069.8,1301.0 L1071.8,1301.2 L1073.7,1301.3 L1075.7,1301.4 L1077.7,1301.6 L1079.7,1301.7 L1081.7,1301.8 L1083.7,1301.9 L1085.7,1302.0 L1087.7,1302.1 L1089.7,1302.2 L1091.7,1302.3 L1093.7,1302.3 L1095.7,1302.4 L1097.7,1302.5 L1099.7,1302.6 L1101.7,1302.6 L1103.7,1302.7 L1105.7,1302.7 L1107.7,1302.8 L1109.7,1302.8 L1111.7,1302.9 L1113.7,1302.9 L1115.7,1302.9 L1117.7,1302.9 L1119.7,1303.0 L1121.7,1303.0 L1123.7,1303.0 L1125.7,1303.0 L1127.7,1303.0 L1129.7,1303.0 L1131.7,1303.0 L1133.7,1303.0 L1135.7,1303.0 L1137.7,1303.0 L1139.7,1303.0 L1141.7,1303.0 L1143.7,1303.0 L1145.7,1303.0 L1147.7,1303.0 L1149.7,1302.9 L1151.7,1302.9 L1153.7,1302.9 L1155.7,1302.9 L1157.7,1302.8 L1159.7,1302.8 L1161.7,1302.8 L1163.7,1302.7 L1165.7,1302.7 L1167.7,1302.6 L1169.7,1302.6 L1171.7,1302.6 L1173.7,1302.5 L1175.7,1302.5 L1177.7,1302.4 L1179.7,1302.4 L1181.7,1302.3 L1183.7,1302.3 L1185.7,1302.2 L1187.7,1302.2 L1189.7,1302.1 L1191.7,1302.1 L1193.7,1302.0 L1195.7,1302.0 L1197.7,1301.9 L1199.7,1301.9 L1201.7,1301.8 L1203.7,1301.8 L1205.7,1301.7 L1207.7,1301.6 L1209.7,1301.6 L1211.7,1301.5 L1213.7,1301.5 L1215.7,1301.4 L1217.7,1301.4 L1219.7,1301.3 L1221.7,1301.3 L1223.7,1301.2 L1225.7,1301.2 L1227.7,1301.1 L1229.7,1301.1 L1231.7,1301.0 L1233.7,1301.0 L1235.7,1301.0 L1237.7,1300.9 L1239.7,1300.9 L1241.7,1300.8 L1243.7,1300.8 L1245.7,1300.8 L1247.7,1300.7 L1249.7,1300.7 L1251.7,1300.7 L1253.7,1300.6 L1255.7,1300.6 L1257.7,1300.6 L1259.7,1300.5 L1261.7,1300.5 L1263.7,1300.5 L1265.7,1300.5 L1267.7,1300.4 L1269.7,1300.4 L1271.7,1300.4 L1273.7,1300.4 L1275.7,1300.4 L1277.7,1300.4 L1279.7,1300.3 L1281.7,1300.3 L1283.7,1300.3 L1285.7,1300.3 L1287.7,1300.3 L1289.7,1300.3 L1291.7,1300.3 L1293.7,1300.3 L1295.7,1300.3 L1297.7,1300.2 L1299.7,1300.2 L1301.7,1300.2 L1303.7,1300.2 L1305.7,1300.2 L1307.7,1300.2 L1309.7,1300.2 L1311.7,1300.2 L1313.7,1300.2 L1315.7,1300.2 L1317.7,1300.2 L1319.7,1300.2 L1321.7,1300.2 L1323.7,1300.2 L1325.7,1300.3 L1327.7,1300.3 L1329.7,1300.3 L1331.7,1300.3 L1333.7,1300.3 L1335.7,1300.3 L1337.7,1300.3 L1339.7,1300.3 L1341.7,1300.3 L1343.7,1300.3 L1345.7,1300.4 L1347.7,1300.4 L1349.7,1300.4 L1351.7,1300.4 L1353.7,1300.4 L1355.7,1300.4 L1357.7,1300.5 L1359.7,1300.5 L1361.7,1300.5 L1363.7,1300.5 L1365.7,1300.5 L1367.7,1300.6 L1369.7,1300.6 L1371.7,1300.6 L1373.7,1300.6 L1375.7,1300.6 L1377.7,1300.7 L1379.7,1300.7 L1381.7,1300.7 L1383.7,1300.7 L1385.7,1300.8 L1387.7,1300.8 L1389.7,1300.8 L1391.7,1300.9 L1393.7,1300.9 L1395.7,1300.9 L1397.7,1300.9 L1399.7,1301.0 L1401.7,1301.0 L1403.7,1301.0 L1405.7,1301.1 L1407.7,1301.1 L1409.7,1301.1 L1411.7,1301.1 L1413.7,1301.2 L1415.7,1301.2 L1417.7,1301.2 L1419.7,1301.3 L1421.7,1301.3 L1423.7,1301.3 L1425.7,1301.4 L1427.7,1301.4 L1429.7,1301.4 L1431.7,1301.5 L1433.7,1301.5 L1435.7,1301.5 L1437.7,1301.6 L1439.7,1301.6 L1441.7,1301.6 L1443.7,1301.7 L1445.7,1301.7 L1447.7,1301.8 L1449.7,1301.8 L1451.7,1301.8 L1453.7,1301.9 L1455.7,1301.9 L1457.7,1301.9 L1459.7,1302.0 L1461.7,1302.0 L1463.7,1302.1 L1465.7,1302.1 L1467.7,1302.1 L1469.7,1302.2 L1471.7,1302.2 L1473.7,1302.2 L1475.7,1302.3 L1477.7,1302.3 L1479.7,1302.4 L1481.7,1302.4 L1483.7,1302.4 L1485.7,1302.5 L1487.7,1302.5 L1489.7,1302.6 L1491.7,1302.6 L1493.7,1302.6 L1495.7,1302.7 L1497.7,1302.7 L1499.7,1302.8 L1501.7,1302.8 L1503.7,1302.8 L1505.7,1302.9 L1507.7,1302.9 L1509.7,1303.0 L1511.7,1303.0 L1513.7,1303.1 L1515.7,1303.1 L1517.7,1303.1 L1519.7,1303.2 L1521.7,1303.2 L1523.7,1303.3 L1525.7,1303.3 L1527.7,1303.3 L1529.7,1303.4 L1531.7,1303.4 L1533.7,1303.5 L1535.7,1303.5 L1537.7,1303.6 L1539.7,1303.6 L1541.7,1303.6 L1543.7,1303.7 L1545.7,1303.7 L1547.7,1303.8 L1549.7,1303.8 L1551.7,1303.8 L1553.7,1303.9 L1555.7,1303.9 L1557.7,1304.0 L1559.7,1304.0 L1561.7,1304.1 L1563.7,1304.1 L1565.7,1304.1 L1567.6,1304.2 L1569.6,1304.2 L1571.6,1304.3 L1573.6,1304.3 L1575.6,1304.3 L1577.6,1304.4 L1579.6,1304.4 L1581.6,1304.5 L1583.6,1304.5 L1585.6,1304.5 L1587.6,1304.6 L1589.6,1304.6 L1591.6,1304.7 L1593.6,1304.7 L1595.6,1304.7 L1597.6,1304.8 L1599.6,1304.8 L1601.6,1304.9 L1603.6,1304.9 L1605.6,1304.9 L1607.6,1305.0 L1609.6,1305.0 L1611.6,1305.1 L1613.6,1305.1 L1615.6,1305.1 L1617.6,1305.2 L1619.6,1305.2 L1621.6,1305.3 L1623.6,1305.3 L1625.6,1305.3 L1627.6,1305.4 L1629.6,1305.4 L1631.6,1305.4 L1633.6,1305.5 L1635.6,1305.5 L1637.6,1305.5 L1639.6,1305.6 L1641.6,1305.6 L1643.6,1305.7 L1645.6,1305.7 L1647.6,1305.7 L1649.6,1305.8 L1651.6,1305.8 L1653.6,1305.8 L1655.6,1305.9 L1657.6,1305.9 L1659.6,1305.9 L1661.6,1306.0 L1663.6,1306.0 L1665.6,1306.0 L1667.6,1306.1 L1669.6,1306.1 L1671.6,1306.1 L1673.6,1306.1 L1675.6,1306.2 L1677.6,1306.2 L1679.6,1306.2 L1681.6,1306.3 L1683.6,1306.3 L1685.6,1306.3 L1687.6,1306.4 L1689.6,1306.4 L1691.6,1306.4 L1693.6,1306.4 L1695.6,1306.5 L1697.6,1306.5 L1699.6,1306.5 L1701.6,1306.5 L1703.6,1306.6 L1705.6,1306.6 L1707.6,1306.6 L1709.6,1306.6 L1711.6,1306.7 L1713.6,1306.7 L1715.6,1306.7 L1717.6,1306.7 L1719.6,1306.7 L1721.6,1306.8 L1723.6,1306.8 L1725.6,1306.8 L1727.6,1306.8 L1729.6,1306.9 L1731.6,1306.9 L1733.6,1306.9 L1735.6,1306.9 L1737.6,1306.9 L1739.6,1306.9 L1741.6,1307.0 L1743.6,1307.0 L1745.6,1307.0 L1747.6,1307.0 L1749.6,1307.0 L1751.6,1307.0 L1753.6,1307.0 L1755.6,1307.1 L1757.6,1307.1 L1759.6,1307.1 L1761.6,1307.1 L1763.6,1307.1 L1765.6,1307.1 L1767.6,1307.1 L1769.6,1307.1 L1771.6,1307.1 L1773.6,1307.1 L1775.6,1307.1 L1777.6,1307.2 L1779.6,1307.2 L1781.6,1307.2 L1783.6,1307.2 L1785.6,1307.2 L1787.6,1307.2 L1789.6,1307.2 L1791.6,1307.2 L1793.6,1307.2 L1795.6,1307.2 L1797.6,1307.2 L1799.6,1307.2 L1801.6,1307.2 L1803.6,1307.2 L1805.6,1307.2 L1807.6,1307.2 L1809.6,1307.2 L1811.6,1307.2 L1813.6,1307.2 L1815.6,1307.2 L1817.6,1307.1 L1819.6,1307.1 L1821.6,1307.1 L1823.6,1307.1 L1825.6,1307.1 L1827.6,1307.1 L1829.6,1307.1 L1831.6,1307.1 L1833.6,1307.1 L1835.6,1307.1 L1837.6,1307.0 L1839.6,1307.0 L1841.6,1307.0 L1843.6,1307.0 L1845.6,1307.0 L1847.6,1307.0 L1849.6,1306.9 L1851.6,1306.9 L1853.6,1306.9 L1855.6,1306.9 L1857.6,1306.9 L1859.6,1306.8 L1861.6,1306.8 L1863.6,1306.8 L1865.6,1306.8 L1867.6,1306.7 L1869.6,1306.7 L1871.6,1306.7 L1873.6,1306.6 L1875.6,1306.6 L1877.6,1306.6 L1879.6,1306.6 L1881.6,1306.5 L1883.6,1306.5 L1885.6,1306.5 L1887.6,1306.4 L1889.6,1306.4 L1891.6,1306.3 L1893.6,1306.3 L1895.6,1306.3 L1897.6,1306.2 L1899.6,1306.2 L1901.6,1306.2 L1903.6,1306.1 L1905.6,1306.1 L1907.6,1306.0 L1909.6,1306.0 L1911.6,1305.9 L1913.6,1305.9 L1915.6,1305.8 L1917.6,1305.8 L1919.6,1305.7 L1920.6,1305.7" fill="none" stroke="#53b848" stroke-width="12" stroke-linecap="round" stroke-linejoin="round" stroke-dasharray="21.0 34.0" stroke-dashoffset="27.5"/>
<path d="M306.1,1171.9 L306.1,1173.9 L306.2,1175.9 L306.4,1177.9 L306.6,1179.9 L307.0,1181.9 L307.4,1183.8 L307.9,1185.8 L308.5,1187.7 L309.1,1189.6 L309.9,1191.4 L310.7,1193.3 L311.6,1195.0 L312.5,1196.8 L313.6,1198.5 L314.7,1200.2 L315.8,1201.8 L317.1,1203.3 L318.4,1204.8 L319.8,1206.3 L321.3,1207.6 L322.9,1208.9 L324.5,1210.1 L326.1,1211.2 L327.9,1212.1 L329.7,1213.0 L331.5,1213.8 L333.4,1214.5 L335.3,1215.1 L337.2,1215.6 L339.2,1216.1 L341.2,1216.4 L343.1,1216.7 L345.1,1217.0 L347.1,1217.2 L349.1,1217.4 L351.1,1217.5 L353.1,1217.6 L355.1,1217.6 L357.1,1217.6 L359.1,1217.6 L361.1,1217.6 L363.1,1217.6 L365.1,1217.5 L367.1,1217.5 L369.1,1217.4 L371.1,1217.3 L373.1,1217.2 L375.1,1217.1 L377.1,1216.9 L379.1,1216.8 L381.1,1216.6 L383.1,1216.5 L385.0,1216.3 L387.0,1216.1 L389.0,1216.0 L391.0,1215.8 L393.0,1215.6 L395.0,1215.4 L397.0,1215.2 L399.0,1215.0 L401.0,1214.8 L403.0,1214.6 L405.0,1214.4 L406.9,1214.2 L408.9,1214.0 L410.9,1213.9 L412.9,1213.7 L414.9,1213.5 L416.9,1213.3 L418.9,1213.2 L420.9,1213.0 L422.9,1212.8 L424.9,1212.7 L426.9,1212.6 L428.9,1212.5 L430.9,1212.3 L432.9,1212.3 L434.9,1212.2 L436.9,1212.1 L438.9,1212.1 L440.9,1212.0 L442.9,1212.0 L444.9,1212.0 L446.9,1212.0 L448.9,1212.1 L450.9,1212.1 L452.9,1212.2 L454.9,1212.3 L456.9,1212.5 L458.9,1212.6 L460.8,1212.8 L462.8,1213.0 L464.8,1213.2 L466.8,1213.5 L468.8,1213.7 L470.8,1214.0 L472.7,1214.4 L474.7,1214.7 L476.7,1215.1 L478.6,1215.5 L480.6,1215.9 L482.6,1216.3 L484.5,1216.7 L486.5,1217.1 L488.4,1217.5 L490.4,1218.0 L492.3,1218.4 L494.3,1218.8 L496.2,1219.2 L498.2,1219.6 L500.2,1220.0 L502.1,1220.4 L504.1,1220.8 L506.1,1221.1 L508.0,1221.4 L510.0,1221.7 L512.0,1222.0 L514.0,1222.2 L516.0,1222.4 L518.0,1222.5 L520.0,1222.6 L522.0,1222.7 L524.0,1222.7 L526.0,1222.7 L528.0,1222.5 L530.0,1222.4 L531.9,1222.1 L533.9,1221.8 L535.9,1221.5 L537.8,1221.1 L539.8,1220.6 L541.7,1220.0 L543.6,1219.4 L545.5,1218.7 L547.4,1218.0 L549.2,1217.3 L551.0,1216.5 L552.9,1215.6 L554.6,1214.7 L556.4,1213.8 L558.2,1212.8 L559.9,1211.8 L561.6,1210.8 L563.3,1209.7 L565.0,1208.6 L566.6,1207.5 L568.3,1206.4 L569.9,1205.2 L571.5,1204.0 L573.1,1202.8 L574.6,1201.5 L576.2,1200.3 L577.7,1199.0 L579.2,1197.7 L580.7,1196.3 L582.2,1195.0 L583.7,1193.6 L585.1,1192.3 L586.6,1190.9 L588.0,1189.4 L589.4,1188.0 L590.7,1186.6 L592.1,1185.1 L593.4,1183.6 L594.8,1182.1 L596.1,1180.6 L597.4,1179.1 L598.6,1177.5 L599.9,1176.0 L601.1,1174.4 L602.3,1172.8 L603.6,1171.2 L604.7,1169.6 L605.9,1168.0 L607.1,1166.4 L608.2,1164.7 L609.3,1163.1 L610.4,1161.4 L611.5,1159.7 L612.6,1158.0 L613.7,1156.3 L614.7,1154.6 L615.8,1152.9 L616.8,1151.2 L617.8,1149.5 L618.8,1147.8 L619.8,1146.0 L620.7,1144.3 L621.7,1142.5 L622.6,1140.7 L623.6,1139.0 L624.5,1137.2 L625.4,1135.4 L626.3,1133.6 L627.2,1131.8 L628.0,1130.0 L628.9,1128.2 L629.7,1126.4 L630.6,1124.6 L631.4,1122.8 L632.2,1120.9 L633.0,1119.1 L633.8,1117.3 L634.6,1115.4 L635.4,1113.6 L636.2,1111.8 L636.9,1109.9 L637.7,1108.1 L638.5,1106.2 L639.2,1104.3 L639.9,1102.5 L640.7,1100.6 L641.4,1098.8 L642.1,1096.9 L642.8,1095.0 L643.5,1093.2 L644.2,1091.3 L644.9,1089.4 L645.6,1087.5 L646.3,1085.7 L647.0,1083.8 L647.7,1081.9 L648.3,1080.0 L649.0,1078.1 L649.7,1076.2 L650.3,1074.4 L651.0,1072.5 L651.6,1070.6 L652.3,1068.7 L653.0,1066.8 L653.6,1064.9 L654.2,1063.0 L654.9,1061.1 L655.5,1059.2 L656.1,1057.3 L656.8,1055.4 L657.4,1053.5 L658.0,1051.6 L658.6,1049.7 L659.3,1047.8 L659.9,1045.9 L660.5,1044.0 L661.1,1042.1 L661.7,1040.2 L662.3,1038.3 L662.9,1036.4 L663.5,1034.5 L664.1,1032.6 L664.7,1030.7 L665.3,1028.7 L665.9,1026.8 L666.4,1024.9 L667.0,1023.0 L667.6,1021.1 L668.2,1019.2 L668.8,1017.3 L669.3,1015.3 L669.9,1013.4 L670.5,1011.5 L671.0,1009.6 L671.6,1007.7 L672.1,1005.7 L672.7,1003.8 L673.3,1001.9 L673.8,1000.0 L674.4,998.1 L674.9,996.1 L675.4,994.2 L676.0,992.3 L676.5,990.4 L677.1,988.4 L677.6,986.5 L678.1,984.6 L678.7,982.7 L679.2,980.7 L679.7,978.8 L680.3,976.9 L680.8,974.9 L681.3,973.0 L681.9,971.1 L682.4,969.1 L682.9,967.2 L683.4,965.3 L683.9,963.4 L684.4,961.4 L685.0,959.5 L685.5,957.6 L686.0,955.6 L686.5,953.7 L687.0,951.8 L687.5,949.8 L688.0,947.9 L688.5,945.9 L689.0,944.0 L689.5,942.1 L690.0,940.1 L690.5,938.2 L691.0,936.3 L691.5,934.3 L692.0,932.4 L692.5,930.5 L693.0,928.5 L693.5,926.6 L694.0,924.7 L694.5,922.7 L695.0,920.8 L695.5,918.8 L696.0,916.9 L696.5,915.0 L697.0,913.0 L697.5,911.1 L698.0,909.1 L698.5,907.2 L699.0,905.3 L699.5,903.3 L700.0,901.4 L700.5,899.5 L701.0,897.5 L701.4,895.6 L701.9,893.6 L702.4,891.7 L702.9,889.8 L703.4,887.8 L703.9,885.9 L704.4,883.9 L704.9,882.0 L705.4,880.1 L705.9,878.1 L706.4,876.2 L706.9,874.3 L707.4,872.3 L707.8,870.4 L708.3,868.4 L708.8,866.5 L709.3,864.6 L709.8,862.6 L710.3,860.7 L710.8,858.8 L711.3,856.8 L711.8,854.9 L712.3,852.9 L712.8,851.0 L713.3,849.1 L713.8,847.1 L714.3,845.2 L714.8,843.3 L715.3,841.3 L715.9,839.4 L716.4,837.5 L716.9,835.5 L717.4,833.6 L717.9,831.7 L718.4,829.7 L718.9,827.8 L719.4,825.9 L720.0,823.9 L720.5,822.0 L721.0,820.1 L721.5,818.1 L722.0,816.2 L722.6,814.3 L723.1,812.3 L723.6,810.4 L724.1,808.5 L724.7,806.6 L725.2,804.6 L725.7,802.7 L726.2,800.8 L726.8,798.8 L727.3,796.9 L727.8,795.0 L728.3,793.1 L728.9,791.1 L729.4,789.2 L729.9,787.3 L730.4,785.3 L731.0,783.4 L731.5,781.5 L732.0,779.5 L732.5,777.6 L733.0,775.7 L733.5,773.7 L734.0,771.8 L734.6,769.9 L735.1,767.9 L735.6,766.0 L736.1,764.1 L736.6,762.1 L737.1,760.2 L737.5,758.2 L738.0,756.3 L738.5,754.4 L739.0,752.4 L739.5,750.5 L739.9,748.5 L740.4,746.6 L740.9,744.6 L741.3,742.7 L741.8,740.8 L742.2,738.8 L742.7,736.9 L743.1,734.9 L743.6,733.0 L744.0,731.0 L744.4,729.0 L744.8,727.1 L745.3,725.1 L745.7,723.2 L746.1,721.2 L746.5,719.3 L746.8,717.3 L747.2,715.3 L747.6,713.4 L748.0,711.4 L748.3,709.4 L748.7,707.5 L749.0,705.5 L749.4,703.5 L749.7,701.6 L750.0,699.6 L750.4,697.6 L750.7,695.6 L751.0,693.7 L751.3,691.7 L751.6,689.7 L751.8,687.7 L752.1,685.7 L752.4,683.8 L752.6,681.8 L752.9,679.8 L753.1,677.8 L753.3,675.8 L753.6,673.8 L753.8,671.8 L754.0,669.8 L754.2,667.9 L754.5,665.9 L754.7,663.9 L754.9,661.9 L755.1,659.9 L755.3,657.9 L755.6,655.9 L755.8,653.9 L756.0,652.0 L756.2,650.0 L756.5,648.0 L756.7,646.0 L756.9,644.0 L757.2,642.0 L757.4,640.0 L757.7,638.1 L758.0,636.1 L758.2,634.1 L758.5,632.1 L758.8,630.1 L759.1,628.2 L759.4,626.2 L759.8,624.2 L760.1,622.2 L760.5,620.3 L760.8,618.3 L761.2,616.4 L761.6,614.4 L762.0,612.4 L762.5,610.5 L762.9,608.5 L763.4,606.6 L763.9,604.7 L764.4,602.7 L764.9,600.8 L765.5,598.9 L766.1,597.0 L766.7,595.0 L767.3,593.1 L767.9,591.2 L768.6,589.4 L769.2,587.5 L769.9,585.6 L770.6,583.7 L771.3,581.8 L772.0,580.0 L772.7,578.1 L773.5,576.2 L774.2,574.4 L774.9,572.5 L775.6,570.6 L776.3,568.8 L777.0,566.9 L777.7,565.0 L778.4,563.2 L779.1,561.3 L779.8,559.4 L780.5,557.5 L781.1,555.6 L781.8,553.7 L782.4,551.8 L783.1,550.0 L783.8,548.1 L784.5,546.2 L785.2,544.3 L786.0,542.5 L786.8,540.7 L787.7,538.9 L788.6,537.1 L789.6,535.4 L790.7,533.7 L791.9,532.1 L793.1,530.5 L794.5,529.1 L796.0,527.7 L797.6,526.6 L799.3,525.5 L801.2,524.7 L803.1,524.1 L805.0,523.8 L807.0,523.7 L809.0,524.0 L811.0,524.5 L812.8,525.1 L814.7,525.9 L816.5,526.7 L818.3,527.5 L820.2,528.4 L822.0,529.1 L823.9,529.8 L825.8,530.4 L827.7,531.0 L829.6,531.6 L831.6,532.1 L833.5,532.6 L835.4,533.2 L837.3,533.8 L839.2,534.4 L841.1,535.2 L842.9,536.0 L844.7,536.9 L846.4,537.8 L848.2,538.9 L849.8,540.0 L851.4,541.2 L853.0,542.4 L854.5,543.8 L855.9,545.2 L857.3,546.6 L858.6,548.1 L859.8,549.7 L861.0,551.3 L862.2,552.9 L863.3,554.6 L864.3,556.3 L865.3,558.0 L866.2,559.8 L867.1,561.6 L867.9,563.4 L868.7,565.3 L869.5,567.1 L870.2,569.0 L870.9,570.9 L871.6,572.7 L872.2,574.6 L872.8,576.5 L873.4,578.5 L874.0,580.4 L874.5,582.3 L875.0,584.2 L875.6,586.2 L876.1,588.1 L876.5,590.0 L877.0,592.0 L877.5,593.9 L878.0,595.9 L878.4,597.8 L878.8,599.8 L879.3,601.7 L879.7,603.7 L880.1,605.6 L880.5,607.6 L880.9,609.5 L881.3,611.5 L881.7,613.5 L882.0,615.4 L882.4,617.4 L882.8,619.4 L883.1,621.3 L883.4,623.3 L883.8,625.3 L884.1,627.3 L884.4,629.2 L884.7,631.2 L885.0,633.2 L885.3,635.2 L885.6,637.1 L885.9,639.1 L886.2,641.1 L886.5,643.1 L886.8,645.1 L887.0,647.0 L887.3,649.0 L887.6,651.0 L887.8,653.0 L888.1,655.0 L888.3,657.0 L888.6,658.9 L888.8,660.9 L889.1,662.9 L889.3,664.9 L889.5,666.9 L889.8,668.9 L890.0,670.9 L890.2,672.8 L890.5,674.8 L890.7,676.8 L890.9,678.8 L891.1,680.8 L891.4,682.8 L891.6,684.8 L891.8,686.8 L892.0,688.7 L892.3,690.7 L892.5,692.7 L892.7,694.7 L893.0,696.7 L893.2,698.7 L893.4,700.7 L893.7,702.7 L893.9,704.6 L894.1,706.6 L894.3,708.6 L894.6,710.6 L894.8,712.6 L895.0,714.6 L895.3,716.6 L895.5,718.5 L895.7,720.5 L896.0,722.5 L896.2,724.5 L896.4,726.5 L896.7,728.5 L896.9,730.5 L897.1,732.4 L897.4,734.4 L897.6,736.4 L897.8,738.4 L898.1,740.4 L898.3,742.4 L898.5,744.4 L898.8,746.4 L899.0,748.3 L899.2,750.3 L899.5,752.3 L899.7,754.3 L899.9,756.3 L900.1,758.3 L900.4,760.3 L900.6,762.2 L900.8,764.2 L901.1,766.2 L901.3,768.2 L901.5,770.2 L901.7,772.2 L902.0,774.2 L902.2,776.2 L902.4,778.1 L902.6,780.1 L902.9,782.1 L903.1,784.1 L903.3,786.1 L903.5,788.1 L903.8,790.1 L904.0,792.1 L904.2,794.0 L904.4,796.0 L904.6,798.0 L904.8,800.0 L905.1,802.0 L905.3,804.0 L905.5,806.0 L905.7,808.0 L905.9,810.0 L906.1,811.9 L906.3,813.9 L906.5,815.9 L906.7,817.9 L907.0,819.9 L907.2,821.9 L907.4,823.9 L907.6,825.9 L907.8,827.9 L908.0,829.8 L908.2,831.8 L908.4,833.8 L908.6,835.8 L908.8,837.8 L908.9,839.8 L909.1,841.8 L909.3,843.8 L909.5,845.8 L909.7,847.8 L909.9,849.8 L910.1,851.7 L910.3,853.7 L910.4,855.7 L910.6,857.7 L910.8,859.7 L911.0,861.7 L911.1,863.7 L911.3,865.7 L911.5,867.7 L911.7,869.7 L911.8,871.7 L912.0,873.7 L912.2,875.7 L912.3,877.6 L912.5,879.6 L912.7,881.6 L912.8,883.6 L913.0,885.6 L913.2,887.6 L913.3,889.6 L913.5,891.6 L913.6,893.6 L913.8,895.6 L913.9,897.6 L914.1,899.6 L914.3,901.6 L914.4,903.6 L914.6,905.6 L914.7,907.6 L914.9,909.5 L915.0,911.5 L915.2,913.5 L915.3,915.5 L915.5,917.5 L915.6,919.5 L915.8,921.5 L915.9,923.5 L916.1,925.5 L916.2,927.5 L916.4,929.5 L916.5,931.5 L916.7,933.5 L916.8,935.5 L917.0,937.5 L917.1,939.5 L917.3,941.5 L917.4,943.4 L917.6,945.4 L917.8,947.4 L917.9,949.4 L918.1,951.4 L918.2,953.4 L918.4,955.4 L918.5,957.4 L918.7,959.4 L918.8,961.4 L919.0,963.4 L919.1,965.4 L919.3,967.4 L919.4,969.4 L919.6,971.4 L919.8,973.4 L919.9,975.4 L920.1,977.3 L920.2,979.3 L920.4,981.3 L920.6,983.3 L920.7,985.3 L920.9,987.3 L921.0,989.3 L921.2,991.3 L921.4,993.3 L921.5,995.3 L921.7,997.3 L921.9,999.3 L922.1,1001.3 L922.2,1003.3 L922.4,1005.2 L922.6,1007.2 L922.8,1009.2 L922.9,1011.2 L923.1,1013.2 L923.3,1015.2 L923.5,1017.2 L923.7,1019.2 L923.8,1021.2 L924.0,1023.2 L924.2,1025.2 L924.4,1027.2 L924.6,1029.1 L924.8,1031.1 L925.0,1033.1 L925.2,1035.1 L925.4,1037.1 L925.6,1039.1 L925.8,1041.1 L926.0,1043.1 L926.2,1045.1 L926.4,1047.1 L926.6,1049.0 L926.8,1051.0 L927.1,1053.0 L927.3,1055.0 L927.5,1057.0 L927.7,1059.0 L928.0,1061.0 L928.2,1063.0 L928.4,1064.9 L928.6,1066.9 L928.9,1068.9 L929.1,1070.9 L929.4,1072.9 L929.6,1074.9 L929.8,1076.9 L930.1,1078.8 L930.3,1080.8 L930.6,1082.8 L930.8,1084.8 L931.1,1086.8 L931.4,1088.8 L931.6,1090.7 L931.9,1092.7 L932.1,1094.7 L932.4,1096.7 L932.7,1098.7 L933.0,1100.7 L933.2,1102.6 L933.5,1104.6 L933.8,1106.6 L934.1,1108.6 L934.4,1110.6 L934.6,1112.5 L934.9,1114.5 L935.2,1116.5 L935.5,1118.5 L935.8,1120.4 L936.1,1122.4 L936.4,1124.4 L936.7,1126.4 L937.1,1128.4 L937.4,1130.3 L937.7,1132.3 L938.0,1134.3 L938.3,1136.3 L938.6,1138.2 L939.0,1140.2 L939.3,1142.2 L939.6,1144.1 L940.0,1146.1 L940.3,1148.1 L940.7,1150.1 L941.0,1152.0 L941.3,1154.0 L941.7,1156.0 L942.0,1157.9 L942.4,1159.9 L942.8,1161.9 L943.1,1163.8 L943.5,1165.8 L943.9,1167.8 L944.2,1169.7 L944.6,1171.7 L945.0,1173.7 L945.4,1175.6 L945.7,1177.6 L946.1,1179.6 L946.5,1181.5 L946.9,1183.5 L947.3,1185.4 L947.7,1187.4 L948.1,1189.4 L948.5,1191.3 L948.9,1193.3 L949.3,1195.2 L949.8,1197.2 L950.2,1199.1 L950.6,1201.1 L951.0,1203.0 L951.5,1205.0 L951.9,1207.0 L952.3,1208.9 L952.8,1210.9 L953.2,1212.8 L953.6,1214.8 L954.1,1216.7 L954.6,1218.7 L955.0,1220.6 L955.5,1222.5 L956.0,1224.5 L956.5,1226.4 L957.0,1228.3 L957.5,1230.3 L958.1,1232.2 L958.7,1234.1 L959.3,1236.0 L959.9,1237.9 L960.5,1239.8 L961.2,1241.7 L961.8,1243.6 L962.5,1245.5 L963.3,1247.3 L964.0,1249.2 L964.8,1251.0 L965.7,1252.8 L966.5,1254.6 L967.4,1256.4 L968.3,1258.2 L969.3,1260.0 L970.3,1261.7 L971.3,1263.4 L972.4,1265.1 L973.5,1266.8 L974.6,1268.4 L975.8,1270.1 L977.0,1271.7 L978.2,1273.2 L979.5,1274.8 L980.8,1276.3 L982.1,1277.8 L983.4,1279.3 L984.8,1280.7 L986.3,1282.1 L987.7,1283.5 L989.2,1284.8 L990.7,1286.1 L992.3,1287.4 L993.9,1288.6 L995.5,1289.7 L997.2,1290.9 L998.8,1291.9 L1000.6,1293.0 L1002.3,1293.9 L1004.1,1294.9 L1005.9,1295.7 L1007.7,1296.5 L1009.6,1297.2 L1011.5,1297.9 L1013.4,1298.5 L1015.3,1299.1 L1017.2,1299.7 L1019.2,1300.1 L1021.1,1300.6 L1023.1,1301.0 L1025.0,1301.3 L1027.0,1301.6 L1029.0,1301.9 L1031.0,1302.2 L1033.0,1302.4 L1034.9,1302.6 L1036.9,1302.8 L1038.9,1303.0 L1040.9,1303.2 L1042.9,1303.3 L1044.9,1303.4 L1046.9,1303.5 L1048.9,1303.7 L1050.9,1303.8 L1052.9,1303.9 L1054.9,1304.0 L1056.9,1304.1 L1058.9,1304.2 L1060.9,1304.3 L1062.9,1304.4 L1064.9,1304.5 L1066.9,1304.6 L1068.9,1304.7 L1070.9,1304.7 L1072.9,1304.8 L1074.9,1304.9 L1076.9,1305.0 L1078.9,1305.1 L1080.9,1305.2 L1082.9,1305.2 L1084.9,1305.3 L1086.9,1305.4 L1088.9,1305.4 L1090.9,1305.5 L1092.9,1305.6 L1094.9,1305.6 L1096.9,1305.7 L1098.9,1305.8 L1100.9,1305.8 L1102.9,1305.9 L1104.9,1305.9 L1106.9,1306.0 L1108.9,1306.0 L1110.9,1306.1 L1112.9,1306.1 L1114.9,1306.2 L1116.9,1306.2 L1118.9,1306.3 L1120.9,1306.3 L1122.9,1306.3 L1124.9,1306.4 L1126.9,1306.4 L1128.9,1306.5 L1130.9,1306.5 L1132.9,1306.5 L1134.9,1306.5 L1136.9,1306.6 L1138.9,1306.6 L1140.8,1306.6 L1142.8,1306.7 L1144.8,1306.7 L1146.8,1306.7 L1148.8,1306.7 L1150.8,1306.7 L1152.8,1306.8 L1154.8,1306.8 L1156.8,1306.8 L1158.8,1306.8 L1160.8,1306.8 L1162.8,1306.8 L1164.8,1306.8 L1166.8,1306.9 L1168.8,1306.9 L1170.8,1306.9 L1172.8,1306.9 L1174.8,1306.9 L1176.8,1306.9 L1178.8,1306.9 L1180.8,1306.9 L1182.8,1306.9 L1184.8,1306.9 L1186.8,1306.9 L1188.8,1306.9 L1190.8,1306.9 L1192.8,1306.9 L1194.8,1306.9 L1196.8,1306.9 L1198.8,1306.9 L1200.8,1306.9 L1202.8,1306.9 L1204.8,1306.9 L1206.8,1306.9 L1208.8,1306.9 L1210.8,1306.9 L1212.8,1306.9 L1214.8,1306.8 L1216.8,1306.8 L1218.8,1306.8 L1220.8,1306.8 L1222.8,1306.8 L1224.8,1306.8 L1226.8,1306.8 L1228.8,1306.8 L1230.8,1306.8 L1232.8,1306.7 L1234.8,1306.7 L1236.8,1306.7 L1238.8,1306.7 L1240.8,1306.7 L1242.8,1306.7 L1244.8,1306.7 L1246.8,1306.6 L1248.8,1306.6 L1250.8,1306.6 L1252.8,1306.6 L1254.8,1306.6 L1256.8,1306.6 L1258.8,1306.6 L1260.8,1306.5 L1262.8,1306.5 L1264.8,1306.5 L1266.8,1306.5 L1268.8,1306.5 L1270.8,1306.5 L1272.8,1306.4 L1274.8,1306.4 L1276.8,1306.4 L1278.8,1306.4 L1280.8,1306.4 L1282.8,1306.4 L1284.8,1306.4 L1286.8,1306.3 L1288.8,1306.3 L1290.8,1306.3 L1292.8,1306.3 L1294.8,1306.3 L1296.8,1306.3 L1298.8,1306.2 L1300.8,1306.2 L1302.8,1306.2 L1304.8,1306.2 L1306.8,1306.2 L1308.8,1306.2 L1310.8,1306.2 L1312.8,1306.1 L1314.8,1306.1 L1316.8,1306.1 L1318.8,1306.1 L1320.8,1306.1 L1322.8,1306.1 L1324.8,1306.0 L1326.8,1306.0 L1328.8,1306.0 L1330.8,1306.0 L1332.8,1306.0 L1334.8,1306.0 L1336.8,1306.0 L1338.8,1305.9 L1340.8,1305.9 L1342.8,1305.9 L1344.8,1305.9 L1346.8,1305.9 L1348.8,1305.9 L1350.8,1305.8 L1352.8,1305.8 L1354.8,1305.8 L1356.8,1305.8 L1358.8,1305.8 L1360.8,1305.8 L1362.8,1305.8 L1364.8,1305.7 L1366.8,1305.7 L1368.8,1305.7 L1370.8,1305.7 L1372.8,1305.7 L1374.8,1305.7 L1376.8,1305.6 L1378.8,1305.6 L1380.8,1305.6 L1382.8,1305.6 L1384.8,1305.6 L1386.8,1305.6 L1388.8,1305.5 L1390.8,1305.5 L1392.8,1305.5 L1394.8,1305.5 L1396.8,1305.5 L1398.8,1305.5 L1400.8,1305.5 L1402.8,1305.4 L1404.8,1305.4 L1406.8,1305.4 L1408.8,1305.4 L1410.8,1305.4 L1412.8,1305.4 L1414.8,1305.3 L1416.8,1305.3 L1418.8,1305.3 L1420.8,1305.3 L1422.8,1305.3 L1424.8,1305.3 L1426.8,1305.3 L1428.8,1305.2 L1430.8,1305.2 L1432.8,1305.2 L1434.8,1305.2 L1436.8,1305.2 L1438.8,1305.2 L1440.8,1305.1 L1442.8,1305.1 L1444.8,1305.1 L1446.8,1305.1 L1448.8,1305.1 L1450.8,1305.1 L1452.8,1305.0 L1454.8,1305.0 L1456.8,1305.0 L1458.8,1305.0 L1460.8,1305.0 L1462.8,1305.0 L1464.8,1305.0 L1466.8,1304.9 L1468.8,1304.9 L1470.8,1304.9 L1472.8,1304.9 L1474.8,1304.9 L1476.8,1304.9 L1478.8,1304.8 L1480.8,1304.8 L1482.8,1304.8 L1484.8,1304.8 L1486.8,1304.8 L1488.8,1304.8 L1490.8,1304.8 L1492.8,1304.7 L1494.8,1304.7 L1496.8,1304.7 L1498.8,1304.7 L1500.8,1304.7 L1502.8,1304.7 L1504.8,1304.6 L1506.8,1304.6 L1508.8,1304.6 L1510.8,1304.6 L1512.8,1304.6 L1514.8,1304.6 L1516.8,1304.6 L1518.8,1304.5 L1520.8,1304.5 L1522.8,1304.5 L1524.8,1304.5 L1526.8,1304.5 L1528.8,1304.5 L1530.8,1304.4 L1532.8,1304.4 L1534.8,1304.4 L1536.8,1304.4 L1538.8,1304.4 L1540.8,1304.4 L1542.8,1304.4 L1544.8,1304.3 L1546.8,1304.3 L1548.8,1304.3 L1550.8,1304.3 L1552.8,1304.3 L1554.8,1304.3 L1556.8,1304.3 L1558.8,1304.2 L1560.8,1304.2 L1562.8,1304.2 L1564.8,1304.2 L1566.8,1304.2 L1568.8,1304.2 L1570.8,1304.1 L1572.8,1304.1 L1574.8,1304.1 L1576.8,1304.1 L1578.8,1304.1 L1580.8,1304.1 L1582.8,1304.1 L1584.8,1304.0 L1586.8,1304.0 L1588.8,1304.0 L1590.8,1304.0 L1592.8,1304.0 L1594.8,1304.0 L1596.8,1304.0 L1598.8,1303.9 L1600.8,1303.9 L1602.8,1303.9 L1604.8,1303.9 L1606.8,1303.9 L1608.8,1303.9 L1610.8,1303.9 L1612.8,1303.8 L1614.8,1303.8 L1616.8,1303.8 L1618.8,1303.8 L1620.8,1303.8 L1622.8,1303.8 L1624.8,1303.8 L1626.8,1303.7 L1628.8,1303.7 L1630.8,1303.7 L1632.8,1303.7 L1634.8,1303.7 L1636.8,1303.7 L1638.8,1303.7 L1640.8,1303.6 L1642.8,1303.6 L1644.8,1303.6 L1646.8,1303.6 L1648.8,1303.6 L1650.8,1303.6 L1652.8,1303.6 L1654.8,1303.5 L1656.8,1303.5 L1658.8,1303.5 L1660.8,1303.5 L1662.8,1303.5 L1664.8,1303.5 L1666.8,1303.5 L1668.8,1303.4 L1670.8,1303.4 L1672.8,1303.4 L1674.8,1303.4 L1676.8,1303.4 L1678.8,1303.4 L1680.8,1303.4 L1682.8,1303.3 L1684.8,1303.3 L1686.8,1303.3 L1688.8,1303.3 L1690.8,1303.3 L1692.8,1303.3 L1694.8,1303.3 L1696.8,1303.3 L1698.8,1303.2 L1700.8,1303.2 L1702.8,1303.2 L1704.8,1303.2 L1706.8,1303.2 L1708.8,1303.2 L1710.8,1303.2 L1712.8,1303.1 L1714.8,1303.1 L1716.8,1303.1 L1718.8,1303.1 L1720.8,1303.1 L1722.8,1303.1 L1724.8,1303.1 L1726.8,1303.1 L1728.8,1303.0 L1730.8,1303.0 L1732.8,1303.0 L1734.8,1303.0 L1736.8,1303.0 L1738.8,1303.0 L1740.8,1303.0 L1742.8,1302.9 L1744.8,1302.9 L1746.8,1302.9 L1748.8,1302.9 L1750.8,1302.9 L1752.8,1302.9 L1754.8,1302.9 L1756.8,1302.9 L1758.8,1302.8 L1760.8,1302.8 L1762.8,1302.8 L1764.8,1302.8 L1766.8,1302.8 L1768.8,1302.8 L1770.8,1302.8 L1772.8,1302.8 L1774.8,1302.7 L1776.8,1302.7 L1778.8,1302.7 L1780.8,1302.7 L1782.8,1302.7 L1784.8,1302.7 L1786.8,1302.7 L1788.8,1302.7 L1790.8,1302.7 L1792.8,1302.6 L1794.8,1302.6 L1796.8,1302.6 L1798.8,1302.6 L1800.8,1302.6 L1802.8,1302.6 L1804.8,1302.6 L1806.8,1302.6 L1808.8,1302.5 L1810.8,1302.5 L1812.8,1302.5 L1814.8,1302.5 L1816.8,1302.5 L1818.8,1302.5 L1820.8,1302.5 L1822.8,1302.5 L1824.8,1302.5 L1826.8,1302.4 L1828.8,1302.4 L1830.8,1302.4 L1832.8,1302.4 L1834.8,1302.4 L1836.8,1302.4 L1838.8,1302.4 L1840.8,1302.4 L1842.8,1302.4 L1844.8,1302.3 L1846.8,1302.3 L1848.8,1302.3 L1850.8,1302.3 L1852.8,1302.3 L1854.8,1302.3 L1856.8,1302.3 L1858.8,1302.3 L1860.8,1302.3 L1862.8,1302.2 L1864.8,1302.2 L1866.8,1302.2 L1868.8,1302.2 L1870.8,1302.2 L1872.8,1302.2 L1874.8,1302.2 L1876.8,1302.2 L1878.8,1302.2 L1880.8,1302.2 L1882.8,1302.1 L1884.8,1302.1 L1886.8,1302.1 L1888.8,1302.1 L1890.8,1302.1 L1892.8,1302.1 L1894.8,1302.1 L1896.8,1302.1 L1898.8,1302.1 L1900.8,1302.1 L1902.8,1302.0 L1904.8,1302.0 L1906.8,1302.0 L1908.8,1302.0 L1910.8,1302.0 L1912.8,1302.0 L1914.8,1302.0 L1916.8,1302.0 L1918.8,1302.0 L1920.8,1302.0 L1921.0,1302.0" fill="none" stroke="#0a0c08" stroke-width="13.5" stroke-linecap="round" stroke-linejoin="round"/>
<path d="M306.6,1155.8 L306.7,1157.8 L306.9,1159.8 L307.2,1161.8 L307.5,1163.7 L307.9,1165.7 L308.3,1167.7 L308.8,1169.6 L309.4,1171.5 L310.0,1173.4 L310.6,1175.3 L311.3,1177.2 L312.1,1179.0 L312.9,1180.9 L313.8,1182.7 L314.7,1184.5 L315.6,1186.2 L316.6,1187.9 L317.6,1189.7 L318.7,1191.3 L319.9,1193.0 L321.0,1194.6 L322.3,1196.2 L323.5,1197.7 L324.8,1199.3 L326.2,1200.7 L327.6,1202.2 L329.0,1203.6 L330.5,1204.9 L332.0,1206.2 L333.5,1207.5 L335.1,1208.7 L336.8,1209.8 L338.4,1210.9 L340.1,1212.0 L341.9,1212.9 L343.7,1213.8 L345.5,1214.7 L347.4,1215.4 L349.2,1216.1 L351.1,1216.7 L353.1,1217.3 L355.0,1217.7 L357.0,1218.2 L358.9,1218.5 L360.9,1218.8 L362.9,1219.1 L364.9,1219.2 L366.9,1219.4 L368.9,1219.5 L370.9,1219.5 L372.9,1219.6 L374.9,1219.5 L376.9,1219.5 L378.9,1219.4 L380.9,1219.3 L382.9,1219.1 L384.9,1218.9 L386.8,1218.7 L388.8,1218.5 L390.8,1218.3 L392.8,1218.0 L394.8,1217.7 L396.8,1217.5 L398.7,1217.2 L400.7,1216.9 L402.7,1216.5 L404.7,1216.2 L406.6,1215.9 L408.6,1215.5 L410.6,1215.2 L412.5,1214.9 L414.5,1214.5 L416.5,1214.2 L418.5,1213.9 L420.4,1213.5 L422.4,1213.2 L424.4,1212.9 L426.4,1212.6 L428.3,1212.3 L430.3,1212.0 L432.3,1211.8 L434.3,1211.5 L436.3,1211.3 L438.3,1211.1 L440.3,1210.9 L442.2,1210.7 L444.2,1210.6 L446.2,1210.5 L448.2,1210.4 L450.2,1210.3 L452.2,1210.3 L454.2,1210.2 L456.2,1210.2 L458.2,1210.2 L460.2,1210.2 L462.2,1210.2 L464.2,1210.3 L466.2,1210.3 L468.2,1210.3 L470.2,1210.4 L472.2,1210.5 L474.2,1210.5 L476.2,1210.6 L478.2,1210.7 L480.2,1210.8 L482.2,1210.8 L484.2,1210.9 L486.2,1211.0 L488.2,1211.0 L490.2,1211.1 L492.2,1211.2 L494.2,1211.2 L496.2,1211.2 L498.2,1211.3 L500.2,1211.3 L502.2,1211.3 L504.2,1211.3 L506.2,1211.2 L508.2,1211.2 L510.2,1211.1 L512.2,1211.0 L514.2,1210.8 L516.2,1210.6 L518.2,1210.4 L520.2,1210.1 L522.1,1209.8 L524.1,1209.4 L526.1,1209.0 L528.0,1208.6 L529.9,1208.0 L531.8,1207.4 L533.7,1206.8 L535.6,1206.1 L537.5,1205.4 L539.3,1204.6 L541.1,1203.7 L542.9,1202.8 L544.7,1201.9 L546.4,1200.9 L548.1,1199.9 L549.8,1198.8 L551.5,1197.7 L553.1,1196.6 L554.8,1195.4 L556.4,1194.2 L557.9,1193.0 L559.5,1191.7 L561.0,1190.4 L562.5,1189.1 L564.0,1187.7 L565.5,1186.4 L566.9,1185.0 L568.3,1183.6 L569.7,1182.1 L571.1,1180.7 L572.5,1179.2 L573.8,1177.7 L575.1,1176.3 L576.4,1174.7 L577.7,1173.2 L579.0,1171.7 L580.3,1170.1 L581.5,1168.6 L582.8,1167.0 L584.0,1165.4 L585.2,1163.8 L586.4,1162.2 L587.6,1160.6 L588.7,1159.0 L589.9,1157.3 L591.0,1155.7 L592.2,1154.1 L593.3,1152.4 L594.4,1150.7 L595.5,1149.1 L596.6,1147.4 L597.6,1145.7 L598.7,1144.0 L599.7,1142.3 L600.8,1140.6 L601.8,1138.8 L602.8,1137.1 L603.8,1135.4 L604.8,1133.6 L605.7,1131.9 L606.7,1130.1 L607.6,1128.4 L608.6,1126.6 L609.5,1124.8 L610.4,1123.0 L611.3,1121.3 L612.2,1119.5 L613.1,1117.7 L613.9,1115.9 L614.8,1114.1 L615.7,1112.3 L616.5,1110.4 L617.3,1108.6 L618.1,1106.8 L619.0,1105.0 L619.8,1103.1 L620.5,1101.3 L621.3,1099.5 L622.1,1097.6 L622.9,1095.8 L623.6,1093.9 L624.4,1092.1 L625.1,1090.2 L625.8,1088.3 L626.6,1086.5 L627.3,1084.6 L628.0,1082.7 L628.7,1080.9 L629.4,1079.0 L630.1,1077.1 L630.8,1075.2 L631.4,1073.3 L632.1,1071.5 L632.8,1069.6 L633.4,1067.7 L634.1,1065.8 L634.7,1063.9 L635.3,1062.0 L636.0,1060.1 L636.6,1058.2 L637.2,1056.3 L637.8,1054.4 L638.4,1052.5 L639.1,1050.6 L639.7,1048.7 L640.3,1046.8 L640.8,1044.9 L641.4,1043.0 L642.0,1041.0 L642.6,1039.1 L643.2,1037.2 L643.8,1035.3 L644.3,1033.4 L644.9,1031.5 L645.5,1029.6 L646.0,1027.6 L646.6,1025.7 L647.2,1023.8 L647.7,1021.9 L648.3,1020.0 L648.8,1018.0 L649.4,1016.1 L650.0,1014.2 L650.5,1012.3 L651.1,1010.3 L651.6,1008.4 L652.1,1006.5 L652.7,1004.6 L653.2,1002.7 L653.8,1000.7 L654.3,998.8 L654.9,996.9 L655.4,994.9 L655.9,993.0 L656.5,991.1 L657.0,989.2 L657.6,987.2 L658.1,985.3 L658.6,983.4 L659.2,981.5 L659.7,979.5 L660.2,977.6 L660.7,975.7 L661.3,973.7 L661.8,971.8 L662.3,969.9 L662.8,968.0 L663.4,966.0 L663.9,964.1 L664.4,962.2 L664.9,960.2 L665.5,958.3 L666.0,956.4 L666.5,954.4 L667.0,952.5 L667.5,950.6 L668.0,948.6 L668.6,946.7 L669.1,944.8 L669.6,942.8 L670.1,940.9 L670.6,939.0 L671.1,937.0 L671.6,935.1 L672.1,933.2 L672.6,931.2 L673.2,929.3 L673.7,927.4 L674.2,925.4 L674.7,923.5 L675.2,921.6 L675.7,919.6 L676.2,917.7 L676.7,915.8 L677.2,913.8 L677.7,911.9 L678.2,910.0 L678.7,908.0 L679.2,906.1 L679.7,904.1 L680.2,902.2 L680.7,900.3 L681.2,898.3 L681.7,896.4 L682.2,894.5 L682.7,892.5 L683.2,890.6 L683.7,888.7 L684.2,886.7 L684.7,884.8 L685.2,882.8 L685.7,880.9 L686.2,879.0 L686.7,877.0 L687.2,875.1 L687.7,873.2 L688.2,871.2 L688.7,869.3 L689.2,867.3 L689.7,865.4 L690.2,863.5 L690.7,861.5 L691.2,859.6 L691.7,857.7 L692.2,855.7 L692.7,853.8 L693.2,851.8 L693.7,849.9 L694.2,848.0 L694.7,846.0 L695.1,844.1 L695.6,842.2 L696.1,840.2 L696.6,838.3 L697.1,836.4 L697.6,834.4 L698.1,832.5 L698.6,830.5 L699.1,828.6 L699.6,826.7 L700.1,824.7 L700.6,822.8 L701.1,820.9 L701.6,818.9 L702.1,817.0 L702.6,815.1 L703.1,813.1 L703.6,811.2 L704.1,809.2 L704.7,807.3 L705.2,805.4 L705.7,803.4 L706.2,801.5 L706.7,799.6 L707.2,797.6 L707.7,795.7 L708.2,793.8 L708.7,791.8 L709.2,789.9 L709.7,788.0 L710.2,786.0 L710.7,784.1 L711.2,782.1 L711.7,780.2 L712.2,778.3 L712.7,776.3 L713.2,774.4 L713.7,772.5 L714.2,770.5 L714.7,768.6 L715.3,766.7 L715.8,764.7 L716.3,762.8 L716.8,760.9 L717.3,758.9 L717.8,757.0 L718.3,755.1 L718.8,753.1 L719.3,751.2 L719.8,749.2 L720.3,747.3 L720.8,745.4 L721.3,743.4 L721.8,741.5 L722.3,739.6 L722.8,737.6 L723.3,735.7 L723.8,733.8 L724.3,731.8 L724.8,729.9 L725.3,728.0 L725.8,726.0 L726.3,724.1 L726.8,722.1 L727.3,720.2 L727.8,718.3 L728.3,716.3 L728.8,714.4 L729.3,712.5 L729.8,710.5 L730.3,708.6 L730.8,706.6 L731.3,704.7 L731.7,702.8 L732.2,700.8 L732.7,698.9 L733.2,696.9 L733.7,695.0 L734.2,693.1 L734.7,691.1 L735.2,689.2 L735.7,687.2 L736.1,685.3 L736.6,683.4 L737.1,681.4 L737.6,679.5 L738.1,677.5 L738.6,675.6 L739.1,673.7 L739.6,671.7 L740.1,669.8 L740.6,667.9 L741.1,665.9 L741.6,664.0 L742.1,662.1 L742.7,660.1 L743.2,658.2 L743.8,656.3 L744.3,654.4 L744.9,652.5 L745.5,650.5 L746.1,648.6 L746.7,646.7 L747.3,644.8 L747.9,642.9 L748.6,641.0 L749.2,639.1 L749.9,637.3 L750.6,635.4 L751.3,633.5 L752.0,631.6 L752.8,629.8 L753.5,627.9 L754.3,626.1 L755.1,624.3 L755.9,622.4 L756.7,620.6 L757.6,618.8 L758.5,617.0 L759.3,615.2 L760.3,613.4 L761.2,611.7 L762.2,609.9 L763.1,608.2 L764.2,606.4 L765.2,604.7 L766.2,603.0 L767.3,601.3 L768.4,599.7 L769.5,598.0 L770.7,596.4 L771.8,594.7 L773.0,593.1 L774.2,591.5 L775.4,589.9 L776.5,588.3 L777.7,586.7 L778.9,585.0 L780.0,583.4 L781.2,581.8 L782.4,580.1 L783.5,578.5 L784.7,576.9 L786.0,575.3 L787.3,573.8 L788.6,572.4 L790.2,571.1 L791.9,570.1 L793.8,569.6 L795.7,570.0 L797.4,571.0 L798.9,572.4 L800.3,573.8 L801.6,575.4 L802.8,576.9 L804.0,578.5 L805.2,580.1 L806.4,581.8 L807.5,583.4 L808.6,585.1 L809.6,586.8 L810.6,588.5 L811.6,590.3 L812.6,592.0 L813.5,593.8 L814.4,595.6 L815.3,597.4 L816.2,599.2 L817.0,601.0 L817.8,602.8 L818.6,604.7 L819.3,606.5 L820.1,608.4 L820.8,610.2 L821.5,612.1 L822.2,614.0 L822.8,615.9 L823.5,617.8 L824.1,619.7 L824.7,621.6 L825.3,623.5 L825.8,625.4 L826.4,627.3 L827.0,629.3 L827.5,631.2 L828.0,633.1 L828.5,635.1 L829.0,637.0 L829.5,638.9 L830.0,640.9 L830.5,642.8 L831.0,644.8 L831.5,646.7 L831.9,648.6 L832.4,650.6 L832.9,652.5 L833.3,654.5 L833.8,656.4 L834.2,658.4 L834.7,660.3 L835.2,662.3 L835.6,664.2 L836.1,666.1 L836.6,668.1 L837.1,670.0 L837.5,672.0 L838.0,673.9 L838.5,675.9 L839.0,677.8 L839.5,679.7 L840.1,681.7 L840.6,683.6 L841.1,685.5 L841.6,687.4 L842.2,689.4 L842.7,691.3 L843.3,693.2 L843.8,695.1 L844.4,697.1 L845.0,699.0 L845.5,700.9 L846.1,702.8 L846.7,704.7 L847.3,706.6 L847.8,708.5 L848.4,710.5 L849.0,712.4 L849.6,714.3 L850.2,716.2 L850.8,718.1 L851.4,720.0 L852.0,721.9 L852.6,723.8 L853.2,725.7 L853.8,727.6 L854.4,729.5 L855.0,731.5 L855.6,733.4 L856.2,735.3 L856.8,737.2 L857.4,739.1 L858.0,741.0 L858.6,742.9 L859.2,744.8 L859.8,746.7 L860.4,748.6 L861.0,750.5 L861.5,752.5 L862.1,754.4 L862.7,756.3 L863.3,758.2 L863.9,760.1 L864.4,762.0 L865.0,764.0 L865.5,765.9 L866.1,767.8 L866.6,769.7 L867.2,771.6 L867.7,773.6 L868.3,775.5 L868.8,777.4 L869.3,779.4 L869.8,781.3 L870.3,783.2 L870.8,785.2 L871.3,787.1 L871.8,789.0 L872.3,791.0 L872.8,792.9 L873.2,794.9 L873.7,796.8 L874.2,798.8 L874.6,800.7 L875.1,802.7 L875.5,804.6 L875.9,806.6 L876.4,808.5 L876.8,810.5 L877.2,812.4 L877.6,814.4 L878.0,816.3 L878.4,818.3 L878.9,820.3 L879.2,822.2 L879.6,824.2 L880.0,826.1 L880.4,828.1 L880.8,830.1 L881.2,832.0 L881.5,834.0 L881.9,836.0 L882.3,837.9 L882.6,839.9 L883.0,841.9 L883.3,843.8 L883.7,845.8 L884.0,847.8 L884.3,849.7 L884.7,851.7 L885.0,853.7 L885.3,855.7 L885.7,857.6 L886.0,859.6 L886.3,861.6 L886.6,863.6 L886.9,865.5 L887.2,867.5 L887.5,869.5 L887.8,871.5 L888.1,873.4 L888.4,875.4 L888.7,877.4 L889.0,879.4 L889.3,881.4 L889.6,883.3 L889.9,885.3 L890.2,887.3 L890.5,889.3 L890.7,891.3 L891.0,893.2 L891.3,895.2 L891.6,897.2 L891.8,899.2 L892.1,901.2 L892.4,903.1 L892.6,905.1 L892.9,907.1 L893.2,909.1 L893.4,911.1 L893.7,913.1 L894.0,915.0 L894.2,917.0 L894.5,919.0 L894.7,921.0 L895.0,923.0 L895.3,925.0 L895.5,926.9 L895.8,928.9 L896.0,930.9 L896.3,932.9 L896.5,934.9 L896.8,936.9 L897.0,938.8 L897.3,940.8 L897.5,942.8 L897.8,944.8 L898.0,946.8 L898.3,948.8 L898.5,950.7 L898.8,952.7 L899.1,954.7 L899.3,956.7 L899.6,958.7 L899.8,960.7 L900.1,962.6 L900.3,964.6 L900.6,966.6 L900.8,968.6 L901.1,970.6 L901.4,972.6 L901.6,974.5 L901.9,976.5 L902.1,978.5 L902.4,980.5 L902.6,982.5 L902.9,984.5 L903.2,986.4 L903.4,988.4 L903.7,990.4 L903.9,992.4 L904.2,994.4 L904.5,996.4 L904.7,998.3 L905.0,1000.3 L905.2,1002.3 L905.5,1004.3 L905.8,1006.3 L906.0,1008.3 L906.3,1010.2 L906.6,1012.2 L906.8,1014.2 L907.1,1016.2 L907.4,1018.2 L907.6,1020.2 L907.9,1022.1 L908.2,1024.1 L908.4,1026.1 L908.7,1028.1 L909.0,1030.1 L909.3,1032.0 L909.5,1034.0 L909.8,1036.0 L910.1,1038.0 L910.4,1040.0 L910.6,1041.9 L910.9,1043.9 L911.2,1045.9 L911.5,1047.9 L911.7,1049.9 L912.0,1051.8 L912.3,1053.8 L912.6,1055.8 L912.9,1057.8 L913.2,1059.8 L913.4,1061.7 L913.7,1063.7 L914.0,1065.7 L914.3,1067.7 L914.6,1069.7 L914.9,1071.6 L915.2,1073.6 L915.5,1075.6 L915.8,1077.6 L916.0,1079.6 L916.3,1081.5 L916.6,1083.5 L916.9,1085.5 L917.2,1087.5 L917.5,1089.4 L917.8,1091.4 L918.1,1093.4 L918.4,1095.4 L918.7,1097.4 L919.0,1099.3 L919.3,1101.3 L919.6,1103.3 L920.0,1105.3 L920.3,1107.2 L920.6,1109.2 L920.9,1111.2 L921.2,1113.2 L921.5,1115.1 L921.8,1117.1 L922.1,1119.1 L922.5,1121.1 L922.8,1123.0 L923.1,1125.0 L923.4,1127.0 L923.7,1129.0 L924.1,1130.9 L924.4,1132.9 L924.7,1134.9 L925.1,1136.9 L925.4,1138.8 L925.7,1140.8 L926.0,1142.8 L926.4,1144.7 L926.7,1146.7 L927.1,1148.7 L927.4,1150.7 L927.7,1152.6 L928.1,1154.6 L928.4,1156.6 L928.8,1158.5 L929.1,1160.5 L929.5,1162.5 L929.8,1164.4 L930.2,1166.4 L930.6,1168.4 L930.9,1170.3 L931.3,1172.3 L931.7,1174.3 L932.1,1176.2 L932.4,1178.2 L932.8,1180.2 L933.2,1182.1 L933.6,1184.1 L934.0,1186.0 L934.4,1188.0 L934.8,1190.0 L935.3,1191.9 L935.7,1193.9 L936.1,1195.8 L936.5,1197.8 L937.0,1199.7 L937.4,1201.7 L937.9,1203.6 L938.3,1205.6 L938.8,1207.5 L939.3,1209.5 L939.7,1211.4 L940.2,1213.3 L940.7,1215.3 L941.2,1217.2 L941.7,1219.2 L942.2,1221.1 L942.7,1223.0 L943.3,1225.0 L943.8,1226.9 L944.3,1228.8 L944.9,1230.7 L945.4,1232.7 L946.0,1234.6 L946.6,1236.5 L947.1,1238.4 L947.7,1240.3 L948.3,1242.2 L948.9,1244.1 L949.6,1246.0 L950.2,1247.9 L950.8,1249.8 L951.5,1251.7 L952.2,1253.6 L952.9,1255.4 L953.7,1257.3 L954.5,1259.1 L955.3,1261.0 L956.1,1262.8 L957.0,1264.6 L957.9,1266.3 L958.9,1268.1 L959.9,1269.8 L961.0,1271.5 L962.1,1273.2 L963.2,1274.8 L964.4,1276.4 L965.7,1278.0 L967.0,1279.5 L968.3,1281.0 L969.7,1282.4 L971.2,1283.8 L972.7,1285.1 L974.2,1286.4 L975.8,1287.7 L977.4,1288.8 L979.0,1290.0 L980.7,1291.1 L982.3,1292.2 L984.1,1293.2 L985.8,1294.2 L987.6,1295.1 L989.3,1296.0 L991.2,1296.9 L993.0,1297.7 L994.8,1298.5 L996.7,1299.3 L998.5,1300.0 L1000.4,1300.7 L1002.3,1301.3 L1004.2,1301.9 L1006.1,1302.5 L1008.1,1303.0 L1010.0,1303.5 L1011.9,1304.0 L1013.9,1304.4 L1015.9,1304.8 L1017.8,1305.1 L1019.8,1305.5 L1021.8,1305.8 L1023.8,1306.1 L1025.7,1306.3 L1027.7,1306.5 L1029.7,1306.7 L1031.7,1306.9 L1033.7,1307.1 L1035.7,1307.2 L1037.7,1307.4 L1039.7,1307.5 L1041.7,1307.6 L1043.7,1307.6 L1045.7,1307.7 L1047.7,1307.8 L1049.7,1307.8 L1051.7,1307.8 L1053.7,1307.9 L1055.7,1307.9 L1057.7,1307.9 L1059.7,1308.0 L1061.7,1308.0 L1063.7,1308.0 L1065.7,1308.0 L1067.7,1308.1 L1069.7,1308.1 L1071.7,1308.1 L1073.7,1308.1 L1075.7,1308.1 L1077.7,1308.2 L1079.7,1308.2 L1081.7,1308.2 L1083.7,1308.2 L1085.7,1308.2 L1087.7,1308.3 L1089.7,1308.3 L1091.7,1308.3 L1093.7,1308.3 L1095.7,1308.3 L1097.7,1308.4 L1099.7,1308.4 L1101.7,1308.4 L1103.7,1308.4 L1105.7,1308.4 L1107.7,1308.4 L1109.7,1308.5 L1111.7,1308.5 L1113.7,1308.5 L1115.7,1308.5 L1117.7,1308.5 L1119.7,1308.5 L1121.7,1308.5 L1123.7,1308.6 L1125.7,1308.6 L1127.7,1308.6 L1129.7,1308.6 L1131.7,1308.6 L1133.7,1308.6 L1135.7,1308.6 L1137.7,1308.6 L1139.7,1308.6 L1141.7,1308.7 L1143.7,1308.7 L1145.7,1308.7 L1147.7,1308.7 L1149.7,1308.7 L1151.7,1308.7 L1153.7,1308.7 L1155.7,1308.7 L1157.7,1308.7 L1159.7,1308.7 L1161.7,1308.7 L1163.7,1308.8 L1165.7,1308.8 L1167.7,1308.8 L1169.7,1308.8 L1171.7,1308.8 L1173.7,1308.8 L1175.7,1308.8 L1177.7,1308.8 L1179.7,1308.8 L1181.7,1308.8 L1183.7,1308.8 L1185.7,1308.8 L1187.7,1308.8 L1189.7,1308.8 L1191.7,1308.8 L1193.7,1308.8 L1195.7,1308.8 L1197.7,1308.8 L1199.7,1308.8 L1201.7,1308.8 L1203.7,1308.8 L1205.7,1308.8 L1207.7,1308.8 L1209.7,1308.9 L1211.7,1308.9 L1213.7,1308.9 L1215.7,1308.9 L1217.7,1308.9 L1219.7,1308.9 L1221.7,1308.9 L1223.7,1308.9 L1225.7,1308.9 L1227.7,1308.9 L1229.7,1308.9 L1231.7,1308.8 L1233.7,1308.8 L1235.7,1308.8 L1237.7,1308.8 L1239.7,1308.8 L1241.7,1308.8 L1243.7,1308.8 L1245.7,1308.8 L1247.7,1308.8 L1249.7,1308.8 L1251.7,1308.8 L1253.7,1308.8 L1255.7,1308.8 L1257.7,1308.8 L1259.7,1308.8 L1261.7,1308.8 L1263.7,1308.8 L1265.7,1308.8 L1267.7,1308.8 L1269.7,1308.8 L1271.7,1308.8 L1273.7,1308.8 L1275.7,1308.8 L1277.7,1308.8 L1279.7,1308.8 L1281.7,1308.8 L1283.7,1308.7 L1285.7,1308.7 L1287.7,1308.7 L1289.7,1308.7 L1291.7,1308.7 L1293.7,1308.7 L1295.7,1308.7 L1297.7,1308.7 L1299.7,1308.7 L1301.7,1308.7 L1303.7,1308.7 L1305.7,1308.7 L1307.7,1308.7 L1309.7,1308.6 L1311.7,1308.6 L1313.7,1308.6 L1315.7,1308.6 L1317.7,1308.6 L1319.7,1308.6 L1321.7,1308.6 L1323.7,1308.6 L1325.7,1308.6 L1327.7,1308.6 L1329.7,1308.6 L1331.7,1308.5 L1333.7,1308.5 L1335.7,1308.5 L1337.7,1308.5 L1339.7,1308.5 L1341.7,1308.5 L1343.7,1308.5 L1345.7,1308.5 L1347.7,1308.5 L1349.7,1308.4 L1351.7,1308.4 L1353.7,1308.4 L1355.7,1308.4 L1357.7,1308.4 L1359.7,1308.4 L1361.7,1308.4 L1363.7,1308.4 L1365.7,1308.4 L1367.7,1308.3 L1369.7,1308.3 L1371.7,1308.3 L1373.7,1308.3 L1375.7,1308.3 L1377.7,1308.3 L1379.7,1308.3 L1381.7,1308.2 L1383.7,1308.2 L1385.7,1308.2 L1387.7,1308.2 L1389.7,1308.2 L1391.7,1308.2 L1393.7,1308.2 L1395.7,1308.2 L1397.7,1308.1 L1399.7,1308.1 L1401.7,1308.1 L1403.7,1308.1 L1405.7,1308.1 L1407.7,1308.1 L1409.7,1308.1 L1411.7,1308.0 L1413.7,1308.0 L1415.7,1308.0 L1417.7,1308.0 L1419.7,1308.0 L1421.7,1308.0 L1423.7,1308.0 L1425.7,1307.9 L1427.7,1307.9 L1429.7,1307.9 L1431.7,1307.9 L1433.7,1307.9 L1435.7,1307.9 L1437.7,1307.9 L1439.7,1307.8 L1441.7,1307.8 L1443.7,1307.8 L1445.7,1307.8 L1447.7,1307.8 L1449.7,1307.8 L1451.7,1307.7 L1453.7,1307.7 L1455.7,1307.7 L1457.7,1307.7 L1459.7,1307.7 L1461.7,1307.7 L1463.7,1307.6 L1465.7,1307.6 L1467.7,1307.6 L1469.7,1307.6 L1471.7,1307.6 L1473.7,1307.6 L1475.7,1307.6 L1477.7,1307.5 L1479.7,1307.5 L1481.7,1307.5 L1483.7,1307.5 L1485.7,1307.5 L1487.7,1307.5 L1489.7,1307.4 L1491.7,1307.4 L1493.7,1307.4 L1495.7,1307.4 L1497.7,1307.4 L1499.7,1307.4 L1501.7,1307.3 L1503.7,1307.3 L1505.7,1307.3 L1507.7,1307.3 L1509.7,1307.3 L1511.7,1307.3 L1513.7,1307.2 L1515.7,1307.2 L1517.7,1307.2 L1519.7,1307.2 L1521.7,1307.2 L1523.7,1307.2 L1525.7,1307.1 L1527.7,1307.1 L1529.7,1307.1 L1531.7,1307.1 L1533.7,1307.1 L1535.7,1307.0 L1537.7,1307.0 L1539.7,1307.0 L1541.7,1307.0 L1543.7,1307.0 L1545.7,1307.0 L1547.7,1306.9 L1549.7,1306.9 L1551.7,1306.9 L1553.7,1306.9 L1555.7,1306.9 L1557.7,1306.9 L1559.7,1306.8 L1561.7,1306.8 L1563.7,1306.8 L1565.7,1306.8 L1567.7,1306.8 L1569.7,1306.8 L1571.7,1306.7 L1573.7,1306.7 L1575.7,1306.7 L1577.7,1306.7 L1579.7,1306.7 L1581.7,1306.6 L1583.7,1306.6 L1585.7,1306.6 L1587.7,1306.6 L1589.7,1306.6 L1591.7,1306.6 L1593.7,1306.5 L1595.7,1306.5 L1597.7,1306.5 L1599.7,1306.5 L1601.7,1306.5 L1603.7,1306.5 L1605.7,1306.4 L1607.7,1306.4 L1609.7,1306.4 L1611.7,1306.4 L1613.7,1306.4 L1615.7,1306.4 L1617.7,1306.3 L1619.7,1306.3 L1621.7,1306.3 L1623.7,1306.3 L1625.7,1306.3 L1627.7,1306.3 L1629.7,1306.2 L1631.7,1306.2 L1633.7,1306.2 L1635.7,1306.2 L1637.7,1306.2 L1639.7,1306.2 L1641.7,1306.1 L1643.7,1306.1 L1645.7,1306.1 L1647.7,1306.1 L1649.7,1306.1 L1651.7,1306.1 L1653.7,1306.0 L1655.7,1306.0 L1657.7,1306.0 L1659.7,1306.0 L1661.7,1306.0 L1663.7,1306.0 L1665.7,1305.9 L1667.7,1305.9 L1669.7,1305.9 L1671.7,1305.9 L1673.7,1305.9 L1675.7,1305.9 L1677.7,1305.8 L1679.7,1305.8 L1681.7,1305.8 L1683.7,1305.8 L1685.7,1305.8 L1687.7,1305.8 L1689.7,1305.7 L1691.7,1305.7 L1693.7,1305.7 L1695.7,1305.7 L1697.7,1305.7 L1699.7,1305.7 L1701.7,1305.7 L1703.7,1305.6 L1705.7,1305.6 L1707.7,1305.6 L1709.7,1305.6 L1711.7,1305.6 L1713.7,1305.6 L1715.7,1305.5 L1717.7,1305.5 L1719.7,1305.5 L1721.7,1305.5 L1723.7,1305.5 L1725.7,1305.5 L1727.7,1305.5 L1729.7,1305.4 L1731.7,1305.4 L1733.7,1305.4 L1735.7,1305.4 L1737.7,1305.4 L1739.7,1305.4 L1741.7,1305.4 L1743.7,1305.3 L1745.7,1305.3 L1747.7,1305.3 L1749.7,1305.3 L1751.7,1305.3 L1753.7,1305.3 L1755.7,1305.3 L1757.7,1305.2 L1759.7,1305.2 L1761.7,1305.2 L1763.7,1305.2 L1765.7,1305.2 L1767.7,1305.2 L1769.7,1305.2 L1771.7,1305.2 L1773.7,1305.1 L1775.7,1305.1 L1777.7,1305.1 L1779.7,1305.1 L1781.7,1305.1 L1783.7,1305.1 L1785.7,1305.1 L1787.7,1305.1 L1789.7,1305.0 L1791.7,1305.0 L1793.7,1305.0 L1795.7,1305.0 L1797.7,1305.0 L1799.7,1305.0 L1801.7,1305.0 L1803.7,1305.0 L1805.7,1304.9 L1807.7,1304.9 L1809.7,1304.9 L1811.7,1304.9 L1813.7,1304.9 L1815.7,1304.9 L1817.7,1304.9 L1819.7,1304.9 L1821.7,1304.9 L1823.7,1304.9 L1825.7,1304.8 L1827.7,1304.8 L1829.7,1304.8 L1831.7,1304.8 L1833.7,1304.8 L1835.7,1304.8 L1837.7,1304.8 L1839.7,1304.8 L1841.7,1304.8 L1843.7,1304.8 L1845.7,1304.7 L1847.7,1304.7 L1849.7,1304.7 L1851.7,1304.7 L1853.7,1304.7 L1855.7,1304.7 L1857.7,1304.7 L1859.7,1304.7 L1861.7,1304.7 L1863.7,1304.7 L1865.7,1304.7 L1867.7,1304.7 L1869.7,1304.6 L1871.7,1304.6 L1873.7,1304.6 L1875.7,1304.6 L1877.7,1304.6 L1879.7,1304.6 L1881.7,1304.6 L1883.7,1304.6 L1885.7,1304.6 L1887.7,1304.6 L1889.7,1304.6 L1891.7,1304.6 L1893.7,1304.6 L1895.7,1304.6 L1897.7,1304.6 L1899.7,1304.6 L1901.7,1304.6 L1903.7,1304.5 L1905.7,1304.5 L1907.7,1304.5 L1909.7,1304.5 L1911.7,1304.5 L1913.7,1304.5 L1915.7,1304.5 L1917.7,1304.5 L1919.7,1304.5 L1921.0,1304.5" fill="none" stroke="#30408c" stroke-width="13.5" stroke-linecap="round" stroke-linejoin="round"/>
<path d="M306.5,1164.7 L306.5,1166.7 L306.7,1168.7 L307.0,1170.7 L307.3,1172.7 L307.8,1174.6 L308.3,1176.6 L308.9,1178.5 L309.5,1180.4 L310.3,1182.2 L311.1,1184.0 L312.0,1185.8 L312.9,1187.6 L313.9,1189.3 L315.0,1191.0 L316.2,1192.6 L317.4,1194.2 L318.6,1195.8 L319.9,1197.3 L321.3,1198.8 L322.7,1200.2 L324.2,1201.5 L325.7,1202.9 L327.3,1204.1 L328.8,1205.3 L330.5,1206.5 L332.2,1207.5 L333.9,1208.6 L335.6,1209.5 L337.4,1210.4 L339.2,1211.2 L341.1,1212.0 L343.0,1212.7 L344.9,1213.3 L346.8,1213.8 L348.8,1214.3 L350.7,1214.7 L352.7,1215.1 L354.7,1215.3 L356.7,1215.6 L358.6,1215.7 L360.6,1215.8 L362.6,1215.9 L364.6,1215.9 L366.6,1215.9 L368.6,1215.9 L370.6,1215.8 L372.6,1215.6 L374.6,1215.5 L376.6,1215.3 L378.6,1215.1 L380.6,1214.9 L382.6,1214.6 L384.6,1214.4 L386.5,1214.1 L388.5,1213.8 L390.5,1213.5 L392.5,1213.2 L394.5,1212.9 L396.4,1212.6 L398.4,1212.3 L400.4,1212.0 L402.4,1211.7 L404.3,1211.4 L406.3,1211.1 L408.3,1210.8 L410.3,1210.5 L412.3,1210.3 L414.2,1210.0 L416.2,1209.8 L418.2,1209.6 L420.2,1209.4 L422.2,1209.2 L424.2,1209.1 L426.2,1209.0 L428.2,1208.9 L430.2,1208.8 L432.2,1208.8 L434.2,1208.7 L436.2,1208.7 L438.2,1208.7 L440.2,1208.7 L442.2,1208.7 L444.2,1208.8 L446.2,1208.9 L448.2,1208.9 L450.2,1209.0 L452.2,1209.2 L454.2,1209.3 L456.2,1209.4 L458.2,1209.5 L460.2,1209.7 L462.2,1209.9 L464.1,1210.0 L466.1,1210.2 L468.1,1210.4 L470.1,1210.6 L472.1,1210.8 L474.1,1211.0 L476.1,1211.2 L478.1,1211.4 L480.1,1211.6 L482.1,1211.8 L484.1,1212.0 L486.0,1212.2 L488.0,1212.4 L490.0,1212.6 L492.0,1212.8 L494.0,1213.0 L496.0,1213.2 L498.0,1213.4 L500.0,1213.6 L502.0,1213.8 L504.0,1213.9 L506.0,1214.1 L507.9,1214.2 L509.9,1214.4 L511.9,1214.5 L513.9,1214.6 L515.9,1214.7 L517.9,1214.8 L519.9,1214.9 L521.9,1214.9 L523.9,1214.9 L525.9,1214.9 L527.9,1214.9 L529.9,1214.8 L531.9,1214.7 L533.9,1214.6 L535.9,1214.4 L537.9,1214.1 L539.9,1213.9 L541.8,1213.5 L543.8,1213.1 L545.8,1212.7 L547.7,1212.2 L549.6,1211.6 L551.5,1210.9 L553.3,1210.2 L555.2,1209.4 L557.0,1208.5 L558.8,1207.6 L560.5,1206.6 L562.2,1205.6 L563.9,1204.5 L565.6,1203.4 L567.2,1202.2 L568.8,1201.0 L570.3,1199.8 L571.9,1198.5 L573.4,1197.2 L574.9,1195.8 L576.3,1194.5 L577.7,1193.1 L579.1,1191.6 L580.5,1190.2 L581.9,1188.7 L583.2,1187.2 L584.6,1185.7 L585.9,1184.2 L587.1,1182.7 L588.4,1181.1 L589.7,1179.6 L590.9,1178.0 L592.1,1176.4 L593.3,1174.8 L594.5,1173.2 L595.7,1171.6 L596.9,1170.0 L598.1,1168.4 L599.2,1166.8 L600.4,1165.1 L601.5,1163.5 L602.6,1161.8 L603.7,1160.1 L604.8,1158.5 L605.9,1156.8 L607.0,1155.1 L608.0,1153.4 L609.1,1151.7 L610.1,1150.0 L611.1,1148.3 L612.1,1146.5 L613.2,1144.8 L614.1,1143.1 L615.1,1141.3 L616.1,1139.6 L617.0,1137.8 L618.0,1136.1 L618.9,1134.3 L619.8,1132.5 L620.8,1130.7 L621.7,1129.0 L622.6,1127.2 L623.4,1125.4 L624.3,1123.6 L625.2,1121.8 L626.0,1120.0 L626.9,1118.1 L627.7,1116.3 L628.5,1114.5 L629.3,1112.7 L630.1,1110.8 L630.9,1109.0 L631.7,1107.2 L632.5,1105.3 L633.3,1103.5 L634.0,1101.6 L634.8,1099.8 L635.5,1097.9 L636.3,1096.1 L637.0,1094.2 L637.7,1092.3 L638.4,1090.5 L639.1,1088.6 L639.8,1086.7 L640.5,1084.8 L641.2,1083.0 L641.9,1081.1 L642.6,1079.2 L643.2,1077.3 L643.9,1075.4 L644.6,1073.5 L645.2,1071.6 L645.8,1069.8 L646.5,1067.9 L647.1,1066.0 L647.8,1064.1 L648.4,1062.2 L649.0,1060.3 L649.6,1058.4 L650.2,1056.5 L650.8,1054.5 L651.4,1052.6 L652.0,1050.7 L652.6,1048.8 L653.2,1046.9 L653.8,1045.0 L654.4,1043.1 L655.0,1041.2 L655.5,1039.3 L656.1,1037.3 L656.7,1035.4 L657.3,1033.5 L657.8,1031.6 L658.4,1029.7 L659.0,1027.8 L659.5,1025.8 L660.1,1023.9 L660.7,1022.0 L661.2,1020.1 L661.8,1018.2 L662.4,1016.2 L662.9,1014.3 L663.5,1012.4 L664.0,1010.5 L664.6,1008.6 L665.2,1006.6 L665.7,1004.7 L666.3,1002.8 L666.8,1000.9 L667.4,999.0 L667.9,997.0 L668.5,995.1 L669.0,993.2 L669.6,991.3 L670.1,989.4 L670.7,987.4 L671.2,985.5 L671.8,983.6 L672.3,981.7 L672.9,979.7 L673.4,977.8 L674.0,975.9 L674.5,974.0 L675.1,972.0 L675.6,970.1 L676.2,968.2 L676.7,966.3 L677.3,964.3 L677.8,962.4 L678.3,960.5 L678.9,958.6 L679.4,956.6 L680.0,954.7 L680.5,952.8 L681.0,950.9 L681.6,948.9 L682.1,947.0 L682.7,945.1 L683.2,943.2 L683.7,941.2 L684.3,939.3 L684.8,937.4 L685.3,935.5 L685.9,933.5 L686.4,931.6 L686.9,929.7 L687.5,927.7 L688.0,925.8 L688.5,923.9 L689.0,922.0 L689.6,920.0 L690.1,918.1 L690.6,916.2 L691.1,914.2 L691.7,912.3 L692.2,910.4 L692.7,908.4 L693.2,906.5 L693.8,904.6 L694.3,902.7 L694.8,900.7 L695.3,898.8 L695.8,896.9 L696.4,894.9 L696.9,893.0 L697.4,891.1 L697.9,889.1 L698.4,887.2 L698.9,885.3 L699.4,883.3 L700.0,881.4 L700.5,879.5 L701.0,877.5 L701.5,875.6 L702.0,873.7 L702.5,871.7 L703.0,869.8 L703.5,867.9 L704.0,865.9 L704.5,864.0 L705.0,862.1 L705.5,860.1 L706.0,858.2 L706.5,856.2 L707.0,854.3 L707.5,852.4 L708.0,850.4 L708.5,848.5 L709.0,846.6 L709.5,844.6 L710.0,842.7 L710.5,840.7 L711.0,838.8 L711.5,836.9 L712.0,834.9 L712.5,833.0 L713.0,831.1 L713.5,829.1 L714.0,827.2 L714.4,825.2 L714.9,823.3 L715.4,821.4 L715.9,819.4 L716.4,817.5 L716.9,815.5 L717.3,813.6 L717.8,811.6 L718.3,809.7 L718.8,807.8 L719.3,805.8 L719.7,803.9 L720.2,801.9 L720.7,800.0 L721.2,798.1 L721.6,796.1 L722.1,794.2 L722.6,792.2 L723.1,790.3 L723.5,788.3 L724.0,786.4 L724.5,784.4 L724.9,782.5 L725.4,780.6 L725.9,778.6 L726.3,776.7 L726.8,774.7 L727.3,772.8 L727.7,770.8 L728.2,768.9 L728.6,766.9 L729.1,765.0 L729.5,763.0 L730.0,761.1 L730.5,759.1 L730.9,757.2 L731.4,755.3 L731.8,753.3 L732.3,751.4 L732.7,749.4 L733.2,747.5 L733.6,745.5 L734.1,743.6 L734.5,741.6 L735.0,739.7 L735.4,737.7 L735.9,735.8 L736.3,733.8 L736.7,731.9 L737.2,729.9 L737.6,728.0 L738.1,726.0 L738.5,724.1 L739.0,722.1 L739.4,720.2 L739.9,718.2 L740.3,716.3 L740.8,714.3 L741.2,712.4 L741.7,710.4 L742.1,708.5 L742.6,706.5 L743.0,704.6 L743.5,702.6 L744.0,700.7 L744.4,698.7 L744.9,696.8 L745.4,694.9 L745.8,692.9 L746.3,691.0 L746.8,689.0 L747.2,687.1 L747.7,685.1 L748.2,683.2 L748.7,681.3 L749.2,679.3 L749.7,677.4 L750.2,675.4 L750.6,673.5 L751.1,671.6 L751.6,669.6 L752.2,667.7 L752.7,665.8 L753.2,663.8 L753.7,661.9 L754.2,660.0 L754.7,658.0 L755.3,656.1 L755.8,654.2 L756.3,652.2 L756.9,650.3 L757.4,648.4 L758.0,646.5 L758.5,644.6 L759.1,642.6 L759.7,640.7 L760.2,638.8 L760.8,636.9 L761.4,635.0 L762.0,633.1 L762.6,631.2 L763.2,629.2 L763.8,627.3 L764.4,625.4 L765.0,623.5 L765.6,621.6 L766.3,619.7 L766.9,617.8 L767.5,615.9 L768.2,614.0 L768.8,612.2 L769.5,610.3 L770.2,608.4 L770.8,606.5 L771.5,604.6 L772.2,602.7 L772.9,600.9 L773.6,599.0 L774.3,597.1 L775.0,595.3 L775.7,593.4 L776.5,591.5 L777.2,589.7 L778.0,587.8 L778.7,586.0 L779.5,584.1 L780.2,582.3 L781.0,580.4 L781.8,578.6 L782.6,576.7 L783.4,574.9 L784.2,573.1 L785.0,571.3 L785.8,569.4 L786.7,567.6 L787.5,565.8 L788.4,564.0 L789.2,562.2 L790.1,560.4 L791.0,558.6 L792.0,556.8 L793.0,555.1 L794.1,553.5 L795.4,552.0 L796.9,550.6 L798.6,549.5 L800.4,548.9 L802.4,548.7 L804.4,549.0 L806.3,549.6 L808.2,550.4 L809.9,551.4 L811.6,552.5 L813.2,553.7 L814.7,555.0 L816.1,556.4 L817.4,557.9 L818.7,559.4 L820.0,561.0 L821.2,562.6 L822.3,564.2 L823.4,565.9 L824.6,567.5 L825.7,569.2 L826.7,570.9 L827.8,572.6 L828.9,574.2 L830.1,575.9 L831.2,577.6 L832.3,579.2 L833.4,580.9 L834.5,582.5 L835.7,584.2 L836.8,585.8 L837.9,587.5 L839.1,589.1 L840.2,590.8 L841.3,592.4 L842.5,594.1 L843.6,595.7 L844.7,597.4 L845.8,599.0 L846.9,600.7 L848.0,602.4 L849.1,604.1 L850.2,605.8 L851.2,607.5 L852.2,609.2 L853.3,610.9 L854.3,612.6 L855.3,614.4 L856.2,616.1 L857.1,617.9 L858.1,619.7 L858.9,621.5 L859.8,623.3 L860.6,625.1 L861.4,626.9 L862.2,628.8 L863.0,630.6 L863.7,632.5 L864.4,634.3 L865.1,636.2 L865.8,638.1 L866.4,640.0 L867.1,641.9 L867.7,643.8 L868.3,645.7 L868.8,647.6 L869.4,649.5 L869.9,651.5 L870.5,653.4 L871.0,655.3 L871.5,657.3 L872.0,659.2 L872.4,661.1 L872.9,663.1 L873.4,665.0 L873.8,667.0 L874.2,668.9 L874.7,670.9 L875.1,672.8 L875.5,674.8 L875.9,676.8 L876.3,678.7 L876.7,680.7 L877.1,682.6 L877.4,684.6 L877.8,686.6 L878.2,688.5 L878.6,690.5 L878.9,692.5 L879.3,694.4 L879.6,696.4 L880.0,698.4 L880.3,700.3 L880.7,702.3 L881.0,704.3 L881.4,706.3 L881.7,708.2 L882.0,710.2 L882.4,712.2 L882.7,714.2 L883.0,716.1 L883.3,718.1 L883.6,720.1 L883.9,722.1 L884.2,724.0 L884.5,726.0 L884.8,728.0 L885.1,730.0 L885.4,731.9 L885.7,733.9 L886.0,735.9 L886.3,737.9 L886.6,739.9 L886.9,741.8 L887.1,743.8 L887.4,745.8 L887.7,747.8 L888.0,749.8 L888.2,751.7 L888.5,753.7 L888.7,755.7 L889.0,757.7 L889.3,759.7 L889.5,761.7 L889.8,763.6 L890.0,765.6 L890.3,767.6 L890.5,769.6 L890.7,771.6 L891.0,773.6 L891.2,775.6 L891.5,777.5 L891.7,779.5 L891.9,781.5 L892.2,783.5 L892.4,785.5 L892.6,787.5 L892.9,789.5 L893.1,791.4 L893.3,793.4 L893.5,795.4 L893.7,797.4 L894.0,799.4 L894.2,801.4 L894.4,803.4 L894.6,805.4 L894.8,807.3 L895.1,809.3 L895.3,811.3 L895.5,813.3 L895.7,815.3 L895.9,817.3 L896.1,819.3 L896.3,821.3 L896.5,823.3 L896.7,825.2 L896.9,827.2 L897.2,829.2 L897.4,831.2 L897.6,833.2 L897.8,835.2 L898.0,837.2 L898.2,839.2 L898.4,841.2 L898.6,843.2 L898.8,845.1 L899.0,847.1 L899.2,849.1 L899.4,851.1 L899.6,853.1 L899.8,855.1 L900.0,857.1 L900.2,859.1 L900.4,861.1 L900.7,863.0 L900.9,865.0 L901.1,867.0 L901.3,869.0 L901.5,871.0 L901.7,873.0 L901.9,875.0 L902.1,877.0 L902.3,879.0 L902.5,881.0 L902.7,882.9 L902.9,884.9 L903.1,886.9 L903.3,888.9 L903.5,890.9 L903.7,892.9 L903.9,894.9 L904.2,896.9 L904.4,898.9 L904.6,900.8 L904.8,902.8 L905.0,904.8 L905.2,906.8 L905.4,908.8 L905.6,910.8 L905.8,912.8 L906.0,914.8 L906.2,916.8 L906.4,918.7 L906.7,920.7 L906.9,922.7 L907.1,924.7 L907.3,926.7 L907.5,928.7 L907.7,930.7 L907.9,932.7 L908.1,934.7 L908.4,936.6 L908.6,938.6 L908.8,940.6 L909.0,942.6 L909.2,944.6 L909.4,946.6 L909.7,948.6 L909.9,950.6 L910.1,952.6 L910.3,954.5 L910.5,956.5 L910.7,958.5 L911.0,960.5 L911.2,962.5 L911.4,964.5 L911.6,966.5 L911.9,968.5 L912.1,970.4 L912.3,972.4 L912.5,974.4 L912.8,976.4 L913.0,978.4 L913.2,980.4 L913.4,982.4 L913.7,984.3 L913.9,986.3 L914.1,988.3 L914.4,990.3 L914.6,992.3 L914.8,994.3 L915.1,996.3 L915.3,998.3 L915.5,1000.2 L915.8,1002.2 L916.0,1004.2 L916.2,1006.2 L916.5,1008.2 L916.7,1010.2 L917.0,1012.2 L917.2,1014.1 L917.5,1016.1 L917.7,1018.1 L917.9,1020.1 L918.2,1022.1 L918.4,1024.1 L918.7,1026.0 L918.9,1028.0 L919.2,1030.0 L919.4,1032.0 L919.7,1034.0 L920.0,1036.0 L920.2,1038.0 L920.5,1039.9 L920.7,1041.9 L921.0,1043.9 L921.2,1045.9 L921.5,1047.9 L921.8,1049.9 L922.0,1051.8 L922.3,1053.8 L922.6,1055.8 L922.8,1057.8 L923.1,1059.8 L923.4,1061.7 L923.6,1063.7 L923.9,1065.7 L924.2,1067.7 L924.5,1069.7 L924.7,1071.6 L925.0,1073.6 L925.3,1075.6 L925.6,1077.6 L925.9,1079.6 L926.1,1081.5 L926.4,1083.5 L926.7,1085.5 L927.0,1087.5 L927.3,1089.5 L927.6,1091.4 L927.9,1093.4 L928.2,1095.4 L928.5,1097.4 L928.8,1099.4 L929.1,1101.3 L929.4,1103.3 L929.7,1105.3 L930.0,1107.3 L930.3,1109.2 L930.6,1111.2 L930.9,1113.2 L931.2,1115.2 L931.5,1117.1 L931.8,1119.1 L932.2,1121.1 L932.5,1123.1 L932.8,1125.0 L933.1,1127.0 L933.4,1129.0 L933.8,1131.0 L934.1,1132.9 L934.4,1134.9 L934.7,1136.9 L935.1,1138.9 L935.4,1140.8 L935.7,1142.8 L936.1,1144.8 L936.4,1146.7 L936.8,1148.7 L937.1,1150.7 L937.5,1152.7 L937.8,1154.6 L938.2,1156.6 L938.5,1158.6 L938.9,1160.5 L939.2,1162.5 L939.6,1164.5 L940.0,1166.4 L940.3,1168.4 L940.7,1170.4 L941.1,1172.3 L941.5,1174.3 L941.8,1176.2 L942.2,1178.2 L942.6,1180.2 L943.0,1182.1 L943.4,1184.1 L943.8,1186.1 L944.2,1188.0 L944.6,1190.0 L945.0,1191.9 L945.4,1193.9 L945.9,1195.8 L946.3,1197.8 L946.7,1199.8 L947.1,1201.7 L947.6,1203.7 L948.0,1205.6 L948.4,1207.6 L948.9,1209.5 L949.3,1211.5 L949.8,1213.4 L950.3,1215.4 L950.7,1217.3 L951.2,1219.2 L951.7,1221.2 L952.2,1223.1 L952.7,1225.1 L953.2,1227.0 L953.7,1228.9 L954.3,1230.8 L954.8,1232.8 L955.4,1234.7 L956.0,1236.6 L956.6,1238.5 L957.3,1240.4 L958.0,1242.3 L958.6,1244.1 L959.4,1246.0 L960.1,1247.9 L960.9,1249.7 L961.7,1251.5 L962.5,1253.4 L963.3,1255.2 L964.2,1257.0 L965.1,1258.7 L966.1,1260.5 L967.1,1262.2 L968.1,1264.0 L969.1,1265.7 L970.2,1267.4 L971.3,1269.0 L972.5,1270.7 L973.7,1272.3 L974.9,1273.9 L976.1,1275.4 L977.4,1277.0 L978.7,1278.5 L980.1,1279.9 L981.5,1281.4 L982.9,1282.8 L984.3,1284.2 L985.8,1285.5 L987.4,1286.8 L988.9,1288.0 L990.5,1289.2 L992.1,1290.4 L993.8,1291.5 L995.5,1292.6 L997.2,1293.6 L999.0,1294.5 L1000.8,1295.4 L1002.6,1296.2 L1004.5,1297.0 L1006.3,1297.7 L1008.2,1298.4 L1010.1,1299.0 L1012.0,1299.6 L1013.9,1300.2 L1015.9,1300.7 L1017.8,1301.2 L1019.8,1301.6 L1021.7,1302.0 L1023.7,1302.4 L1025.6,1302.8 L1027.6,1303.1 L1029.6,1303.5 L1031.6,1303.8 L1033.5,1304.1 L1035.5,1304.3 L1037.5,1304.6 L1039.5,1304.8 L1041.5,1305.0 L1043.5,1305.3 L1045.5,1305.5 L1047.4,1305.6 L1049.4,1305.8 L1051.4,1306.0 L1053.4,1306.1 L1055.4,1306.2 L1057.4,1306.4 L1059.4,1306.5 L1061.4,1306.6 L1063.4,1306.7 L1065.4,1306.7 L1067.4,1306.8 L1069.4,1306.9 L1071.4,1306.9 L1073.4,1307.0 L1075.4,1307.0 L1077.4,1307.1 L1079.4,1307.1 L1081.4,1307.1 L1083.4,1307.2 L1085.4,1307.2 L1087.4,1307.2 L1089.4,1307.2 L1091.4,1307.2 L1093.4,1307.2 L1095.4,1307.2 L1097.4,1307.2 L1099.4,1307.2 L1101.4,1307.2 L1103.4,1307.2 L1105.4,1307.2 L1107.4,1307.2 L1109.4,1307.2 L1111.4,1307.2 L1113.4,1307.2 L1115.4,1307.2 L1117.4,1307.2 L1119.4,1307.2 L1121.4,1307.2 L1123.4,1307.2 L1125.4,1307.2 L1127.4,1307.2 L1129.4,1307.3 L1131.4,1307.3 L1133.4,1307.3 L1135.4,1307.3 L1137.4,1307.3 L1139.4,1307.3 L1141.4,1307.3 L1143.4,1307.3 L1145.4,1307.3 L1147.4,1307.3 L1149.4,1307.3 L1151.4,1307.3 L1153.4,1307.3 L1155.4,1307.3 L1157.4,1307.3 L1159.4,1307.3 L1161.4,1307.3 L1163.4,1307.3 L1165.4,1307.3 L1167.4,1307.3 L1169.4,1307.3 L1171.4,1307.3 L1173.4,1307.3 L1175.4,1307.3 L1177.4,1307.3 L1179.4,1307.3 L1181.4,1307.3 L1183.4,1307.3 L1185.4,1307.3 L1187.4,1307.3 L1189.4,1307.3 L1191.4,1307.3 L1193.4,1307.3 L1195.4,1307.3 L1197.4,1307.3 L1199.4,1307.3 L1201.4,1307.3 L1203.4,1307.3 L1205.4,1307.3 L1207.4,1307.3 L1209.4,1307.3 L1211.4,1307.3 L1213.4,1307.2 L1215.4,1307.2 L1217.4,1307.2 L1219.4,1307.2 L1221.4,1307.2 L1223.4,1307.2 L1225.4,1307.2 L1227.4,1307.2 L1229.4,1307.2 L1231.4,1307.2 L1233.4,1307.2 L1235.4,1307.2 L1237.4,1307.2 L1239.4,1307.2 L1241.4,1307.2 L1243.4,1307.2 L1245.4,1307.2 L1247.4,1307.2 L1249.4,1307.2 L1251.4,1307.2 L1253.4,1307.2 L1255.4,1307.2 L1257.4,1307.2 L1259.4,1307.2 L1261.4,1307.2 L1263.4,1307.2 L1265.4,1307.2 L1267.4,1307.2 L1269.4,1307.2 L1271.4,1307.2 L1273.4,1307.2 L1275.4,1307.2 L1277.4,1307.1 L1279.4,1307.1 L1281.4,1307.1 L1283.4,1307.1 L1285.4,1307.1 L1287.4,1307.1 L1289.4,1307.1 L1291.4,1307.1 L1293.4,1307.1 L1295.4,1307.1 L1297.4,1307.1 L1299.4,1307.1 L1301.4,1307.1 L1303.4,1307.1 L1305.4,1307.1 L1307.4,1307.1 L1309.4,1307.1 L1311.4,1307.1 L1313.4,1307.0 L1315.4,1307.0 L1317.4,1307.0 L1319.4,1307.0 L1321.4,1307.0 L1323.4,1307.0 L1325.4,1307.0 L1327.4,1307.0 L1329.4,1307.0 L1331.4,1307.0 L1333.4,1307.0 L1335.4,1307.0 L1337.4,1307.0 L1339.4,1306.9 L1341.4,1306.9 L1343.4,1306.9 L1345.4,1306.9 L1347.4,1306.9 L1349.4,1306.9 L1351.4,1306.9 L1353.4,1306.9 L1355.4,1306.9 L1357.4,1306.9 L1359.4,1306.9 L1361.4,1306.9 L1363.4,1306.8 L1365.4,1306.8 L1367.4,1306.8 L1369.4,1306.8 L1371.4,1306.8 L1373.4,1306.8 L1375.4,1306.8 L1377.4,1306.8 L1379.4,1306.8 L1381.4,1306.8 L1383.4,1306.7 L1385.4,1306.7 L1387.4,1306.7 L1389.4,1306.7 L1391.4,1306.7 L1393.4,1306.7 L1395.4,1306.7 L1397.4,1306.7 L1399.4,1306.7 L1401.4,1306.6 L1403.4,1306.6 L1405.4,1306.6 L1407.4,1306.6 L1409.4,1306.6 L1411.4,1306.6 L1413.4,1306.6 L1415.4,1306.6 L1417.4,1306.5 L1419.4,1306.5 L1421.4,1306.5 L1423.4,1306.5 L1425.4,1306.5 L1427.4,1306.5 L1429.4,1306.5 L1431.4,1306.4 L1433.4,1306.4 L1435.4,1306.4 L1437.4,1306.4 L1439.4,1306.4 L1441.4,1306.4 L1443.4,1306.4 L1445.4,1306.3 L1447.4,1306.3 L1449.4,1306.3 L1451.4,1306.3 L1453.4,1306.3 L1455.4,1306.3 L1457.4,1306.3 L1459.4,1306.2 L1461.4,1306.2 L1463.4,1306.2 L1465.4,1306.2 L1467.4,1306.2 L1469.4,1306.2 L1471.4,1306.2 L1473.4,1306.1 L1475.4,1306.1 L1477.4,1306.1 L1479.4,1306.1 L1481.4,1306.1 L1483.4,1306.1 L1485.4,1306.0 L1487.4,1306.0 L1489.4,1306.0 L1491.4,1306.0 L1493.4,1306.0 L1495.4,1306.0 L1497.4,1305.9 L1499.4,1305.9 L1501.4,1305.9 L1503.4,1305.9 L1505.4,1305.9 L1507.4,1305.9 L1509.4,1305.8 L1511.4,1305.8 L1513.4,1305.8 L1515.4,1305.8 L1517.4,1305.8 L1519.4,1305.8 L1521.4,1305.7 L1523.4,1305.7 L1525.4,1305.7 L1527.4,1305.7 L1529.4,1305.7 L1531.4,1305.7 L1533.4,1305.6 L1535.4,1305.6 L1537.4,1305.6 L1539.4,1305.6 L1541.4,1305.6 L1543.4,1305.5 L1545.4,1305.5 L1547.4,1305.5 L1549.4,1305.5 L1551.4,1305.5 L1553.4,1305.5 L1555.4,1305.4 L1557.4,1305.4 L1559.4,1305.4 L1561.4,1305.4 L1563.4,1305.4 L1565.4,1305.3 L1567.4,1305.3 L1569.4,1305.3 L1571.4,1305.3 L1573.4,1305.3 L1575.4,1305.3 L1577.4,1305.2 L1579.4,1305.2 L1581.4,1305.2 L1583.4,1305.2 L1585.4,1305.2 L1587.4,1305.1 L1589.4,1305.1 L1591.4,1305.1 L1593.4,1305.1 L1595.4,1305.1 L1597.4,1305.1 L1599.4,1305.0 L1601.4,1305.0 L1603.4,1305.0 L1605.4,1305.0 L1607.4,1305.0 L1609.4,1304.9 L1611.4,1304.9 L1613.4,1304.9 L1615.4,1304.9 L1617.4,1304.9 L1619.4,1304.9 L1621.4,1304.8 L1623.4,1304.8 L1625.4,1304.8 L1627.4,1304.8 L1629.4,1304.8 L1631.4,1304.7 L1633.4,1304.7 L1635.4,1304.7 L1637.4,1304.7 L1639.4,1304.7 L1641.4,1304.7 L1643.4,1304.6 L1645.4,1304.6 L1647.4,1304.6 L1649.4,1304.6 L1651.4,1304.6 L1653.4,1304.6 L1655.4,1304.5 L1657.4,1304.5 L1659.4,1304.5 L1661.4,1304.5 L1663.4,1304.5 L1665.4,1304.4 L1667.4,1304.4 L1669.4,1304.4 L1671.4,1304.4 L1673.4,1304.4 L1675.4,1304.4 L1677.4,1304.3 L1679.4,1304.3 L1681.4,1304.3 L1683.4,1304.3 L1685.4,1304.3 L1687.4,1304.3 L1689.4,1304.2 L1691.4,1304.2 L1693.4,1304.2 L1695.4,1304.2 L1697.4,1304.2 L1699.4,1304.2 L1701.4,1304.1 L1703.4,1304.1 L1705.4,1304.1 L1707.4,1304.1 L1709.4,1304.1 L1711.4,1304.1 L1713.4,1304.0 L1715.4,1304.0 L1717.4,1304.0 L1719.4,1304.0 L1721.4,1304.0 L1723.4,1304.0 L1725.4,1303.9 L1727.4,1303.9 L1729.4,1303.9 L1731.4,1303.9 L1733.4,1303.9 L1735.4,1303.9 L1737.4,1303.9 L1739.4,1303.8 L1741.4,1303.8 L1743.4,1303.8 L1745.4,1303.8 L1747.4,1303.8 L1749.4,1303.8 L1751.4,1303.8 L1753.4,1303.7 L1755.4,1303.7 L1757.4,1303.7 L1759.4,1303.7 L1761.4,1303.7 L1763.4,1303.7 L1765.4,1303.7 L1767.4,1303.6 L1769.4,1303.6 L1771.4,1303.6 L1773.4,1303.6 L1775.4,1303.6 L1777.4,1303.6 L1779.4,1303.6 L1781.4,1303.5 L1783.4,1303.5 L1785.4,1303.5 L1787.4,1303.5 L1789.4,1303.5 L1791.4,1303.5 L1793.4,1303.5 L1795.4,1303.5 L1797.4,1303.5 L1799.4,1303.4 L1801.4,1303.4 L1803.4,1303.4 L1805.4,1303.4 L1807.4,1303.4 L1809.4,1303.4 L1811.4,1303.4 L1813.4,1303.4 L1815.4,1303.4 L1817.4,1303.3 L1819.4,1303.3 L1821.4,1303.3 L1823.4,1303.3 L1825.4,1303.3 L1827.4,1303.3 L1829.4,1303.3 L1831.4,1303.3 L1833.4,1303.3 L1835.4,1303.3 L1837.4,1303.2 L1839.4,1303.2 L1841.4,1303.2 L1843.4,1303.2 L1845.4,1303.2 L1847.4,1303.2 L1849.4,1303.2 L1851.4,1303.2 L1853.4,1303.2 L1855.4,1303.2 L1857.4,1303.2 L1859.4,1303.2 L1861.4,1303.1 L1863.4,1303.1 L1865.4,1303.1 L1867.4,1303.1 L1869.4,1303.1 L1871.4,1303.1 L1873.4,1303.1 L1875.4,1303.1 L1877.4,1303.1 L1879.4,1303.1 L1881.4,1303.1 L1883.4,1303.1 L1885.4,1303.1 L1887.4,1303.1 L1889.4,1303.1 L1891.4,1303.1 L1893.4,1303.1 L1895.4,1303.1 L1897.4,1303.1 L1899.4,1303.1 L1901.4,1303.0 L1903.4,1303.0 L1905.4,1303.0 L1907.4,1303.0 L1909.4,1303.0 L1911.4,1303.0 L1913.4,1303.0 L1915.4,1303.0 L1917.4,1303.0 L1919.4,1303.0 L1921.0,1303.0" fill="none" stroke="#ff4521" stroke-width="13.5" stroke-linecap="round" stroke-linejoin="round"/>
</g>
<g clip-path="url(#ci)">
<path d="M1164.5,1024.8 L1166.4,1025.4 L1168.3,1026.0 L1170.2,1026.6 L1172.1,1027.1 L1174.1,1027.6 L1176.0,1028.0 L1178.0,1028.5 L1179.9,1028.8 L1181.9,1029.2 L1183.9,1029.5 L1185.9,1029.8 L1187.8,1030.0 L1189.8,1030.2 L1191.8,1030.4 L1193.8,1030.5 L1195.8,1030.6 L1197.8,1030.6 L1199.8,1030.6 L1201.8,1030.6 L1203.8,1030.5 L1205.8,1030.4 L1207.8,1030.2 L1209.8,1030.0 L1211.8,1029.8 L1213.8,1029.5 L1215.7,1029.2 L1217.7,1028.9 L1219.7,1028.5 L1221.6,1028.0 L1223.6,1027.6 L1225.5,1027.0 L1227.4,1026.5 L1229.3,1025.9 L1231.2,1025.3 L1233.1,1024.6 L1235.0,1023.9 L1236.9,1023.2 L1238.7,1022.4 L1240.5,1021.6 L1242.4,1020.8 L1244.2,1020.0 L1246.0,1019.1 L1247.8,1018.2 L1249.5,1017.3 L1251.3,1016.3 L1253.0,1015.4 L1254.8,1014.4 L1256.5,1013.4 L1258.2,1012.4 L1259.9,1011.3 L1261.6,1010.3 L1263.3,1009.2 L1265.0,1008.1 L1266.7,1007.0 L1268.4,1005.9 L1270.0,1004.8 L1271.7,1003.7 L1273.3,1002.5 L1275.0,1001.4 L1276.6,1000.2 L1278.2,999.1 L1279.8,997.9 L1281.5,996.7 L1283.1,995.6 L1284.7,994.4 L1286.3,993.2 L1287.9,992.0 L1289.5,990.8 L1291.2,989.7 L1292.8,988.5 L1294.4,987.3 L1296.0,986.1 L1297.6,984.9 L1299.2,983.8 L1300.8,982.6 L1302.5,981.4 L1304.1,980.2 L1305.7,979.0 L1307.3,977.9 L1308.9,976.7 L1310.6,975.5 L1312.2,974.4 L1313.8,973.2 L1315.4,972.0 L1317.0,970.8 L1318.7,969.7 L1320.3,968.5 L1321.9,967.3 L1323.5,966.2 L1325.1,965.0 L1326.8,963.8 L1328.4,962.6 L1330.0,961.5 L1331.6,960.3 L1333.3,959.1 L1334.9,958.0 L1336.5,956.8 L1338.1,955.6 L1339.7,954.5 L1341.4,953.3 L1343.0,952.1 L1344.6,950.9 L1346.2,949.8 L1347.9,948.6 L1349.5,947.4 L1351.1,946.3 L1352.7,945.1 L1354.4,943.9 L1356.0,942.8 L1357.6,941.6 L1359.2,940.4 L1360.9,939.3 L1362.5,938.1 L1364.1,937.0 L1365.7,935.8 L1367.4,934.6 L1369.0,933.5 L1370.6,932.3 L1372.2,931.1 L1373.9,930.0 L1375.5,928.8 L1377.1,927.7 L1378.8,926.5 L1380.4,925.3 L1382.0,924.2 L1383.7,923.0 L1385.3,921.9 L1386.9,920.7 L1388.6,919.6 L1390.2,918.4 L1391.8,917.2 L1393.5,916.1 L1395.1,914.9 L1396.7,913.8 L1398.4,912.6 L1400.0,911.5 L1401.6,910.3 L1403.3,909.2 L1404.9,908.1 L1406.6,907.0 L1408.3,905.9 L1409.9,904.7 L1411.6,903.7 L1413.3,902.6 L1415.0,901.5 L1416.7,900.5 L1418.4,899.4 L1420.1,898.4 L1421.9,897.4 L1423.6,896.5 L1425.4,895.5 L1427.1,894.6 L1428.9,893.7 L1430.7,892.8 L1432.5,892.0 L1434.4,891.1 L1436.2,890.4 L1438.1,889.6 L1439.9,888.9 L1441.8,888.2 L1443.7,887.6 L1445.6,886.9 L1447.5,886.3 L1449.4,885.8 L1451.3,885.2 L1453.3,884.7 L1455.2,884.3 L1457.2,883.8 L1459.1,883.4 L1461.1,883.0 L1463.1,882.7 L1465.0,882.4 L1467.0,882.1 L1469.0,881.8 L1471.0,881.5 L1473.0,881.3 L1475.0,881.1 L1477.0,881.0 L1478.9,880.8 L1480.9,880.7 L1482.9,880.7 L1484.9,880.6 L1486.9,880.6 L1488.9,880.6 L1490.9,880.6 L1492.9,880.6 L1494.9,880.7 L1496.9,880.8 L1498.9,880.9 L1500.9,881.0 L1502.9,881.2 L1504.9,881.4 L1506.9,881.6 L1508.9,881.8 L1510.9,882.0 L1512.9,882.3 L1514.8,882.6 L1516.8,882.9 L1518.8,883.2 L1520.8,883.6 L1522.7,884.0 L1524.7,884.4 L1526.6,884.8 L1528.6,885.2 L1530.5,885.7 L1532.5,886.2 L1534.4,886.7 L1536.3,887.2 L1538.3,887.7 L1540.2,888.3 L1542.1,888.8 L1544.0,889.4 L1545.9,890.0 L1547.8,890.6 L1549.7,891.3 L1551.6,891.9 L1553.5,892.6 L1555.4,893.3 L1557.3,894.0 L1559.1,894.7 L1561.0,895.4 L1562.9,896.1 L1564.7,896.9 L1566.6,897.6 L1568.4,898.4 L1570.3,899.2 L1572.1,900.0 L1573.9,900.8 L1575.7,901.6 L1577.6,902.4 L1579.4,903.3 L1581.2,904.1 L1583.0,905.0 L1584.8,905.8 L1586.6,906.7 L1588.4,907.6 L1590.2,908.5 L1592.0,909.4 L1593.7,910.3 L1595.5,911.2 L1597.3,912.1 L1599.1,913.1 L1600.8,914.0 L1602.6,915.0 L1604.4,915.9 L1606.1,916.9 L1607.9,917.8 L1609.6,918.8 L1611.4,919.7 L1613.1,920.7 L1614.9,921.7 L1616.6,922.7 L1618.4,923.7 L1620.1,924.6 L1621.8,925.6 L1623.6,926.6 L1625.3,927.6 L1627.0,928.6 L1628.8,929.6 L1630.5,930.6 L1632.2,931.6 L1634.0,932.6 L1635.7,933.6 L1637.4,934.6 L1639.1,935.6 L1640.9,936.7 L1642.6,937.7 L1644.3,938.7 L1646.1,939.7 L1647.8,940.7 L1649.5,941.7 L1651.2,942.7 L1653.0,943.7 L1654.7,944.7 L1656.4,945.7 L1658.2,946.7 L1659.9,947.7 L1661.7,948.7 L1663.4,949.7 L1665.1,950.6 L1666.9,951.6 L1668.6,952.6 L1670.4,953.6 L1672.1,954.5 L1673.9,955.5 L1675.6,956.5 L1677.4,957.4 L1679.1,958.4 L1680.9,959.3 L1682.7,960.2 L1684.4,961.2 L1686.2,962.1 L1688.0,963.0 L1689.8,963.9 L1691.6,964.8 L1693.3,965.7 L1695.1,966.6 L1696.9,967.5 L1698.7,968.4 L1700.5,969.2 L1702.3,970.1 L1704.2,970.9 L1706.0,971.8 L1707.8,972.6 L1709.6,973.4 L1711.4,974.2 L1713.3,975.0 L1715.1,975.8 L1717.0,976.6 L1718.8,977.4 L1720.6,978.2 L1722.5,978.9 L1724.4,979.7 L1726.2,980.4 L1728.1,981.1 L1729.9,981.9 L1731.8,982.6 L1733.7,983.3 L1735.5,984.0 L1737.4,984.7 L1739.3,985.4 L1741.2,986.0 L1743.1,986.7 L1745.0,987.4 L1746.8,988.0 L1748.7,988.7 L1750.6,989.3 L1752.5,989.9 L1754.4,990.6 L1756.3,991.2 L1758.2,991.8 L1760.2,992.4 L1762.1,993.0 L1764.0,993.5 L1765.9,994.1 L1767.8,994.7 L1769.7,995.3 L1771.6,995.8 L1773.6,996.4 L1775.5,996.9 L1777.4,997.4 L1779.4,997.9 L1781.3,998.5 L1783.2,999.0 L1785.2,999.5 L1787.1,1000.0 L1789.0,1000.5 L1791.0,1001.0 L1792.9,1001.4 L1794.9,1001.9 L1796.8,1002.4 L1798.8,1002.8 L1800.7,1003.3 L1802.6,1003.7 L1804.6,1004.2 L1806.6,1004.6 L1808.5,1005.0 L1810.5,1005.4 L1812.4,1005.9 L1814.4,1006.3 L1816.3,1006.7 L1818.3,1007.1 L1820.3,1007.5 L1822.2,1007.9 L1824.2,1008.2 L1826.1,1008.6 L1828.1,1009.0 L1830.1,1009.3 L1832.0,1009.7 L1834.0,1010.1 L1836.0,1010.4 L1838.0,1010.7 L1839.9,1011.1 L1841.9,1011.4 L1843.9,1011.7 L1845.8,1012.1 L1847.8,1012.4 L1849.8,1012.7 L1851.8,1013.0 L1853.7,1013.3 L1855.7,1013.6 L1857.7,1013.9 L1859.7,1014.2 L1861.7,1014.5 L1863.6,1014.8 L1865.6,1015.0 L1867.6,1015.3 L1869.6,1015.6 L1871.6,1015.9 L1873.5,1016.1 L1875.5,1016.4 L1877.5,1016.6 L1879.5,1016.9 L1881.5,1017.1 L1883.5,1017.4 L1885.5,1017.6 L1887.4,1017.8 L1889.4,1018.1 L1891.4,1018.3 L1893.4,1018.5 L1895.4,1018.7 L1897.4,1019.0 L1899.4,1019.2 L1899.7,1019.2" fill="none" stroke="#0a0c08" stroke-width="10.0" stroke-linecap="round" stroke-linejoin="round" stroke-dasharray="26.5 56.75" stroke-dashoffset="39.5"/>
<path d="M1139.9,774.0 L1140.5,772.1 L1141.1,770.2 L1141.8,768.3 L1142.4,766.4 L1143.0,764.5 L1143.6,762.6 L1144.3,760.7 L1144.9,758.8 L1145.5,756.9 L1146.2,755.0 L1146.8,753.2 L1147.5,751.3 L1148.2,749.4 L1148.9,747.5 L1149.5,745.6 L1150.2,743.7 L1150.9,741.9 L1151.6,740.0 L1152.3,738.1 L1153.0,736.2 L1153.7,734.4 L1154.4,732.5 L1155.1,730.6 L1155.8,728.8 L1156.5,726.9 L1157.3,725.0 L1158.0,723.2 L1158.7,721.3 L1159.5,719.4 L1160.2,717.6 L1160.9,715.7 L1161.7,713.9 L1162.4,712.0 L1163.1,710.1 L1163.9,708.3 L1164.6,706.4 L1165.4,704.6 L1166.1,702.7 L1166.9,700.9 L1167.7,699.0 L1168.4,697.2 L1169.2,695.3 L1169.9,693.5 L1170.7,691.6 L1171.4,689.8 L1172.2,687.9 L1173.0,686.1 L1173.7,684.2 L1174.5,682.4 L1175.3,680.5 L1176.0,678.7 L1176.8,676.8 L1177.6,675.0 L1178.3,673.1 L1179.1,671.3 L1179.8,669.4 L1180.6,667.6 L1181.4,665.7 L1182.1,663.9 L1182.9,662.0 L1183.6,660.2 L1184.4,658.3 L1185.1,656.5 L1185.9,654.6 L1186.6,652.8 L1187.4,650.9 L1188.1,649.1 L1188.9,647.2 L1189.6,645.3 L1190.4,643.5 L1191.1,641.6 L1191.8,639.8 L1192.6,637.9 L1193.3,636.0 L1194.0,634.2 L1194.7,632.3 L1195.5,630.5 L1196.2,628.6 L1196.9,626.7 L1197.6,624.8 L1198.3,623.0 L1199.0,621.1 L1199.7,619.2 L1200.4,617.3 L1201.1,615.5 L1201.8,613.6 L1202.4,611.7 L1203.1,609.8 L1203.8,607.9 L1204.4,606.0 L1205.1,604.2 L1205.7,602.3 L1206.4,600.4 L1207.0,598.5 L1207.7,596.6 L1208.3,594.7 L1208.9,592.8 L1209.5,590.9 L1210.1,589.0 L1210.7,587.1 L1211.3,585.2 L1211.9,583.2 L1212.5,581.3 L1213.1,579.4 L1213.6,577.5 L1214.2,575.6 L1214.8,573.7 L1215.3,571.7 L1215.9,569.8 L1216.4,567.9 L1216.9,566.0 L1217.5,564.0 L1218.0,562.1 L1218.5,560.2 L1219.0,558.2 L1219.5,556.3 L1220.0,554.4 L1220.5,552.4 L1221.0,550.5 L1221.5,548.5 L1222.0,546.6 L1222.5,544.7 L1222.9,542.7 L1223.4,540.8 L1223.9,538.8 L1224.3,536.9 L1224.8,534.9 L1225.2,533.0 L1225.7,531.0 L1226.1,529.1 L1226.6,527.1 L1227.0,525.2 L1227.5,523.2 L1227.9,521.3 L1228.3,519.3 L1228.7,517.4 L1229.2,515.4 L1229.6,513.5 L1230.0,511.5 L1230.4,509.6 L1230.8,507.6 L1231.3,505.6 L1231.7,503.7 L1232.1,501.7 L1232.5,499.8 L1232.9,497.8 L1233.3,495.9 L1233.7,493.9 L1234.1,491.9 L1234.5,490.0 L1234.9,488.0 L1235.3,486.1 L1235.7,484.1 L1236.1,482.1 L1236.5,480.2 L1236.9,478.2 L1237.2,476.3 L1237.6,474.3 L1238.0,472.3 L1238.4,470.4 L1238.8,468.4 L1239.2,466.4 L1239.6,464.5 L1240.0,462.5 L1240.4,460.6 L1240.8,458.6 L1241.1,456.6 L1241.5,454.7 L1241.9,452.7 L1242.3,450.8 L1242.7,448.8 L1243.1,446.8 L1243.5,444.9 L1243.9,442.9 L1244.3,440.9 L1244.7,439.0 L1245.1,437.0 L1245.5,435.1 L1245.9,433.1 L1246.3,431.2 L1246.7,429.2 L1247.1,427.2 L1247.5,425.3 L1248.0,423.3 L1248.4,421.4 L1248.8,419.4 L1249.2,417.5 L1249.6,415.5 L1250.1,413.6 L1250.5,411.6 L1250.9,409.6 L1251.4,407.7 L1251.8,405.7 L1252.3,403.8 L1252.7,401.8 L1253.1,399.9 L1253.6,397.9 L1254.0,396.0 L1254.5,394.0 L1254.9,392.1 L1255.4,390.2 L1255.9,388.2 L1256.3,386.3 L1256.8,384.3 L1257.2,382.4 L1257.7,380.4 L1258.2,378.5 L1258.6,376.5 L1259.1,374.6 L1259.6,372.6 L1260.1,370.7 L1260.5,368.8 L1261.0,366.8 L1261.5,364.9 L1262.0,362.9 L1262.4,361.0 L1262.9,359.0 L1263.4,357.1 L1263.9,355.2 L1264.4,353.2 L1264.8,351.3 L1265.3,349.3 L1265.8,347.4 L1266.3,345.5 L1266.8,343.5 L1267.3,341.6 L1267.8,339.6 L1268.2,337.7 L1268.7,335.8 L1269.2,333.8 L1269.7,331.9 L1270.2,329.9 L1270.7,328.0 L1271.2,326.1 L1271.7,324.1 L1272.2,322.2 L1272.7,320.2 L1273.1,318.3 L1273.6,316.4 L1274.1,314.4 L1274.6,312.5 L1275.1,310.6 L1275.6,308.6 L1276.1,306.7 L1276.6,304.7 L1277.1,302.8 L1277.6,300.9 L1278.1,298.9 L1278.6,297.0 L1279.1,295.1 L1279.6,293.1 L1280.1,291.2 L1280.6,289.2 L1281.1,287.3 L1281.5,285.4 L1282.0,283.4 L1282.5,281.5 L1283.0,279.6 L1283.5,277.6 L1284.0,275.7 L1284.5,273.7 L1285.0,271.8 L1285.5,269.9 L1286.0,267.9 L1286.5,266.0 L1287.0,264.1 L1287.5,262.1 L1288.0,260.2 L1288.5,258.2 L1289.0,256.3 L1289.5,254.4 L1290.0,252.4 L1290.5,250.5 L1291.0,248.6 L1291.5,246.6 L1292.0,244.7 L1292.5,242.7 L1293.0,240.8 L1293.4,238.9 L1293.9,236.9 L1294.4,235.0 L1294.9,233.1 L1295.4,231.1 L1295.9,229.2 L1296.4,227.2 L1296.9,225.3 L1297.4,223.4 L1297.9,221.4 L1298.4,219.5 L1298.9,217.5 L1299.4,215.6 L1299.9,213.7 L1300.4,211.7 L1300.9,209.8 L1301.3,207.9 L1301.8,205.9 L1302.3,204.0 L1302.8,202.0 L1303.3,200.1 L1303.8,198.2 L1304.3,196.2 L1304.8,194.3 L1305.3,192.3 L1305.7,190.4 L1306.2,188.5 L1306.7,186.5 L1307.2,184.6 L1307.7,182.6 L1308.2,180.7 L1308.7,178.8 L1309.2,176.8 L1309.6,174.9 L1310.1,172.9 L1310.6,171.0 L1311.1,169.1 L1311.6,167.1 L1312.0,165.2 L1312.5,163.2 L1313.0,161.3 L1313.5,159.4 L1314.0,157.4 L1314.4,155.5 L1314.9,153.5 L1315.4,151.6 L1315.9,149.6 L1316.4,147.7 L1316.8,145.8 L1317.3,143.8 L1317.8,141.9 L1318.3,139.9 L1318.7,138.0 L1319.2,136.0 L1319.7,134.1 L1320.1,132.2 L1320.6,130.2 L1321.1,128.3 L1321.5,126.3 L1322.0,124.4 L1322.5,122.4 L1322.9,120.5 L1323.4,118.5 L1323.9,116.6 L1324.3,114.6 L1324.8,112.7 L1325.3,110.8 L1325.7,108.8 L1326.2,106.9 L1326.6,104.9 L1327.1,103.0 L1327.5,101.0 L1328.0,99.1 L1328.5,97.1 L1328.9,95.2 L1329.4,93.2 L1329.8,91.3 L1330.3,89.3 L1330.7,87.4 L1331.2,85.4 L1331.6,83.5 L1332.1,81.5 L1332.5,79.6 L1333.0,77.6 L1333.4,75.7 L1333.8,73.7 L1334.3,71.8 L1334.7,69.8 L1335.2,67.9 L1335.6,65.9 L1336.0,64.0 L1336.5,62.0 L1336.9,60.1 L1337.3,58.1 L1337.8,56.2 L1338.2,54.2 L1338.6,52.3 L1339.1,50.3 L1339.5,48.4 L1339.9,46.4 L1340.3,44.4 L1340.8,42.5 L1341.2,40.5 L1341.6,38.6 L1342.0,36.6 L1342.4,34.7 L1342.8,32.7 L1343.3,30.8 L1343.7,28.8 L1344.1,26.8 L1344.5,24.9 L1344.9,22.9 L1345.3,21.0 L1345.7,19.0 L1346.1,17.1 L1346.5,15.1 L1346.9,13.1 L1347.3,11.2 L1347.7,9.2 L1348.1,7.3 L1348.5,5.3 L1348.9,3.3 L1349.3,1.4 L1349.7,-0.6 L1350.1,-2.5 L1350.5,-4.5 L1350.9,-6.5 L1351.2,-8.4 L1351.6,-10.4 L1352.0,-12.4 L1352.4,-14.3 L1352.8,-16.3 L1353.1,-18.3 L1353.5,-20.2 L1353.9,-22.2 L1354.3,-24.2 L1354.6,-26.1 L1355.0,-28.1 L1355.4,-30.0 L1355.7,-32.0 L1356.1,-34.0 L1356.4,-36.0 L1356.8,-37.9 L1357.2,-39.9 L1357.5,-41.9 L1357.9,-43.8 L1358.2,-45.8 L1358.6,-47.8 L1358.9,-49.7 L1359.2,-51.7 L1359.6,-53.7 L1359.9,-55.6 L1360.3,-57.6 L1360.6,-59.6 L1360.9,-61.6 L1361.3,-63.5 L1361.6,-65.5 L1361.9,-67.5 L1362.3,-69.4 L1362.6,-71.4 L1362.9,-73.4 L1363.2,-75.4 L1363.5,-77.3 L1363.8,-79.3 L1364.2,-81.3 L1364.5,-83.3 L1364.8,-85.2 L1365.1,-87.2 L1365.4,-89.2 L1365.7,-91.2 L1366.0,-93.2 L1366.3,-95.1 L1366.6,-97.1 L1366.9,-99.1 L1367.2,-101.1 L1367.5,-103.0 L1367.7,-105.0 L1368.0,-107.0 L1368.3,-109.0 L1368.6,-111.0 L1368.9,-112.9 L1369.1,-114.9 L1369.4,-116.9 L1369.7,-118.9 L1369.9,-120.9 L1370.2,-122.9 L1370.4,-124.8 L1370.7,-126.8 L1371.0,-128.8 L1371.2,-130.8 L1371.5,-132.8 L1371.7,-134.8 L1372.0,-136.7 L1372.2,-138.7 L1372.4,-140.7 L1372.7,-142.7 L1372.9,-144.7 L1373.2,-146.7 L1373.4,-148.7 L1373.6,-150.6 L1373.9,-152.6 L1374.1,-154.6 L1374.3,-156.6 L1374.5,-158.6 L1374.8,-160.6 L1375.0,-162.6 L1375.2,-164.6 L1375.4,-166.5 L1375.7,-168.5 L1375.9,-170.5 L1376.1,-172.5 L1376.3,-174.5 L1376.5,-176.5 L1376.7,-178.5 L1377.0,-180.5 L1377.2,-182.5 L1377.4,-184.4 L1377.6,-186.4 L1377.8,-188.4 L1378.0,-190.4 L1378.2,-192.4 L1378.5,-194.4 L1378.7,-196.4 L1378.9,-198.4 L1379.1,-200.3 L1379.3,-202.3 L1379.5,-204.3 L1379.7,-206.3 L1380.0,-208.3 L1380.2,-210.3 L1380.4,-212.3 L1380.6,-214.3 L1380.8,-216.3 L1381.0,-218.2 L1381.3,-220.2 L1381.5,-222.2 L1381.7,-224.2 L1381.9,-226.2 L1382.1,-228.2 L1382.4,-230.2 L1382.6,-232.2 L1382.8,-234.1 L1383.0,-236.1 L1383.3,-238.1 L1383.5,-240.1 L1383.7,-242.1 L1384.0,-244.1 L1384.2,-246.1 L1384.4,-248.0 L1384.7,-250.0 L1384.9,-252.0 L1385.2,-254.0 L1385.4,-256.0 L1385.7,-258.0 L1385.9,-260.0 L1386.2,-261.9 L1386.4,-263.9 L1386.7,-265.9 L1386.9,-267.9 L1387.2,-269.9 L1387.5,-271.9 L1387.7,-273.8 L1388.0,-275.8 L1388.3,-277.8 L1388.6,-279.8 L1388.8,-281.8 L1389.1,-283.7 L1389.4,-285.7 L1389.7,-287.7 L1390.0,-289.7 L1390.3,-291.7 L1390.6,-293.6 L1390.9,-295.6 L1391.2,-297.6 L1391.5,-299.6 L1391.8,-301.5 L1392.1,-303.5 L1392.5,-305.5 L1392.8,-307.5 L1393.1,-309.4 L1393.4,-311.4 L1393.8,-313.4 L1394.1,-315.3 L1394.5,-317.3 L1394.8,-319.3 L1395.2,-321.3 L1395.5,-323.2 L1395.9,-325.2 L1396.2,-327.2 L1396.6,-329.1 L1397.0,-331.1 L1397.4,-333.1 L1397.7,-335.0 L1398.1,-337.0 L1398.5,-338.9 L1398.9,-340.9 L1399.3,-342.9 L1399.7,-344.8 L1400.1,-346.8 L1400.5,-348.7 L1400.9,-350.7 L1401.4,-352.6 L1401.8,-354.6 L1402.2,-356.6 L1402.7,-358.5 L1403.1,-360.5 L1403.6,-362.4 L1404.0,-364.4 L1404.5,-366.3 L1404.9,-368.2 L1405.4,-370.2 L1405.9,-372.1 L1406.3,-374.1 L1406.8,-376.0 L1407.3,-378.0 L1407.8,-379.9 L1408.3,-381.8 L1408.8,-383.8 L1409.3,-385.7 L1409.8,-387.6 L1410.3,-389.6 L1410.9,-391.5 L1411.4,-393.4 L1411.9,-395.4 L1412.5,-397.3 L1413.0,-399.2 L1413.6,-401.1 L1414.1,-403.0 L1414.7,-405.0 L1415.3,-406.9 L1415.8,-408.8 L1416.4,-410.7 L1417.0,-412.6 L1417.6,-414.5 L1418.2,-416.4 L1418.8,-418.4 L1419.4,-420.3 L1420.0,-422.2 L1420.6,-424.1 L1421.2,-426.0 L1421.9,-427.9 L1422.5,-429.8 L1423.1,-431.7 L1423.8,-433.6 L1424.4,-435.4 L1425.1,-437.3 L1425.8,-439.2 L1426.4,-441.1 L1427.1,-443.0 L1427.8,-444.9 L1428.5,-446.7 L1429.2,-448.6 L1429.8,-450.5 L1430.6,-452.4 L1431.3,-454.2 L1432.0,-456.1 L1432.7,-458.0 L1433.4,-459.8 L1434.1,-461.7 L1434.9,-463.6 L1435.6,-465.4 L1436.4,-467.3 L1437.1,-469.1 L1437.9,-471.0 L1438.6,-472.8 L1439.4,-474.7 L1440.2,-476.5 L1440.9,-478.4 L1441.7,-480.2 L1442.5,-482.0 L1443.3,-483.9 L1444.1,-485.7 L1444.9,-487.5 L1445.7,-489.4 L1446.6,-491.2 L1447.4,-493.0 L1448.2,-494.8 L1449.0,-496.7 L1449.9,-498.5 L1450.7,-500.3 L1451.6,-502.1 L1452.4,-503.9 L1453.3,-505.7 L1454.2,-507.5 L1455.1,-509.3 L1456.0,-511.1 L1456.9,-512.9 L1457.8,-514.7 L1458.7,-516.4 L1459.6,-518.2 L1460.5,-520.0 L1461.4,-521.8 L1462.4,-523.5 L1463.3,-525.3 L1464.3,-527.0 L1465.3,-528.8 L1466.3,-530.5 L1467.2,-532.3 L1468.2,-534.0 L1469.3,-535.7 L1470.3,-537.4 L1471.3,-539.1 L1472.4,-540.8 L1473.4,-542.5 L1474.5,-544.2 L1475.6,-545.9 L1476.7,-547.6 L1477.8,-549.2 L1479.0,-550.9 L1480.1,-552.5 L1481.3,-554.1 L1482.5,-555.7 L1483.8,-557.3 L1485.0,-558.8 L1486.3,-560.4 L1487.6,-561.9 L1489.0,-563.3 L1490.4,-564.8 L1491.8,-566.1 L1493.3,-567.5 L1494.9,-568.8 L1496.5,-569.9 L1498.1,-571.0 L1499.9,-572.0 L1501.7,-572.8 L1503.6,-573.4 L1505.6,-573.8 L1507.6,-573.9 L1509.6,-573.7 L1511.5,-573.2 L1513.4,-572.5 L1515.1,-571.5 L1516.8,-570.4 L1518.3,-569.1 L1519.7,-567.7 L1521.1,-566.2 L1522.3,-564.6 L1523.5,-563.0 L1524.6,-561.3 L1525.6,-559.6 L1526.6,-557.9 L1527.6,-556.1 L1528.5,-554.4 L1529.3,-552.5 L1530.2,-550.7 L1531.0,-548.9 L1531.7,-547.0 L1532.5,-545.2 L1533.2,-543.3 L1533.9,-541.4 L1534.5,-539.5 L1535.2,-537.7 L1535.8,-535.8 L1536.4,-533.8 L1537.0,-531.9 L1537.6,-530.0 L1538.1,-528.1 L1538.7,-526.2 L1539.2,-524.2 L1539.7,-522.3 L1540.2,-520.4 L1540.7,-518.4 L1541.2,-516.5 L1541.7,-514.6 L1542.1,-512.6 L1542.6,-510.7 L1543.0,-508.7 L1543.5,-506.8 L1543.9,-504.8 L1544.3,-502.9 L1544.7,-500.9 L1545.2,-498.9 L1545.6,-497.0 L1545.9,-495.0 L1546.3,-493.1 L1546.7,-491.1 L1547.1,-489.1 L1547.5,-487.2 L1547.8,-485.2 L1548.2,-483.2 L1548.5,-481.3 L1548.9,-479.3 L1549.2,-477.3 L1549.6,-475.4 L1549.9,-473.4 L1550.2,-471.4 L1550.5,-469.4 L1550.9,-467.5 L1551.2,-465.5 L1551.5,-463.5 L1551.8,-461.5 L1552.1,-459.6 L1552.4,-457.6 L1552.7,-455.6 L1553.0,-453.6 L1553.3,-451.6 L1553.6,-449.7 L1553.9,-447.7 L1554.1,-445.7 L1554.4,-443.7 L1554.7,-441.7 L1555.0,-439.8 L1555.2,-437.8 L1555.5,-435.8 L1555.8,-433.8 L1556.0,-431.8 L1556.3,-429.9 L1556.5,-427.9 L1556.8,-425.9 L1557.0,-423.9 L1557.3,-421.9 L1557.5,-419.9 L1557.8,-417.9 L1558.0,-416.0 L1558.3,-414.0 L1558.5,-412.0 L1558.8,-410.0 L1559.0,-408.0 L1559.2,-406.0 L1559.5,-404.0 L1559.7,-402.1 L1559.9,-400.1 L1560.1,-398.1 L1560.4,-396.1 L1560.6,-394.1 L1560.8,-392.1 L1561.0,-390.1 L1561.3,-388.1 L1561.5,-386.2 L1561.7,-384.2 L1561.9,-382.2 L1562.1,-380.2 L1562.4,-378.2 L1562.6,-376.2 L1562.8,-374.2 L1563.0,-372.2 L1563.2,-370.3 L1563.4,-368.3 L1563.6,-366.3 L1563.8,-364.3 L1564.0,-362.3 L1564.2,-360.3 L1564.4,-358.3 L1564.6,-356.3 L1564.8,-354.3 L1565.0,-352.3 L1565.2,-350.4 L1565.4,-348.4 L1565.6,-346.4 L1565.8,-344.4 L1566.0,-342.4 L1566.2,-340.4 L1566.4,-338.4 L1566.6,-336.4 L1566.8,-334.4 L1567.0,-332.4 L1567.2,-330.5 L1567.4,-328.5 L1567.6,-326.5 L1567.8,-324.5 L1568.0,-322.5 L1568.2,-320.5 L1568.4,-318.5 L1568.6,-316.5 L1568.8,-314.5 L1569.0,-312.5 L1569.2,-310.6 L1569.4,-308.6 L1569.5,-306.6 L1569.7,-304.6 L1569.9,-302.6 L1570.1,-300.6 L1570.3,-298.6 L1570.5,-296.6 L1570.7,-294.6 L1570.9,-292.6 L1571.1,-290.6 L1571.3,-288.7 L1571.5,-286.7 L1571.7,-284.7 L1571.9,-282.7 L1572.1,-280.7 L1572.3,-278.7 L1572.5,-276.7 L1572.7,-274.7 L1572.8,-272.7 L1573.0,-270.7 L1573.2,-268.7 L1573.4,-266.8 L1573.6,-264.8 L1573.8,-262.8 L1574.0,-260.8 L1574.2,-258.8 L1574.4,-256.8 L1574.7,-254.8 L1574.9,-252.8 L1575.1,-250.8 L1575.3,-248.9 L1575.5,-246.9 L1575.7,-244.9 L1575.9,-242.9 L1576.1,-240.9 L1576.3,-238.9 L1576.5,-236.9 L1576.7,-234.9 L1576.9,-232.9 L1577.2,-231.0 L1577.4,-229.0 L1577.6,-227.0 L1577.8,-225.0 L1578.0,-223.0 L1578.2,-221.0 L1578.5,-219.0 L1578.7,-217.0 L1578.9,-215.0 L1579.1,-213.1 L1579.4,-211.1 L1579.6,-209.1 L1579.8,-207.1 L1580.0,-205.1 L1580.3,-203.1 L1580.5,-201.1 L1580.7,-199.2 L1581.0,-197.2 L1581.2,-195.2 L1581.4,-193.2 L1581.6,-191.2 L1581.9,-189.2 L1582.1,-187.2 L1582.4,-185.2 L1582.6,-183.3 L1582.8,-181.3 L1583.1,-179.3 L1583.3,-177.3 L1583.6,-175.3 L1583.8,-173.3 L1584.0,-171.3 L1584.3,-169.4 L1584.5,-167.4 L1584.8,-165.4 L1585.0,-163.4 L1585.3,-161.4 L1585.5,-159.4 L1585.8,-157.5 L1586.0,-155.5 L1586.3,-153.5 L1586.5,-151.5 L1586.8,-149.5 L1587.1,-147.5 L1587.3,-145.6 L1587.6,-143.6 L1587.8,-141.6 L1588.1,-139.6 L1588.4,-137.6 L1588.6,-135.6 L1588.9,-133.7 L1589.2,-131.7 L1589.4,-129.7 L1589.7,-127.7 L1590.0,-125.7 L1590.2,-123.7 L1590.5,-121.8 L1590.8,-119.8 L1591.0,-117.8 L1591.3,-115.8 L1591.6,-113.8 L1591.9,-111.9 L1592.1,-109.9 L1592.4,-107.9 L1592.7,-105.9 L1593.0,-103.9 L1593.3,-102.0 L1593.5,-100.0 L1593.8,-98.0 L1594.1,-96.0 L1594.4,-94.0 L1594.7,-92.1 L1595.0,-90.1 L1595.3,-88.1 L1595.6,-86.1 L1595.9,-84.1 L1596.1,-82.2 L1596.4,-80.2 L1596.7,-78.2 L1597.0,-76.2 L1597.3,-74.3 L1597.6,-72.3 L1597.9,-70.3 L1598.2,-68.3 L1598.5,-66.3 L1598.8,-64.4 L1599.1,-62.4 L1599.4,-60.4 L1599.7,-58.4 L1600.0,-56.5 L1600.4,-54.5 L1600.7,-52.5 L1601.0,-50.5 L1601.3,-48.6 L1601.6,-46.6 L1601.9,-44.6 L1602.2,-42.6 L1602.5,-40.7 L1602.8,-38.7 L1603.2,-36.7 L1603.5,-34.7 L1603.8,-32.8 L1604.1,-30.8 L1604.4,-28.8 L1604.7,-26.8 L1605.1,-24.9 L1605.4,-22.9 L1605.7,-20.9 L1606.0,-18.9 L1606.4,-17.0 L1606.7,-15.0 L1607.0,-13.0 L1607.3,-11.0 L1607.6,-9.1 L1608.0,-7.1 L1608.3,-5.1 L1608.6,-3.1 L1609.0,-1.2 L1609.3,0.8 L1609.6,2.8 L1609.9,4.7 L1610.3,6.7 L1610.6,8.7 L1610.9,10.7 L1611.3,12.6 L1611.6,14.6 L1611.9,16.6 L1612.3,18.5 L1612.6,20.5 L1612.9,22.5 L1613.3,24.5 L1613.6,26.4 L1613.9,28.4 L1614.3,30.4 L1614.6,32.4 L1614.9,34.3 L1615.3,36.3 L1615.6,38.3 L1615.9,40.2 L1616.3,42.2 L1616.6,44.2 L1616.9,46.2 L1617.3,48.1 L1617.6,50.1 L1617.9,52.1 L1618.3,54.0 L1618.6,56.0 L1619.0,58.0 L1619.3,60.0 L1619.6,61.9 L1620.0,63.9 L1620.3,65.9 L1620.6,67.8 L1621.0,69.8 L1621.3,71.8 L1621.6,73.8 L1622.0,75.7 L1622.3,77.7 L1622.6,79.7 L1623.0,81.6 L1623.3,83.6 L1623.6,85.6 L1623.9,87.6 L1624.3,89.5 L1624.6,91.5 L1624.9,93.5 L1625.3,95.5 L1625.6,97.4 L1625.9,99.4 L1626.2,101.4 L1626.6,103.3 L1626.9,105.3 L1627.2,107.3 L1627.6,109.3 L1627.9,111.2 L1628.2,113.2 L1628.5,115.2 L1628.8,117.2 L1629.2,119.1 L1629.5,121.1 L1629.8,123.1 L1630.1,125.1 L1630.4,127.0 L1630.8,129.0 L1631.1,131.0 L1631.4,133.0 L1631.7,134.9 L1632.0,136.9 L1632.3,138.9 L1632.6,140.9 L1632.9,142.8 L1633.3,144.8 L1633.6,146.8 L1633.9,148.8 L1634.2,150.7 L1634.5,152.7 L1634.8,154.7 L1635.1,156.7 L1635.4,158.6 L1635.7,160.6 L1636.0,162.6 L1636.3,164.6 L1636.6,166.6 L1636.9,168.5 L1637.2,170.5 L1637.5,172.5 L1637.8,174.5 L1638.1,176.4 L1638.4,178.4 L1638.7,180.4 L1639.0,182.4 L1639.3,184.4 L1639.6,186.3 L1639.9,188.3 L1640.2,190.3 L1640.5,192.3 L1640.7,194.2 L1641.0,196.2 L1641.3,198.2 L1641.6,200.2 L1641.9,202.2 L1642.2,204.1 L1642.5,206.1 L1642.8,208.1 L1643.1,210.1 L1643.4,212.1 L1643.6,214.0 L1643.9,216.0 L1644.2,218.0 L1644.5,220.0 L1644.8,222.0 L1645.1,223.9 L1645.4,225.9 L1645.7,227.9 L1645.9,229.9 L1646.2,231.9 L1646.5,233.8 L1646.8,235.8 L1647.1,237.8 L1647.4,239.8 L1647.7,241.7 L1647.9,243.7 L1648.2,245.7 L1648.5,247.7 L1648.8,249.7 L1649.1,251.6 L1649.4,253.6 L1649.7,255.6 L1649.9,257.6 L1650.2,259.6 L1650.5,261.5 L1650.8,263.5 L1651.1,265.5 L1651.4,267.5 L1651.7,269.5 L1651.9,271.4 L1652.2,273.4 L1652.5,275.4 L1652.8,277.4 L1653.1,279.4 L1653.4,281.3 L1653.7,283.3 L1653.9,285.3 L1654.2,287.3 L1654.5,289.3 L1654.8,291.2 L1655.1,293.2 L1655.4,295.2 L1655.7,297.2 L1656.0,299.2 L1656.2,301.1 L1656.5,303.1 L1656.8,305.1 L1657.1,307.1 L1657.4,309.0 L1657.7,311.0 L1658.0,313.0 L1658.3,315.0 L1658.6,317.0 L1658.9,318.9 L1659.1,320.9 L1659.4,322.9 L1659.7,324.9 L1660.0,326.9 L1660.3,328.8 L1660.6,330.8 L1660.9,332.8 L1661.2,334.8 L1661.5,336.7 L1661.8,338.7 L1662.1,340.7 L1662.4,342.7 L1662.7,344.7 L1663.0,346.6 L1663.3,348.6 L1663.6,350.6 L1663.9,352.6 L1664.2,354.5 L1664.5,356.5 L1664.8,358.5 L1665.1,360.5 L1665.4,362.5 L1665.7,364.4 L1666.0,366.4 L1666.3,368.4 L1666.6,370.4 L1666.9,372.3 L1667.2,374.3 L1667.5,376.3 L1667.8,378.3 L1668.1,380.2 L1668.4,382.2 L1668.8,384.2 L1669.1,386.2 L1669.4,388.1 L1669.7,390.1 L1670.0,392.1 L1670.3,394.1 L1670.6,396.0 L1670.9,398.0 L1671.3,400.0 L1671.6,402.0 L1671.9,403.9 L1672.2,405.9 L1672.5,407.9 L1672.8,409.9 L1673.2,411.8 L1673.5,413.8 L1673.8,415.8 L1674.1,417.8 L1674.4,419.7 L1674.8,421.7 L1675.1,423.7 L1675.4,425.7 L1675.7,427.6 L1676.1,429.6 L1676.4,431.6 L1676.7,433.6 L1677.0,435.5 L1677.4,437.5 L1677.7,439.5 L1678.0,441.4 L1678.4,443.4 L1678.7,445.4 L1679.0,447.4 L1679.4,449.3 L1679.7,451.3 L1680.0,453.3 L1680.4,455.2 L1680.7,457.2 L1681.1,459.2 L1681.4,461.2 L1681.7,463.1 L1682.1,465.1 L1682.4,467.1 L1682.8,469.0 L1683.1,471.0 L1683.5,473.0 L1683.8,475.0 L1684.2,476.9 L1684.5,478.9 L1684.9,480.9 L1685.2,482.8 L1685.6,484.8 L1685.9,486.8 L1686.3,488.7 L1686.6,490.7 L1687.0,492.7 L1687.3,494.6 L1687.7,496.6 L1688.0,498.6 L1688.4,500.5 L1688.8,502.5 L1689.1,504.5 L1689.5,506.4 L1689.9,508.4 L1690.2,510.4 L1690.6,512.3 L1691.0,514.3 L1691.3,516.3 L1691.7,518.2 L1692.1,520.2 L1692.5,522.2 L1692.8,524.1 L1693.2,526.1 L1693.6,528.1 L1694.0,530.0 L1694.3,532.0 L1694.7,534.0 L1695.1,535.9 L1695.5,537.9 L1695.9,539.8 L1696.3,541.8 L1696.7,543.8 L1697.0,545.7 L1697.4,547.7 L1697.8,549.6 L1698.2,551.6 L1698.6,553.6 L1699.0,555.5 L1699.4,557.5 L1699.8,559.4 L1700.2,561.4 L1700.6,563.4 L1701.0,565.3 L1701.4,567.3 L1701.8,569.2 L1702.2,571.2 L1702.6,573.2 L1703.1,575.1 L1703.5,577.1 L1703.9,579.0 L1704.3,581.0 L1704.7,582.9 L1705.1,584.9 L1705.6,586.9 L1706.0,588.8 L1706.4,590.8 L1706.8,592.7 L1707.2,594.7 L1707.7,596.6 L1708.1,598.6 L1708.5,600.5 L1709.0,602.5 L1709.4,604.4 L1709.8,606.4 L1710.3,608.3 L1710.7,610.3 L1711.2,612.2 L1711.6,614.2 L1712.0,616.1 L1712.5,618.1 L1712.9,620.0 L1713.4,622.0 L1713.8,623.9 L1714.3,625.9 L1714.7,627.8 L1715.2,629.8 L1715.7,631.7 L1716.1,633.7 L1716.6,635.6 L1717.0,637.6 L1717.5,639.5 L1718.0,641.5 L1718.4,643.4 L1718.9,645.3 L1719.4,647.3 L1719.9,649.2 L1720.3,651.2 L1720.8,653.1 L1721.3,655.1 L1721.8,657.0 L1722.2,658.9 L1722.7,660.9 L1723.2,662.8 L1723.7,664.8 L1724.2,666.7 L1724.7,668.6 L1725.2,670.6 L1725.7,672.5 L1726.2,674.5 L1726.7,676.4 L1727.2,678.3 L1727.7,680.3 L1728.2,682.2 L1728.7,684.1 L1729.2,686.1 L1729.7,688.0 L1730.2,689.9 L1730.8,691.9 L1731.3,693.8 L1731.8,695.7 L1732.3,697.7 L1732.8,699.6 L1733.4,701.5 L1733.9,703.4 L1734.4,705.4 L1735.0,707.3 L1735.5,709.2 L1736.1,711.1 L1736.6,713.1 L1737.2,715.0 L1737.7,716.9 L1738.3,718.8 L1738.8,720.8 L1739.4,722.7 L1740.0,724.6 L1740.5,726.5 L1741.1,728.4 L1741.7,730.3 L1742.2,732.3 L1742.8,734.2 L1743.4,736.1 L1744.0,738.0 L1744.6,739.9 L1745.2,741.8 L1745.8,743.7 L1746.4,745.6 L1747.0,747.5 L1747.6,749.4 L1748.2,751.3 L1748.8,753.2 L1749.4,755.2 L1750.1,757.1 L1750.7,759.0 L1751.3,760.8 L1752.0,762.7 L1752.6,764.6 L1753.2,766.5 L1753.9,768.4 L1754.5,770.3 L1755.2,772.2 L1755.8,774.1 L1756.5,776.0 L1757.2,777.9 L1757.8,779.8 L1758.5,781.6 L1759.2,783.5 L1759.9,785.4 L1760.6,787.3 L1761.3,789.2 L1762.0,791.0 L1762.7,792.9 L1763.4,794.8 L1764.1,796.6 L1764.8,798.5 L1765.5,800.4 L1766.2,802.2 L1767.0,804.1 L1767.7,806.0 L1768.4,807.8 L1769.2,809.7 L1769.9,811.5 L1770.7,813.4 L1771.5,815.2 L1772.2,817.1 L1773.0,818.9 L1773.8,820.8 L1774.5,822.6 L1775.3,824.5 L1776.1,826.3 L1776.9,828.1 L1777.7,830.0 L1778.5,831.8 L1779.3,833.6 L1780.1,835.4 L1781.0,837.3 L1781.8,839.1 L1782.6,840.9 L1783.5,842.7 L1784.3,844.5 L1785.2,846.3 L1786.0,848.2 L1786.9,850.0 L1787.7,851.8 L1788.6,853.6 L1789.5,855.4 L1790.4,857.2 L1791.3,858.9 L1792.2,860.7 L1793.1,862.5 L1794.0,864.3 L1794.9,866.1 L1795.8,867.9 L1796.7,869.6 L1797.6,871.4 L1798.6,873.2 L1799.5,874.9 L1800.5,876.7 L1801.4,878.4 L1802.4,880.2 L1803.4,882.0 L1804.3,883.7 L1805.3,885.4 L1806.3,887.2 L1807.3,888.9 L1808.3,890.7 L1809.3,892.4 L1810.3,894.1 L1811.3,895.8 L1812.4,897.5 L1813.4,899.3 L1814.4,901.0 L1815.5,902.7 L1816.5,904.4 L1817.6,906.1 L1818.6,907.8 L1819.7,909.4 L1820.8,911.1 L1821.9,912.8 L1823.0,914.5 L1824.1,916.1 L1825.2,917.8 L1826.4,919.4 L1827.5,921.1 L1828.6,922.7 L1829.8,924.4 L1831.0,926.0 L1832.1,927.6 L1833.3,929.2 L1834.5,930.8 L1835.7,932.4 L1836.9,934.0 L1838.2,935.6 L1839.4,937.2 L1840.6,938.7 L1841.9,940.3 L1843.2,941.8 L1844.5,943.4 L1845.7,944.9 L1847.1,946.4 L1848.4,947.9 L1849.7,949.4 L1851.0,950.9 L1852.4,952.4 L1853.8,953.8 L1855.1,955.3 L1856.5,956.7 L1857.9,958.1 L1859.3,959.5 L1860.8,960.9 L1862.2,962.3 L1863.7,963.7 L1865.1,965.1 L1866.6,966.4 L1868.1,967.8 L1869.6,969.1 L1871.1,970.4 L1872.6,971.7 L1874.2,972.9 L1875.7,974.2 L1877.3,975.4 L1878.9,976.7 L1880.5,977.9 L1882.1,979.1 L1883.7,980.2 L1885.3,981.4 L1887.0,982.5 L1888.6,983.7 L1890.3,984.8 L1892.0,985.9 L1893.7,986.9 L1895.4,988.0 L1897.1,989.0 L1898.8,990.0 L1899.5,990.4" fill="none" stroke="#30408c" stroke-width="10.0" stroke-linecap="round" stroke-linejoin="round" stroke-dasharray="26.5 56.25" stroke-dashoffset="66.5"/>
<path d="M1164.3,1037.0 L1166.3,1037.5 L1168.2,1038.0 L1170.2,1038.4 L1172.1,1038.8 L1174.1,1039.2 L1176.0,1039.6 L1178.0,1039.9 L1180.0,1040.2 L1182.0,1040.4 L1184.0,1040.7 L1186.0,1040.9 L1188.0,1041.0 L1189.9,1041.2 L1191.9,1041.3 L1193.9,1041.4 L1195.9,1041.4 L1197.9,1041.4 L1199.9,1041.4 L1201.9,1041.4 L1203.9,1041.3 L1205.9,1041.2 L1207.9,1041.1 L1209.9,1040.9 L1211.9,1040.7 L1213.9,1040.5 L1215.9,1040.3 L1217.9,1040.0 L1219.8,1039.7 L1221.8,1039.4 L1223.8,1039.0 L1225.8,1038.7 L1227.7,1038.2 L1229.7,1037.8 L1231.6,1037.4 L1233.6,1036.9 L1235.5,1036.4 L1237.4,1035.9 L1239.3,1035.3 L1241.3,1034.7 L1243.2,1034.1 L1245.1,1033.5 L1247.0,1032.9 L1248.9,1032.2 L1250.7,1031.6 L1252.6,1030.9 L1254.5,1030.2 L1256.4,1029.5 L1258.2,1028.7 L1260.1,1028.0 L1261.9,1027.2 L1263.8,1026.4 L1265.6,1025.6 L1267.4,1024.8 L1269.2,1024.0 L1271.1,1023.1 L1272.9,1022.3 L1274.7,1021.4 L1276.5,1020.5 L1278.3,1019.6 L1280.0,1018.7 L1281.8,1017.8 L1283.6,1016.9 L1285.4,1016.0 L1287.1,1015.1 L1288.9,1014.1 L1290.7,1013.2 L1292.4,1012.2 L1294.2,1011.3 L1295.9,1010.3 L1297.7,1009.3 L1299.4,1008.4 L1301.2,1007.4 L1302.9,1006.4 L1304.6,1005.4 L1306.4,1004.4 L1308.1,1003.4 L1309.8,1002.4 L1311.6,1001.4 L1313.3,1000.4 L1315.0,999.4 L1316.8,998.4 L1318.5,997.3 L1320.2,996.3 L1321.9,995.3 L1323.6,994.3 L1325.4,993.3 L1327.1,992.3 L1328.8,991.2 L1330.5,990.2 L1332.2,989.2 L1334.0,988.2 L1335.7,987.2 L1337.4,986.2 L1339.1,985.1 L1340.9,984.1 L1342.6,983.1 L1344.3,982.1 L1346.1,981.1 L1347.8,980.1 L1349.5,979.1 L1351.3,978.1 L1353.0,977.2 L1354.8,976.2 L1356.5,975.2 L1358.2,974.2 L1360.0,973.3 L1361.8,972.3 L1363.5,971.4 L1365.3,970.4 L1367.0,969.5 L1368.8,968.6 L1370.6,967.6 L1372.4,966.7 L1374.2,965.8 L1375.9,964.9 L1377.7,964.0 L1379.5,963.2 L1381.3,962.3 L1383.1,961.4 L1385.0,960.6 L1386.8,959.8 L1388.6,958.9 L1390.4,958.1 L1392.3,957.3 L1394.1,956.6 L1396.0,955.8 L1397.8,955.0 L1399.7,954.3 L1401.5,953.6 L1403.4,952.9 L1405.3,952.2 L1407.2,951.5 L1409.1,950.9 L1411.0,950.2 L1412.9,949.6 L1414.8,949.0 L1416.7,948.4 L1418.6,947.8 L1420.5,947.3 L1422.4,946.7 L1424.4,946.2 L1426.3,945.7 L1428.2,945.2 L1430.2,944.7 L1432.1,944.2 L1434.1,943.8 L1436.0,943.4 L1438.0,943.0 L1439.9,942.6 L1441.9,942.2 L1443.9,941.8 L1445.8,941.5 L1447.8,941.2 L1449.8,940.9 L1451.8,940.6 L1453.8,940.3 L1455.7,940.0 L1457.7,939.8 L1459.7,939.6 L1461.7,939.4 L1463.7,939.2 L1465.7,939.0 L1467.7,938.8 L1469.7,938.7 L1471.7,938.6 L1473.7,938.5 L1475.7,938.4 L1477.7,938.3 L1479.7,938.2 L1481.7,938.2 L1483.7,938.2 L1485.7,938.2 L1487.7,938.2 L1489.7,938.2 L1491.7,938.3 L1493.7,938.3 L1495.7,938.4 L1497.7,938.5 L1499.7,938.6 L1501.6,938.7 L1503.6,938.8 L1505.6,939.0 L1507.6,939.2 L1509.6,939.3 L1511.6,939.5 L1513.6,939.7 L1515.6,940.0 L1517.6,940.2 L1519.6,940.4 L1521.5,940.7 L1523.5,941.0 L1525.5,941.3 L1527.5,941.6 L1529.5,941.9 L1531.4,942.2 L1533.4,942.5 L1535.4,942.9 L1537.3,943.2 L1539.3,943.6 L1541.3,944.0 L1543.2,944.3 L1545.2,944.7 L1547.2,945.1 L1549.1,945.6 L1551.1,946.0 L1553.0,946.4 L1555.0,946.8 L1556.9,947.3 L1558.9,947.8 L1560.8,948.2 L1562.8,948.7 L1564.7,949.2 L1566.6,949.6 L1568.6,950.1 L1570.5,950.6 L1572.5,951.1 L1574.4,951.7 L1576.3,952.2 L1578.2,952.7 L1580.2,953.2 L1582.1,953.8 L1584.0,954.3 L1586.0,954.9 L1587.9,955.4 L1589.8,956.0 L1591.7,956.5 L1593.6,957.1 L1595.6,957.6 L1597.5,958.2 L1599.4,958.8 L1601.3,959.4 L1603.2,960.0 L1605.1,960.5 L1607.0,961.1 L1608.9,961.7 L1610.9,962.3 L1612.8,962.9 L1614.7,963.5 L1616.6,964.1 L1618.5,964.7 L1620.4,965.3 L1622.3,965.9 L1624.2,966.5 L1626.1,967.1 L1628.0,967.8 L1629.9,968.4 L1631.8,969.0 L1633.7,969.6 L1635.6,970.2 L1637.5,970.8 L1639.4,971.4 L1641.3,972.0 L1643.2,972.6 L1645.2,973.3 L1647.1,973.9 L1649.0,974.5 L1650.9,975.1 L1652.8,975.7 L1654.7,976.3 L1656.6,976.9 L1658.5,977.5 L1660.4,978.1 L1662.3,978.7 L1664.2,979.3 L1666.1,979.9 L1668.0,980.5 L1670.0,981.0 L1671.9,981.6 L1673.8,982.2 L1675.7,982.8 L1677.6,983.3 L1679.5,983.9 L1681.5,984.5 L1683.4,985.0 L1685.3,985.6 L1687.2,986.1 L1689.1,986.7 L1691.1,987.2 L1693.0,987.7 L1694.9,988.3 L1696.9,988.8 L1698.8,989.3 L1700.7,989.8 L1702.7,990.3 L1704.6,990.8 L1706.5,991.3 L1708.5,991.8 L1710.4,992.3 L1712.4,992.8 L1714.3,993.3 L1716.2,993.7 L1718.2,994.2 L1720.1,994.6 L1722.1,995.1 L1724.0,995.5 L1726.0,996.0 L1727.9,996.4 L1729.9,996.8 L1731.8,997.3 L1733.8,997.7 L1735.8,998.1 L1737.7,998.5 L1739.7,998.9 L1741.6,999.3 L1743.6,999.7 L1745.6,1000.1 L1747.5,1000.5 L1749.5,1000.9 L1751.4,1001.2 L1753.4,1001.6 L1755.4,1002.0 L1757.3,1002.3 L1759.3,1002.7 L1761.3,1003.0 L1763.3,1003.4 L1765.2,1003.7 L1767.2,1004.1 L1769.2,1004.4 L1771.1,1004.7 L1773.1,1005.0 L1775.1,1005.4 L1777.1,1005.7 L1779.0,1006.0 L1781.0,1006.3 L1783.0,1006.6 L1785.0,1006.9 L1787.0,1007.2 L1788.9,1007.4 L1790.9,1007.7 L1792.9,1008.0 L1794.9,1008.3 L1796.9,1008.5 L1798.8,1008.8 L1800.8,1009.0 L1802.8,1009.3 L1804.8,1009.5 L1806.8,1009.8 L1808.8,1010.0 L1810.8,1010.3 L1812.7,1010.5 L1814.7,1010.7 L1816.7,1011.0 L1818.7,1011.2 L1820.7,1011.4 L1822.7,1011.6 L1824.7,1011.8 L1826.7,1012.0 L1828.6,1012.2 L1830.6,1012.4 L1832.6,1012.6 L1834.6,1012.8 L1836.6,1013.0 L1838.6,1013.2 L1840.6,1013.4 L1842.6,1013.5 L1844.6,1013.7 L1846.6,1013.9 L1848.6,1014.0 L1850.6,1014.2 L1852.6,1014.4 L1854.5,1014.5 L1856.5,1014.7 L1858.5,1014.8 L1860.5,1015.0 L1862.5,1015.1 L1864.5,1015.2 L1866.5,1015.4 L1868.5,1015.5 L1870.5,1015.7 L1872.5,1015.8 L1874.5,1015.9 L1876.5,1016.0 L1878.5,1016.1 L1880.5,1016.3 L1882.5,1016.4 L1884.5,1016.5 L1886.5,1016.6 L1888.5,1016.7 L1890.5,1016.8 L1892.5,1016.9 L1894.5,1017.0 L1896.5,1017.1 L1898.5,1017.2 L1900.0,1017.3" fill="none" stroke="#ff4521" stroke-width="10.0" stroke-linecap="round" stroke-linejoin="round" stroke-dasharray="26.5 57.0" stroke-dashoffset="42.0"/>
<path d="M1164.2,1029.9 L1166.2,1030.4 L1168.1,1030.9 L1170.1,1031.3 L1172.0,1031.7 L1174.0,1032.1 L1175.9,1032.5 L1177.9,1032.9 L1179.9,1033.2 L1181.9,1033.5 L1183.8,1033.8 L1185.8,1034.0 L1187.8,1034.3 L1189.8,1034.5 L1191.8,1034.6 L1193.8,1034.8 L1195.8,1034.9 L1197.8,1035.0 L1199.8,1035.1 L1201.8,1035.1 L1203.8,1035.1 L1205.8,1035.1 L1207.8,1035.0 L1209.8,1034.9 L1211.8,1034.8 L1213.8,1034.7 L1215.8,1034.5 L1217.7,1034.3 L1219.7,1034.0 L1221.7,1033.8 L1223.7,1033.5 L1225.7,1033.1 L1227.6,1032.7 L1229.6,1032.3 L1231.5,1031.9 L1233.5,1031.5 L1235.4,1031.0 L1237.4,1030.4 L1239.3,1029.9 L1241.2,1029.3 L1243.1,1028.6 L1245.0,1028.0 L1246.9,1027.3 L1248.7,1026.6 L1250.6,1025.9 L1252.4,1025.1 L1254.3,1024.3 L1256.1,1023.5 L1257.9,1022.7 L1259.8,1021.9 L1261.6,1021.0 L1263.4,1020.2 L1265.2,1019.3 L1266.9,1018.4 L1268.7,1017.5 L1270.5,1016.5 L1272.3,1015.6 L1274.0,1014.7 L1275.8,1013.7 L1277.6,1012.8 L1279.3,1011.8 L1281.1,1010.9 L1282.8,1009.9 L1284.6,1008.9 L1286.3,1008.0 L1288.1,1007.0 L1289.8,1006.0 L1291.6,1005.1 L1293.3,1004.1 L1295.1,1003.1 L1296.8,1002.2 L1298.6,1001.2 L1300.4,1000.3 L1302.1,999.3 L1303.9,998.4 L1305.7,997.5 L1307.4,996.5 L1309.2,995.6 L1311.0,994.7 L1312.8,993.8 L1314.5,992.9 L1316.3,992.0 L1318.1,991.1 L1319.9,990.2 L1321.7,989.3 L1323.5,988.4 L1325.3,987.6 L1327.1,986.7 L1328.9,985.9 L1330.7,985.0 L1332.5,984.2 L1334.3,983.3 L1336.2,982.5 L1338.0,981.6 L1339.8,980.8 L1341.6,980.0 L1343.5,979.2 L1345.3,978.4 L1347.1,977.6 L1349.0,976.8 L1350.8,976.0 L1352.7,975.3 L1354.5,974.5 L1356.4,973.7 L1358.2,973.0 L1360.1,972.2 L1361.9,971.5 L1363.8,970.8 L1365.7,970.1 L1367.5,969.4 L1369.4,968.6 L1371.3,968.0 L1373.2,967.3 L1375.0,966.6 L1376.9,965.9 L1378.8,965.3 L1380.7,964.6 L1382.6,964.0 L1384.5,963.3 L1386.4,962.7 L1388.3,962.1 L1390.2,961.5 L1392.1,960.9 L1394.0,960.3 L1395.9,959.7 L1397.8,959.2 L1399.8,958.6 L1401.7,958.1 L1403.6,957.5 L1405.6,957.0 L1407.5,956.5 L1409.4,956.0 L1411.4,955.5 L1413.3,955.0 L1415.2,954.5 L1417.2,954.1 L1419.1,953.6 L1421.1,953.2 L1423.0,952.8 L1425.0,952.4 L1427.0,952.0 L1428.9,951.6 L1430.9,951.2 L1432.9,950.8 L1434.8,950.5 L1436.8,950.1 L1438.8,949.8 L1440.7,949.5 L1442.7,949.2 L1444.7,948.9 L1446.7,948.7 L1448.7,948.4 L1450.7,948.2 L1452.6,947.9 L1454.6,947.7 L1456.6,947.5 L1458.6,947.4 L1460.6,947.2 L1462.6,947.0 L1464.6,946.9 L1466.6,946.8 L1468.6,946.7 L1470.6,946.6 L1472.6,946.5 L1474.6,946.4 L1476.6,946.4 L1478.6,946.4 L1480.6,946.4 L1482.6,946.4 L1484.6,946.4 L1486.6,946.4 L1488.6,946.5 L1490.6,946.6 L1492.6,946.7 L1494.6,946.8 L1496.6,946.9 L1498.6,947.0 L1500.6,947.2 L1502.6,947.4 L1504.5,947.5 L1506.5,947.7 L1508.5,948.0 L1510.5,948.2 L1512.5,948.4 L1514.5,948.7 L1516.5,949.0 L1518.4,949.3 L1520.4,949.6 L1522.4,949.9 L1524.4,950.2 L1526.3,950.5 L1528.3,950.9 L1530.3,951.2 L1532.2,951.6 L1534.2,952.0 L1536.2,952.4 L1538.1,952.8 L1540.1,953.2 L1542.0,953.6 L1544.0,954.1 L1545.9,954.5 L1547.9,955.0 L1549.8,955.4 L1551.8,955.9 L1553.7,956.4 L1555.6,956.9 L1557.6,957.4 L1559.5,957.9 L1561.5,958.4 L1563.4,958.9 L1565.3,959.4 L1567.2,960.0 L1569.2,960.5 L1571.1,961.1 L1573.0,961.6 L1574.9,962.2 L1576.9,962.7 L1578.8,963.3 L1580.7,963.9 L1582.6,964.5 L1584.5,965.1 L1586.4,965.7 L1588.3,966.2 L1590.2,966.8 L1592.1,967.5 L1594.0,968.1 L1596.0,968.7 L1597.9,969.3 L1599.8,969.9 L1601.7,970.5 L1603.6,971.2 L1605.5,971.8 L1607.4,972.4 L1609.3,973.0 L1611.1,973.7 L1613.0,974.3 L1614.9,975.0 L1616.8,975.6 L1618.7,976.2 L1620.6,976.9 L1622.5,977.5 L1624.4,978.2 L1626.3,978.8 L1628.2,979.4 L1630.1,980.1 L1632.0,980.7 L1633.9,981.4 L1635.8,982.0 L1637.7,982.7 L1639.6,983.3 L1641.5,984.0 L1643.3,984.6 L1645.2,985.2 L1647.1,985.9 L1649.0,986.5 L1650.9,987.1 L1652.8,987.8 L1654.7,988.4 L1656.6,989.0 L1658.5,989.7 L1660.4,990.3 L1662.3,990.9 L1664.2,991.5 L1666.1,992.1 L1668.0,992.7 L1670.0,993.3 L1671.9,993.9 L1673.8,994.5 L1675.7,995.1 L1677.6,995.7 L1679.5,996.3 L1681.4,996.9 L1683.3,997.4 L1685.3,998.0 L1687.2,998.5 L1689.1,999.1 L1691.0,999.6 L1692.9,1000.2 L1694.9,1000.7 L1696.8,1001.2 L1698.7,1001.8 L1700.7,1002.3 L1702.6,1002.8 L1704.5,1003.3 L1706.5,1003.8 L1708.4,1004.3 L1710.4,1004.7 L1712.3,1005.2 L1714.3,1005.7 L1716.2,1006.1 L1718.1,1006.6 L1720.1,1007.0 L1722.0,1007.5 L1724.0,1007.9 L1726.0,1008.3 L1727.9,1008.7 L1729.9,1009.2 L1731.8,1009.6 L1733.8,1010.0 L1735.7,1010.4 L1737.7,1010.7 L1739.7,1011.1 L1741.6,1011.5 L1743.6,1011.9 L1745.6,1012.2 L1747.5,1012.6 L1749.5,1012.9 L1751.5,1013.3 L1753.5,1013.6 L1755.4,1013.9 L1757.4,1014.2 L1759.4,1014.6 L1761.3,1014.9 L1763.3,1015.2 L1765.3,1015.5 L1767.3,1015.8 L1769.3,1016.1 L1771.2,1016.3 L1773.2,1016.6 L1775.2,1016.9 L1777.2,1017.1 L1779.2,1017.4 L1781.2,1017.7 L1783.1,1017.9 L1785.1,1018.1 L1787.1,1018.4 L1789.1,1018.6 L1791.1,1018.8 L1793.1,1019.1 L1795.1,1019.3 L1797.1,1019.5 L1799.0,1019.7 L1801.0,1019.9 L1803.0,1020.1 L1805.0,1020.3 L1807.0,1020.4 L1809.0,1020.6 L1811.0,1020.8 L1813.0,1020.9 L1815.0,1021.1 L1817.0,1021.3 L1819.0,1021.4 L1821.0,1021.6 L1823.0,1021.7 L1824.9,1021.8 L1826.9,1022.0 L1828.9,1022.1 L1830.9,1022.2 L1832.9,1022.3 L1834.9,1022.5 L1836.9,1022.6 L1838.9,1022.7 L1840.9,1022.8 L1842.9,1022.9 L1844.9,1023.0 L1846.9,1023.1 L1848.9,1023.1 L1850.9,1023.2 L1852.9,1023.3 L1854.9,1023.4 L1856.9,1023.4 L1858.9,1023.5 L1860.9,1023.6 L1862.9,1023.6 L1864.9,1023.7 L1866.9,1023.7 L1868.9,1023.8 L1870.9,1023.8 L1872.9,1023.9 L1874.9,1023.9 L1876.9,1023.9 L1878.9,1024.0 L1880.9,1024.0 L1882.9,1024.0 L1884.9,1024.0 L1886.9,1024.0 L1888.9,1024.1 L1890.9,1024.1 L1892.9,1024.1 L1894.9,1024.1 L1896.9,1024.1 L1898.9,1024.1 L1900.0,1024.1" fill="none" stroke="#53b848" stroke-width="10.0" stroke-linecap="round" stroke-linejoin="round" stroke-dasharray="26.5 56.75" stroke-dashoffset="42.5"/>
<path d="M1164.8,1047.0 L1166.8,1047.1 L1168.8,1047.1 L1170.7,1047.2 L1172.7,1047.3 L1174.7,1047.4 L1176.7,1047.5 L1178.7,1047.5 L1180.7,1047.6 L1182.7,1047.7 L1184.7,1047.8 L1186.7,1047.9 L1188.7,1047.9 L1190.7,1048.0 L1192.7,1048.1 L1194.7,1048.2 L1196.7,1048.2 L1198.7,1048.3 L1200.7,1048.4 L1202.7,1048.5 L1204.7,1048.6 L1206.7,1048.6 L1208.7,1048.7 L1210.7,1048.8 L1212.7,1048.9 L1214.7,1048.9 L1216.7,1049.0 L1218.7,1049.1 L1220.7,1049.2 L1222.7,1049.3 L1224.7,1049.3 L1226.7,1049.4 L1228.7,1049.5 L1230.7,1049.6 L1232.7,1049.6 L1234.7,1049.7 L1236.7,1049.8 L1238.7,1049.9 L1240.7,1049.9 L1242.7,1050.0 L1244.7,1050.1 L1246.7,1050.2 L1248.7,1050.2 L1250.7,1050.3 L1252.7,1050.4 L1254.7,1050.4 L1256.7,1050.5 L1258.7,1050.6 L1260.7,1050.7 L1262.7,1050.7 L1264.7,1050.8 L1266.7,1050.9 L1268.7,1050.9 L1270.7,1051.0 L1272.7,1051.1 L1274.7,1051.2 L1276.7,1051.2 L1278.7,1051.3 L1280.7,1051.4 L1282.7,1051.4 L1284.7,1051.5 L1286.7,1051.6 L1288.7,1051.6 L1290.7,1051.7 L1292.7,1051.8 L1294.7,1051.8 L1296.7,1051.9 L1298.7,1051.9 L1300.7,1052.0 L1302.7,1052.1 L1304.7,1052.1 L1306.7,1052.2 L1308.7,1052.2 L1310.7,1052.3 L1312.7,1052.4 L1314.7,1052.4 L1316.7,1052.5 L1318.7,1052.5 L1320.7,1052.6 L1322.7,1052.6 L1324.7,1052.7 L1326.7,1052.8 L1328.6,1052.8 L1330.6,1052.9 L1332.6,1052.9 L1334.6,1053.0 L1336.6,1053.0 L1338.6,1053.1 L1340.6,1053.1 L1342.6,1053.2 L1344.6,1053.2 L1346.6,1053.3 L1348.6,1053.3 L1350.6,1053.4 L1352.6,1053.4 L1354.6,1053.4 L1356.6,1053.5 L1358.6,1053.5 L1360.6,1053.6 L1362.6,1053.6 L1364.6,1053.6 L1366.6,1053.7 L1368.6,1053.7 L1370.6,1053.8 L1372.6,1053.8 L1374.6,1053.8 L1376.6,1053.9 L1378.6,1053.9 L1380.6,1053.9 L1382.6,1054.0 L1384.6,1054.0 L1386.6,1054.0 L1388.6,1054.1 L1390.6,1054.1 L1392.6,1054.1 L1394.6,1054.1 L1396.6,1054.2 L1398.6,1054.2 L1400.6,1054.2 L1402.6,1054.2 L1404.6,1054.3 L1406.6,1054.3 L1408.6,1054.3 L1410.6,1054.3 L1412.6,1054.3 L1414.6,1054.3 L1416.6,1054.4 L1418.6,1054.4 L1420.6,1054.4 L1422.6,1054.4 L1424.6,1054.4 L1426.6,1054.4 L1428.6,1054.4 L1430.6,1054.4 L1432.6,1054.4 L1434.6,1054.4 L1436.6,1054.4 L1438.6,1054.4 L1440.6,1054.4 L1442.6,1054.4 L1444.6,1054.4 L1446.6,1054.4 L1448.6,1054.4 L1450.6,1054.4 L1452.6,1054.4 L1454.6,1054.4 L1456.6,1054.4 L1458.6,1054.4 L1460.6,1054.4 L1462.6,1054.4 L1464.6,1054.4 L1466.6,1054.3 L1468.6,1054.3 L1470.6,1054.3 L1472.6,1054.3 L1474.6,1054.3 L1476.6,1054.2 L1478.6,1054.2 L1480.6,1054.2 L1482.6,1054.2 L1484.6,1054.1 L1486.6,1054.1 L1488.6,1054.1 L1490.6,1054.0 L1492.6,1054.0 L1494.6,1054.0 L1496.6,1053.9 L1498.6,1053.9 L1500.6,1053.9 L1502.6,1053.8 L1504.6,1053.8 L1506.6,1053.7 L1508.6,1053.7 L1510.6,1053.6 L1512.6,1053.6 L1514.6,1053.5 L1516.6,1053.5 L1518.6,1053.4 L1520.6,1053.4 L1522.6,1053.3 L1524.6,1053.3 L1526.6,1053.2 L1528.6,1053.2 L1530.6,1053.1 L1532.6,1053.0 L1534.6,1053.0 L1536.6,1052.9 L1538.6,1052.8 L1540.6,1052.8 L1542.6,1052.7 L1544.6,1052.6 L1546.6,1052.5 L1548.6,1052.5 L1550.6,1052.4 L1552.6,1052.3 L1554.6,1052.2 L1556.6,1052.1 L1558.6,1052.0 L1560.6,1052.0 L1562.6,1051.9 L1564.6,1051.8 L1566.6,1051.7 L1568.6,1051.6 L1570.6,1051.5 L1572.6,1051.4 L1574.6,1051.3 L1576.6,1051.2 L1578.6,1051.1 L1580.6,1051.0 L1582.6,1050.9 L1584.6,1050.8 L1586.6,1050.7 L1588.6,1050.6 L1590.6,1050.5 L1592.6,1050.4 L1594.6,1050.2 L1596.6,1050.1 L1598.5,1050.0 L1600.5,1049.9 L1602.5,1049.8 L1604.5,1049.7 L1606.5,1049.5 L1608.5,1049.4 L1610.5,1049.3 L1612.5,1049.2 L1614.5,1049.1 L1616.5,1048.9 L1618.5,1048.8 L1620.5,1048.7 L1622.5,1048.5 L1624.5,1048.4 L1626.5,1048.3 L1628.5,1048.2 L1630.5,1048.0 L1632.5,1047.9 L1634.5,1047.8 L1636.5,1047.6 L1638.5,1047.5 L1640.5,1047.3 L1642.5,1047.2 L1644.5,1047.1 L1646.4,1046.9 L1648.4,1046.8 L1650.4,1046.6 L1652.4,1046.5 L1654.4,1046.4 L1656.4,1046.2 L1658.4,1046.1 L1660.4,1045.9 L1662.4,1045.8 L1664.4,1045.6 L1666.4,1045.5 L1668.4,1045.3 L1670.4,1045.2 L1672.4,1045.0 L1674.4,1044.9 L1676.4,1044.7 L1678.4,1044.6 L1680.4,1044.4 L1682.3,1044.3 L1684.3,1044.1 L1686.3,1043.9 L1688.3,1043.8 L1690.3,1043.6 L1692.3,1043.5 L1694.3,1043.3 L1696.3,1043.2 L1698.3,1043.0 L1700.3,1042.8 L1702.3,1042.7 L1704.3,1042.5 L1706.3,1042.4 L1708.3,1042.2 L1710.3,1042.0 L1712.3,1041.9 L1714.2,1041.7 L1716.2,1041.5 L1718.2,1041.4 L1720.2,1041.2 L1722.2,1041.1 L1724.2,1040.9 L1726.2,1040.7 L1728.2,1040.6 L1730.2,1040.4 L1732.2,1040.2 L1734.2,1040.1 L1736.2,1039.9 L1738.2,1039.7 L1740.2,1039.6 L1742.2,1039.4 L1744.1,1039.2 L1746.1,1039.1 L1748.1,1038.9 L1750.1,1038.7 L1752.1,1038.6 L1754.1,1038.4 L1756.1,1038.2 L1758.1,1038.1 L1760.1,1037.9 L1762.1,1037.7 L1764.1,1037.6 L1766.1,1037.4 L1768.1,1037.2 L1770.1,1037.1 L1772.0,1036.9 L1774.0,1036.7 L1776.0,1036.6 L1778.0,1036.4 L1780.0,1036.2 L1782.0,1036.1 L1784.0,1035.9 L1786.0,1035.7 L1788.0,1035.6 L1790.0,1035.4 L1792.0,1035.2 L1794.0,1035.1 L1796.0,1034.9 L1798.0,1034.7 L1800.0,1034.6 L1801.9,1034.4 L1803.9,1034.2 L1805.9,1034.1 L1807.9,1033.9 L1809.9,1033.8 L1811.9,1033.6 L1813.9,1033.4 L1815.9,1033.3 L1817.9,1033.1 L1819.9,1032.9 L1821.9,1032.8 L1823.9,1032.6 L1825.9,1032.5 L1827.9,1032.3 L1829.9,1032.1 L1831.8,1032.0 L1833.8,1031.8 L1835.8,1031.6 L1837.8,1031.5 L1839.8,1031.3 L1841.8,1031.2 L1843.8,1031.0 L1845.8,1030.8 L1847.8,1030.7 L1849.8,1030.5 L1851.8,1030.3 L1853.8,1030.2 L1855.8,1030.0 L1857.8,1029.8 L1859.8,1029.7 L1861.7,1029.5 L1863.7,1029.4 L1865.7,1029.2 L1867.7,1029.0 L1869.7,1028.9 L1871.7,1028.7 L1873.7,1028.5 L1875.7,1028.4 L1877.7,1028.2 L1879.7,1028.0 L1881.7,1027.8 L1883.7,1027.7 L1885.7,1027.5 L1887.7,1027.3 L1889.6,1027.2 L1891.6,1027.0 L1893.6,1026.8 L1895.6,1026.6 L1897.6,1026.5 L1899.6,1026.3 L1899.8,1026.3" fill="none" stroke="#0a0c08" stroke-width="11" stroke-linecap="round" stroke-linejoin="round"/>
<path d="M1164.8,1046.4 L1166.8,1046.5 L1168.8,1046.6 L1170.8,1046.7 L1172.8,1046.8 L1174.8,1046.8 L1176.7,1046.9 L1178.7,1047.0 L1180.7,1047.1 L1182.7,1047.2 L1184.7,1047.3 L1186.7,1047.4 L1188.7,1047.5 L1190.7,1047.6 L1192.7,1047.7 L1194.7,1047.8 L1196.7,1047.9 L1198.7,1048.0 L1200.7,1048.1 L1202.7,1048.2 L1204.7,1048.3 L1206.7,1048.4 L1208.7,1048.5 L1210.7,1048.6 L1212.7,1048.7 L1214.7,1048.8 L1216.7,1048.9 L1218.7,1049.0 L1220.7,1049.1 L1222.7,1049.2 L1224.7,1049.3 L1226.7,1049.4 L1228.7,1049.5 L1230.7,1049.6 L1232.7,1049.7 L1234.7,1049.8 L1236.7,1049.9 L1238.7,1050.0 L1240.7,1050.1 L1242.7,1050.2 L1244.7,1050.3 L1246.7,1050.4 L1248.7,1050.5 L1250.7,1050.6 L1252.7,1050.7 L1254.7,1050.8 L1256.7,1050.9 L1258.7,1051.0 L1260.6,1051.1 L1262.6,1051.2 L1264.6,1051.2 L1266.6,1051.3 L1268.6,1051.4 L1270.6,1051.5 L1272.6,1051.6 L1274.6,1051.7 L1276.6,1051.8 L1278.6,1051.9 L1280.6,1052.0 L1282.6,1052.1 L1284.6,1052.2 L1286.6,1052.3 L1288.6,1052.3 L1290.6,1052.4 L1292.6,1052.5 L1294.6,1052.6 L1296.6,1052.7 L1298.6,1052.8 L1300.6,1052.9 L1302.6,1053.0 L1304.6,1053.0 L1306.6,1053.1 L1308.6,1053.2 L1310.6,1053.3 L1312.6,1053.4 L1314.6,1053.5 L1316.6,1053.5 L1318.6,1053.6 L1320.6,1053.7 L1322.6,1053.8 L1324.6,1053.9 L1326.6,1053.9 L1328.6,1054.0 L1330.6,1054.1 L1332.6,1054.2 L1334.6,1054.3 L1336.6,1054.3 L1338.6,1054.4 L1340.6,1054.5 L1342.6,1054.5 L1344.6,1054.6 L1346.6,1054.7 L1348.6,1054.8 L1350.6,1054.8 L1352.6,1054.9 L1354.6,1055.0 L1356.6,1055.0 L1358.6,1055.1 L1360.6,1055.2 L1362.6,1055.2 L1364.6,1055.3 L1366.6,1055.4 L1368.6,1055.4 L1370.6,1055.5 L1372.6,1055.5 L1374.6,1055.6 L1376.6,1055.7 L1378.6,1055.7 L1380.6,1055.8 L1382.6,1055.8 L1384.6,1055.9 L1386.6,1055.9 L1388.6,1056.0 L1390.6,1056.1 L1392.5,1056.1 L1394.5,1056.2 L1396.5,1056.2 L1398.5,1056.2 L1400.5,1056.3 L1402.5,1056.3 L1404.5,1056.4 L1406.5,1056.4 L1408.5,1056.5 L1410.5,1056.5 L1412.5,1056.6 L1414.5,1056.6 L1416.5,1056.6 L1418.5,1056.7 L1420.5,1056.7 L1422.5,1056.7 L1424.5,1056.8 L1426.5,1056.8 L1428.5,1056.8 L1430.5,1056.9 L1432.5,1056.9 L1434.5,1056.9 L1436.5,1056.9 L1438.5,1057.0 L1440.5,1057.0 L1442.5,1057.0 L1444.5,1057.0 L1446.5,1057.1 L1448.5,1057.1 L1450.5,1057.1 L1452.5,1057.1 L1454.5,1057.1 L1456.5,1057.1 L1458.5,1057.1 L1460.5,1057.1 L1462.5,1057.2 L1464.5,1057.2 L1466.5,1057.2 L1468.5,1057.2 L1470.5,1057.2 L1472.5,1057.2 L1474.5,1057.2 L1476.5,1057.2 L1478.5,1057.2 L1480.5,1057.2 L1482.5,1057.2 L1484.5,1057.1 L1486.5,1057.1 L1488.5,1057.1 L1490.5,1057.1 L1492.5,1057.1 L1494.5,1057.1 L1496.5,1057.1 L1498.5,1057.1 L1500.5,1057.0 L1502.5,1057.0 L1504.5,1057.0 L1506.5,1057.0 L1508.5,1056.9 L1510.5,1056.9 L1512.5,1056.9 L1514.5,1056.8 L1516.5,1056.8 L1518.5,1056.8 L1520.5,1056.7 L1522.5,1056.7 L1524.5,1056.7 L1526.5,1056.6 L1528.5,1056.6 L1530.5,1056.5 L1532.5,1056.5 L1534.5,1056.4 L1536.5,1056.4 L1538.5,1056.3 L1540.5,1056.3 L1542.5,1056.2 L1544.5,1056.1 L1546.5,1056.1 L1548.5,1056.0 L1550.5,1056.0 L1552.5,1055.9 L1554.5,1055.8 L1556.5,1055.8 L1558.5,1055.7 L1560.5,1055.6 L1562.5,1055.5 L1564.5,1055.5 L1566.5,1055.4 L1568.5,1055.3 L1570.5,1055.2 L1572.5,1055.1 L1574.5,1055.0 L1576.5,1055.0 L1578.5,1054.9 L1580.5,1054.8 L1582.5,1054.7 L1584.5,1054.6 L1586.5,1054.5 L1588.5,1054.4 L1590.5,1054.3 L1592.5,1054.2 L1594.5,1054.1 L1596.5,1054.0 L1598.5,1053.9 L1600.5,1053.8 L1602.5,1053.7 L1604.5,1053.6 L1606.5,1053.5 L1608.5,1053.4 L1610.5,1053.3 L1612.5,1053.1 L1614.5,1053.0 L1616.5,1052.9 L1618.5,1052.8 L1620.4,1052.7 L1622.4,1052.6 L1624.4,1052.4 L1626.4,1052.3 L1628.4,1052.2 L1630.4,1052.1 L1632.4,1051.9 L1634.4,1051.8 L1636.4,1051.7 L1638.4,1051.6 L1640.4,1051.4 L1642.4,1051.3 L1644.4,1051.2 L1646.4,1051.0 L1648.4,1050.9 L1650.4,1050.8 L1652.4,1050.6 L1654.4,1050.5 L1656.4,1050.4 L1658.4,1050.2 L1660.4,1050.1 L1662.4,1049.9 L1664.4,1049.8 L1666.3,1049.7 L1668.3,1049.5 L1670.3,1049.4 L1672.3,1049.2 L1674.3,1049.1 L1676.3,1048.9 L1678.3,1048.8 L1680.3,1048.6 L1682.3,1048.5 L1684.3,1048.4 L1686.3,1048.2 L1688.3,1048.1 L1690.3,1047.9 L1692.3,1047.8 L1694.3,1047.6 L1696.3,1047.4 L1698.3,1047.3 L1700.3,1047.1 L1702.2,1047.0 L1704.2,1046.8 L1706.2,1046.7 L1708.2,1046.5 L1710.2,1046.4 L1712.2,1046.2 L1714.2,1046.0 L1716.2,1045.9 L1718.2,1045.7 L1720.2,1045.6 L1722.2,1045.4 L1724.2,1045.3 L1726.2,1045.1 L1728.2,1044.9 L1730.2,1044.8 L1732.2,1044.6 L1734.1,1044.5 L1736.1,1044.3 L1738.1,1044.1 L1740.1,1044.0 L1742.1,1043.8 L1744.1,1043.6 L1746.1,1043.5 L1748.1,1043.3 L1750.1,1043.2 L1752.1,1043.0 L1754.1,1042.8 L1756.1,1042.7 L1758.1,1042.5 L1760.1,1042.3 L1762.1,1042.2 L1764.0,1042.0 L1766.0,1041.9 L1768.0,1041.7 L1770.0,1041.5 L1772.0,1041.4 L1774.0,1041.2 L1776.0,1041.0 L1778.0,1040.9 L1780.0,1040.7 L1782.0,1040.6 L1784.0,1040.4 L1786.0,1040.2 L1788.0,1040.1 L1790.0,1039.9 L1792.0,1039.7 L1794.0,1039.6 L1795.9,1039.4 L1797.9,1039.3 L1799.9,1039.1 L1801.9,1038.9 L1803.9,1038.8 L1805.9,1038.6 L1807.9,1038.5 L1809.9,1038.3 L1811.9,1038.1 L1813.9,1038.0 L1815.9,1037.8 L1817.9,1037.7 L1819.9,1037.5 L1821.9,1037.3 L1823.9,1037.2 L1825.8,1037.0 L1827.8,1036.9 L1829.8,1036.7 L1831.8,1036.6 L1833.8,1036.4 L1835.8,1036.2 L1837.8,1036.1 L1839.8,1035.9 L1841.8,1035.8 L1843.8,1035.6 L1845.8,1035.5 L1847.8,1035.3 L1849.8,1035.1 L1851.8,1035.0 L1853.8,1034.8 L1855.8,1034.7 L1857.7,1034.5 L1859.7,1034.3 L1861.7,1034.2 L1863.7,1034.0 L1865.7,1033.9 L1867.7,1033.7 L1869.7,1033.5 L1871.7,1033.4 L1873.7,1033.2 L1875.7,1033.1 L1877.7,1032.9 L1879.7,1032.7 L1881.7,1032.6 L1883.7,1032.4 L1885.7,1032.3 L1887.7,1032.1 L1889.6,1031.9 L1891.6,1031.8 L1893.6,1031.6 L1895.6,1031.4 L1897.6,1031.3 L1899.6,1031.1 L1899.8,1031.1" fill="none" stroke="#30408c" stroke-width="11" stroke-linecap="round" stroke-linejoin="round"/>
<path d="M1164.8,1044.4 L1166.8,1044.5 L1168.8,1044.6 L1170.8,1044.7 L1172.8,1044.8 L1174.8,1044.8 L1176.7,1044.9 L1178.7,1045.0 L1180.7,1045.1 L1182.7,1045.2 L1184.7,1045.3 L1186.7,1045.4 L1188.7,1045.5 L1190.7,1045.6 L1192.7,1045.7 L1194.7,1045.8 L1196.7,1045.9 L1198.7,1046.0 L1200.7,1046.1 L1202.7,1046.2 L1204.7,1046.3 L1206.7,1046.4 L1208.7,1046.5 L1210.7,1046.6 L1212.7,1046.7 L1214.7,1046.8 L1216.7,1046.9 L1218.7,1047.0 L1220.7,1047.1 L1222.7,1047.2 L1224.7,1047.3 L1226.7,1047.4 L1228.7,1047.5 L1230.7,1047.6 L1232.7,1047.7 L1234.7,1047.8 L1236.7,1047.9 L1238.7,1048.0 L1240.7,1048.1 L1242.7,1048.2 L1244.7,1048.3 L1246.7,1048.4 L1248.7,1048.5 L1250.7,1048.6 L1252.7,1048.7 L1254.7,1048.8 L1256.7,1048.9 L1258.7,1049.0 L1260.6,1049.1 L1262.6,1049.2 L1264.6,1049.2 L1266.6,1049.3 L1268.6,1049.4 L1270.6,1049.5 L1272.6,1049.6 L1274.6,1049.7 L1276.6,1049.8 L1278.6,1049.9 L1280.6,1050.0 L1282.6,1050.1 L1284.6,1050.2 L1286.6,1050.3 L1288.6,1050.3 L1290.6,1050.4 L1292.6,1050.5 L1294.6,1050.6 L1296.6,1050.7 L1298.6,1050.8 L1300.6,1050.9 L1302.6,1051.0 L1304.6,1051.0 L1306.6,1051.1 L1308.6,1051.2 L1310.6,1051.3 L1312.6,1051.4 L1314.6,1051.5 L1316.6,1051.5 L1318.6,1051.6 L1320.6,1051.7 L1322.6,1051.8 L1324.6,1051.9 L1326.6,1051.9 L1328.6,1052.0 L1330.6,1052.1 L1332.6,1052.2 L1334.6,1052.3 L1336.6,1052.3 L1338.6,1052.4 L1340.6,1052.5 L1342.6,1052.5 L1344.6,1052.6 L1346.6,1052.7 L1348.6,1052.8 L1350.6,1052.8 L1352.6,1052.9 L1354.6,1053.0 L1356.6,1053.0 L1358.6,1053.1 L1360.6,1053.2 L1362.6,1053.2 L1364.6,1053.3 L1366.6,1053.4 L1368.6,1053.4 L1370.6,1053.5 L1372.6,1053.5 L1374.6,1053.6 L1376.6,1053.7 L1378.6,1053.7 L1380.6,1053.8 L1382.6,1053.8 L1384.6,1053.9 L1386.6,1053.9 L1388.6,1054.0 L1390.6,1054.1 L1392.5,1054.1 L1394.5,1054.2 L1396.5,1054.2 L1398.5,1054.2 L1400.5,1054.3 L1402.5,1054.3 L1404.5,1054.4 L1406.5,1054.4 L1408.5,1054.5 L1410.5,1054.5 L1412.5,1054.6 L1414.5,1054.6 L1416.5,1054.6 L1418.5,1054.7 L1420.5,1054.7 L1422.5,1054.7 L1424.5,1054.8 L1426.5,1054.8 L1428.5,1054.8 L1430.5,1054.9 L1432.5,1054.9 L1434.5,1054.9 L1436.5,1054.9 L1438.5,1055.0 L1440.5,1055.0 L1442.5,1055.0 L1444.5,1055.0 L1446.5,1055.1 L1448.5,1055.1 L1450.5,1055.1 L1452.5,1055.1 L1454.5,1055.1 L1456.5,1055.1 L1458.5,1055.1 L1460.5,1055.1 L1462.5,1055.2 L1464.5,1055.2 L1466.5,1055.2 L1468.5,1055.2 L1470.5,1055.2 L1472.5,1055.2 L1474.5,1055.2 L1476.5,1055.2 L1478.5,1055.2 L1480.5,1055.2 L1482.5,1055.2 L1484.5,1055.1 L1486.5,1055.1 L1488.5,1055.1 L1490.5,1055.1 L1492.5,1055.1 L1494.5,1055.1 L1496.5,1055.1 L1498.5,1055.1 L1500.5,1055.0 L1502.5,1055.0 L1504.5,1055.0 L1506.5,1055.0 L1508.5,1054.9 L1510.5,1054.9 L1512.5,1054.9 L1514.5,1054.8 L1516.5,1054.8 L1518.5,1054.8 L1520.5,1054.7 L1522.5,1054.7 L1524.5,1054.7 L1526.5,1054.6 L1528.5,1054.6 L1530.5,1054.5 L1532.5,1054.5 L1534.5,1054.4 L1536.5,1054.4 L1538.5,1054.3 L1540.5,1054.3 L1542.5,1054.2 L1544.5,1054.1 L1546.5,1054.1 L1548.5,1054.0 L1550.5,1054.0 L1552.5,1053.9 L1554.5,1053.8 L1556.5,1053.8 L1558.5,1053.7 L1560.5,1053.6 L1562.5,1053.5 L1564.5,1053.5 L1566.5,1053.4 L1568.5,1053.3 L1570.5,1053.2 L1572.5,1053.1 L1574.5,1053.0 L1576.5,1053.0 L1578.5,1052.9 L1580.5,1052.8 L1582.5,1052.7 L1584.5,1052.6 L1586.5,1052.5 L1588.5,1052.4 L1590.5,1052.3 L1592.5,1052.2 L1594.5,1052.1 L1596.5,1052.0 L1598.5,1051.9 L1600.5,1051.8 L1602.5,1051.7 L1604.5,1051.6 L1606.5,1051.5 L1608.5,1051.4 L1610.5,1051.3 L1612.5,1051.1 L1614.5,1051.0 L1616.5,1050.9 L1618.5,1050.8 L1620.4,1050.7 L1622.4,1050.6 L1624.4,1050.4 L1626.4,1050.3 L1628.4,1050.2 L1630.4,1050.1 L1632.4,1049.9 L1634.4,1049.8 L1636.4,1049.7 L1638.4,1049.6 L1640.4,1049.4 L1642.4,1049.3 L1644.4,1049.2 L1646.4,1049.0 L1648.4,1048.9 L1650.4,1048.8 L1652.4,1048.6 L1654.4,1048.5 L1656.4,1048.4 L1658.4,1048.2 L1660.4,1048.1 L1662.4,1047.9 L1664.4,1047.8 L1666.3,1047.7 L1668.3,1047.5 L1670.3,1047.4 L1672.3,1047.2 L1674.3,1047.1 L1676.3,1046.9 L1678.3,1046.8 L1680.3,1046.6 L1682.3,1046.5 L1684.3,1046.4 L1686.3,1046.2 L1688.3,1046.1 L1690.3,1045.9 L1692.3,1045.8 L1694.3,1045.6 L1696.3,1045.4 L1698.3,1045.3 L1700.3,1045.1 L1702.2,1045.0 L1704.2,1044.8 L1706.2,1044.7 L1708.2,1044.5 L1710.2,1044.4 L1712.2,1044.2 L1714.2,1044.0 L1716.2,1043.9 L1718.2,1043.7 L1720.2,1043.6 L1722.2,1043.4 L1724.2,1043.3 L1726.2,1043.1 L1728.2,1042.9 L1730.2,1042.8 L1732.2,1042.6 L1734.1,1042.5 L1736.1,1042.3 L1738.1,1042.1 L1740.1,1042.0 L1742.1,1041.8 L1744.1,1041.6 L1746.1,1041.5 L1748.1,1041.3 L1750.1,1041.2 L1752.1,1041.0 L1754.1,1040.8 L1756.1,1040.7 L1758.1,1040.5 L1760.1,1040.3 L1762.1,1040.2 L1764.0,1040.0 L1766.0,1039.9 L1768.0,1039.7 L1770.0,1039.5 L1772.0,1039.4 L1774.0,1039.2 L1776.0,1039.0 L1778.0,1038.9 L1780.0,1038.7 L1782.0,1038.6 L1784.0,1038.4 L1786.0,1038.2 L1788.0,1038.1 L1790.0,1037.9 L1792.0,1037.7 L1794.0,1037.6 L1795.9,1037.4 L1797.9,1037.3 L1799.9,1037.1 L1801.9,1036.9 L1803.9,1036.8 L1805.9,1036.6 L1807.9,1036.5 L1809.9,1036.3 L1811.9,1036.1 L1813.9,1036.0 L1815.9,1035.8 L1817.9,1035.7 L1819.9,1035.5 L1821.9,1035.3 L1823.9,1035.2 L1825.8,1035.0 L1827.8,1034.9 L1829.8,1034.7 L1831.8,1034.6 L1833.8,1034.4 L1835.8,1034.2 L1837.8,1034.1 L1839.8,1033.9 L1841.8,1033.8 L1843.8,1033.6 L1845.8,1033.5 L1847.8,1033.3 L1849.8,1033.1 L1851.8,1033.0 L1853.8,1032.8 L1855.8,1032.7 L1857.7,1032.5 L1859.7,1032.3 L1861.7,1032.2 L1863.7,1032.0 L1865.7,1031.9 L1867.7,1031.7 L1869.7,1031.5 L1871.7,1031.4 L1873.7,1031.2 L1875.7,1031.1 L1877.7,1030.9 L1879.7,1030.7 L1881.7,1030.6 L1883.7,1030.4 L1885.7,1030.3 L1887.7,1030.1 L1889.6,1029.9 L1891.6,1029.8 L1893.6,1029.6 L1895.6,1029.4 L1897.6,1029.3 L1899.6,1029.1 L1899.8,1029.1" fill="none" stroke="#ff4521" stroke-width="11" stroke-linecap="round" stroke-linejoin="round"/>
</g>
<line x1="1922.5" y1="29" x2="1922.5" y2="1329" stroke="#d6d6d6" stroke-width="3"/>
<line x1="306.2" y1="1329" x2="306.2" y2="1358" stroke="#0b0d0a" stroke-width="4.5"/>
<line x1="379.6" y1="1329" x2="379.6" y2="1344" stroke="#0b0d0a" stroke-width="4.5"/>
<line x1="453.0" y1="1329" x2="453.0" y2="1358" stroke="#0b0d0a" stroke-width="4.5"/>
<line x1="526.3" y1="1329" x2="526.3" y2="1344" stroke="#0b0d0a" stroke-width="4.5"/>
<line x1="599.7" y1="1329" x2="599.7" y2="1358" stroke="#0b0d0a" stroke-width="4.5"/>
<line x1="673.1" y1="1329" x2="673.1" y2="1344" stroke="#0b0d0a" stroke-width="4.5"/>
<line x1="746.5" y1="1329" x2="746.5" y2="1358" stroke="#0b0d0a" stroke-width="4.5"/>
<line x1="819.9" y1="1329" x2="819.9" y2="1344" stroke="#0b0d0a" stroke-width="4.5"/>
<line x1="893.3" y1="1329" x2="893.3" y2="1358" stroke="#0b0d0a" stroke-width="4.5"/>
<line x1="966.6" y1="1329" x2="966.6" y2="1344" stroke="#0b0d0a" stroke-width="4.5"/>
<line x1="1040.0" y1="1329" x2="1040.0" y2="1358" stroke="#0b0d0a" stroke-width="4.5"/>
<line x1="1113.4" y1="1329" x2="1113.4" y2="1344" stroke="#0b0d0a" stroke-width="4.5"/>
<line x1="1186.8" y1="1329" x2="1186.8" y2="1358" stroke="#0b0d0a" stroke-width="4.5"/>
<line x1="1260.2" y1="1329" x2="1260.2" y2="1344" stroke="#0b0d0a" stroke-width="4.5"/>
<line x1="1333.6" y1="1329" x2="1333.6" y2="1358" stroke="#0b0d0a" stroke-width="4.5"/>
<line x1="1406.9" y1="1329" x2="1406.9" y2="1344" stroke="#0b0d0a" stroke-width="4.5"/>
<line x1="1480.3" y1="1329" x2="1480.3" y2="1358" stroke="#0b0d0a" stroke-width="4.5"/>
<line x1="1553.7" y1="1329" x2="1553.7" y2="1344" stroke="#0b0d0a" stroke-width="4.5"/>
<line x1="1627.1" y1="1329" x2="1627.1" y2="1358" stroke="#0b0d0a" stroke-width="4.5"/>
<line x1="1700.5" y1="1329" x2="1700.5" y2="1344" stroke="#0b0d0a" stroke-width="4.5"/>
<line x1="1773.8" y1="1329" x2="1773.8" y2="1358" stroke="#0b0d0a" stroke-width="4.5"/>
<line x1="1847.2" y1="1329" x2="1847.2" y2="1344" stroke="#0b0d0a" stroke-width="4.5"/>
<line x1="1920.6" y1="1329" x2="1920.6" y2="1358" stroke="#0b0d0a" stroke-width="4.5"/>
<line x1="292" y1="1211.8" x2="306" y2="1211.8" stroke="#0b0d0a" stroke-width="5"/>
<line x1="279" y1="1089.2" x2="306" y2="1089.2" stroke="#0b0d0a" stroke-width="5"/>
<line x1="292" y1="966.5" x2="306" y2="966.5" stroke="#0b0d0a" stroke-width="5"/>
<line x1="279" y1="843.9" x2="306" y2="843.9" stroke="#0b0d0a" stroke-width="5"/>
<line x1="292" y1="721.3" x2="306" y2="721.3" stroke="#0b0d0a" stroke-width="5"/>
<line x1="279" y1="598.6" x2="306" y2="598.6" stroke="#0b0d0a" stroke-width="5"/>
<line x1="292" y1="476.0" x2="306" y2="476.0" stroke="#0b0d0a" stroke-width="5"/>
<line x1="279" y1="353.4" x2="306" y2="353.4" stroke="#0b0d0a" stroke-width="5"/>
<line x1="292" y1="230.8" x2="306" y2="230.8" stroke="#0b0d0a" stroke-width="5"/>
<line x1="279" y1="108.2" x2="306" y2="108.2" stroke="#0b0d0a" stroke-width="5"/>
<rect x="303" y="1326.2" width="1620" height="8.3" fill="#b5b5b0"/>
<rect x="303" y="1328.9" width="1620" height="2.8" fill="#0b0d0a"/>
<rect x="303" y="29" width="2.9" height="1329" fill="#3c3e37"/>
<rect x="305.9" y="26.3" width="2.8" height="1331.7" fill="#0b0d0a"/>
<text x="306.2" y="1415.8" font-size="56" text-anchor="middle">300</text>
<text x="453.0" y="1415.8" font-size="56" text-anchor="middle">350</text>
<text x="599.7" y="1415.8" font-size="56" text-anchor="middle">400</text>
<text x="746.5" y="1415.8" font-size="56" text-anchor="middle">450</text>
<text x="893.3" y="1415.8" font-size="56" text-anchor="middle">500</text>
<text x="1040.0" y="1415.8" font-size="56" text-anchor="middle">550</text>
<text x="1186.8" y="1415.8" font-size="56" text-anchor="middle">600</text>
<text x="1333.6" y="1415.8" font-size="56" text-anchor="middle">650</text>
<text x="1480.3" y="1415.8" font-size="56" text-anchor="middle">700</text>
<text x="1627.1" y="1415.8" font-size="56" text-anchor="middle">750</text>
<text x="1773.8" y="1415.8" font-size="56" text-anchor="middle">800</text>
<text x="1920.6" y="1415.8" font-size="56" text-anchor="middle">850</text>
<text x="264" y="122.2" font-size="56" text-anchor="end">1.0</text>
<text x="264" y="367.4" font-size="56" text-anchor="end">0.8</text>
<text x="264" y="612.7" font-size="56" text-anchor="end">0.6</text>
<text x="264" y="857.9" font-size="56" text-anchor="end">0.4</text>
<text x="264" y="1103.2" font-size="56" text-anchor="end">0.2</text>
<text transform="translate(83.5,733.5) rotate(-90)" font-size="68" text-anchor="middle">Absorbance</text>
<text x="1113" y="1532.5" font-size="69" text-anchor="middle"><tspan font-family="'Liberation Serif', serif">λ</tspan> (nm)</text>
<line x1="1202.4" y1="1061.1" x2="1207.5" y2="1061.1" stroke="#0b0d0a" stroke-width="3"/>
<line x1="1198" y1="1020.1" x2="1207.5" y2="1020.1" stroke="#0b0d0a" stroke-width="3"/>
<line x1="1202.4" y1="979.1" x2="1207.5" y2="979.1" stroke="#0b0d0a" stroke-width="3"/>
<line x1="1198" y1="938.1" x2="1207.5" y2="938.1" stroke="#0b0d0a" stroke-width="3"/>
<line x1="1202.4" y1="897.1" x2="1207.5" y2="897.1" stroke="#0b0d0a" stroke-width="3"/>
<line x1="1198" y1="856.1" x2="1207.5" y2="856.1" stroke="#0b0d0a" stroke-width="3"/>
<line x1="1202.4" y1="815.1" x2="1207.5" y2="815.1" stroke="#0b0d0a" stroke-width="3"/>
<line x1="1198" y1="774.1" x2="1207.5" y2="774.1" stroke="#0b0d0a" stroke-width="3"/>
<line x1="1202.4" y1="733.1" x2="1207.5" y2="733.1" stroke="#0b0d0a" stroke-width="3"/>
<line x1="1198" y1="692.1" x2="1207.5" y2="692.1" stroke="#0b0d0a" stroke-width="3"/>
<line x1="1202.4" y1="651.1" x2="1207.5" y2="651.1" stroke="#0b0d0a" stroke-width="3"/>
<line x1="1198" y1="610.1" x2="1207.5" y2="610.1" stroke="#0b0d0a" stroke-width="3"/>
<line x1="1202.4" y1="569.1" x2="1207.5" y2="569.1" stroke="#0b0d0a" stroke-width="3"/>
<line x1="1198" y1="528.1" x2="1207.5" y2="528.1" stroke="#0b0d0a" stroke-width="3"/>
<line x1="1202.4" y1="487.1" x2="1207.5" y2="487.1" stroke="#0b0d0a" stroke-width="3"/>
<line x1="1222.2" y1="1068.7" x2="1222.2" y2="1074" stroke="#0b0d0a" stroke-width="2.6"/>
<line x1="1304.4" y1="1068.7" x2="1304.4" y2="1078" stroke="#d9d9d9" stroke-width="2.6"/>
<line x1="1386.5" y1="1068.7" x2="1386.5" y2="1074" stroke="#0b0d0a" stroke-width="2.6"/>
<line x1="1468.6" y1="1068.7" x2="1468.6" y2="1078" stroke="#0b0d0a" stroke-width="2.6"/>
<line x1="1550.7" y1="1068.7" x2="1550.7" y2="1074" stroke="#0b0d0a" stroke-width="2.6"/>
<line x1="1632.8" y1="1068.7" x2="1632.8" y2="1078" stroke="#0b0d0a" stroke-width="2.6"/>
<line x1="1715.0" y1="1068.7" x2="1715.0" y2="1074" stroke="#0b0d0a" stroke-width="2.6"/>
<line x1="1797.1" y1="1068.7" x2="1797.1" y2="1078" stroke="#0b0d0a" stroke-width="2.6"/>
<line x1="1879.2" y1="1068.7" x2="1879.2" y2="1074" stroke="#0b0d0a" stroke-width="2.6"/>
<line x1="1207.5" y1="478" x2="1207.5" y2="1070" stroke="#3c3f3a" stroke-width="3"/>
<line x1="1206" y1="1068.7" x2="1882.3" y2="1068.7" stroke="#3c3f3a" stroke-width="3"/>
<text x="1191" y="1030.6" font-size="44" text-anchor="end">0.024</text>
<text x="1191" y="948.6" font-size="44" text-anchor="end">0.030</text>
<text x="1191" y="866.6" font-size="44" text-anchor="end">0.036</text>
<text x="1191" y="784.6" font-size="44" text-anchor="end">0.042</text>
<text x="1191" y="702.6" font-size="44" text-anchor="end">0.048</text>
<text x="1191" y="620.6" font-size="44" text-anchor="end">0.054</text>
<text x="1191" y="538.6" font-size="44" text-anchor="end">0.060</text>
<text x="1304.4" y="1118.5" font-size="44" text-anchor="middle">600</text>
<text x="1468.6" y="1118.5" font-size="44" text-anchor="middle">640</text>
<text x="1632.8" y="1118.5" font-size="44" text-anchor="middle">680</text>
<text x="1797.1" y="1118.5" font-size="44" text-anchor="middle">720</text>
<text transform="translate(1055,798.3) rotate(-90)" font-size="44" text-anchor="middle">Absorbance</text>
<text x="1532" y="1189" font-size="44" text-anchor="middle"><tspan font-family="'Liberation Serif', serif">λ</tspan> (nm)</text>
<rect x="1210" y="49.6" width="674.5" height="394" fill="#fffbfa" stroke="#2a2c28" stroke-width="2.2"/>
<line x1="1209" y1="49.4" x2="1885.5" y2="49.4" stroke="#9a9c98" stroke-width="2.4"/>
<line x1="1264" y1="93.3" x2="1284" y2="93.3" stroke="#0a0c08" stroke-width="13" stroke-linecap="round"/>
<line x1="1318.5" y1="93.3" x2="1338.5" y2="93.3" stroke="#0a0c08" stroke-width="13" stroke-linecap="round"/>
<text x="1374" y="106.8" font-size="40.3">DMF / irr. 0 min</text>
<line x1="1264" y1="142.3" x2="1284" y2="142.3" stroke="#30408c" stroke-width="13" stroke-linecap="round"/>
<line x1="1318.5" y1="142.3" x2="1338.5" y2="142.3" stroke="#30408c" stroke-width="13" stroke-linecap="round"/>
<text x="1374" y="155.8" font-size="40.3">DMF / 465 nm / irr. 10 min</text>
<line x1="1264" y1="191.2" x2="1284" y2="191.2" stroke="#ff4521" stroke-width="13" stroke-linecap="round"/>
<line x1="1318.5" y1="191.2" x2="1338.5" y2="191.2" stroke="#ff4521" stroke-width="13" stroke-linecap="round"/>
<text x="1374" y="204.7" font-size="40.3">DMF / 624 nm / irr. 2 min</text>
<line x1="1264" y1="239.7" x2="1284" y2="239.7" stroke="#53b848" stroke-width="13" stroke-linecap="round"/>
<line x1="1318.5" y1="239.7" x2="1338.5" y2="239.7" stroke="#53b848" stroke-width="13" stroke-linecap="round"/>
<text x="1374" y="253.2" font-size="40.3">DMF / in dark / 30 min</text>
<line x1="1264" y1="288.8" x2="1354" y2="288.8" stroke="#0a0c08" stroke-width="13" stroke-linecap="round"/>
<text x="1374" y="303.3" font-size="40.3">CHCl<tspan font-size="21" dy="12">3</tspan><tspan dy="-12" dx="10">/ irr. 0 min</tspan></text>
<line x1="1264" y1="349.1" x2="1354" y2="349.1" stroke="#30408c" stroke-width="13" stroke-linecap="round"/>
<text x="1374" y="363.6" font-size="40.3">CHCl<tspan font-size="21" dy="12">3</tspan><tspan dy="-12" dx="10">/ 465 nm / irr. 20 min</tspan></text>
<line x1="1264" y1="410.5" x2="1354" y2="410.5" stroke="#ff4521" stroke-width="13" stroke-linecap="round"/>
<text x="1374" y="425.0" font-size="40.3">CHCl<tspan font-size="21" dy="12">3</tspan><tspan dy="-12" dx="10">/ 405 nm / irr.10 min</tspan></text>
</svg>
</body></html>
